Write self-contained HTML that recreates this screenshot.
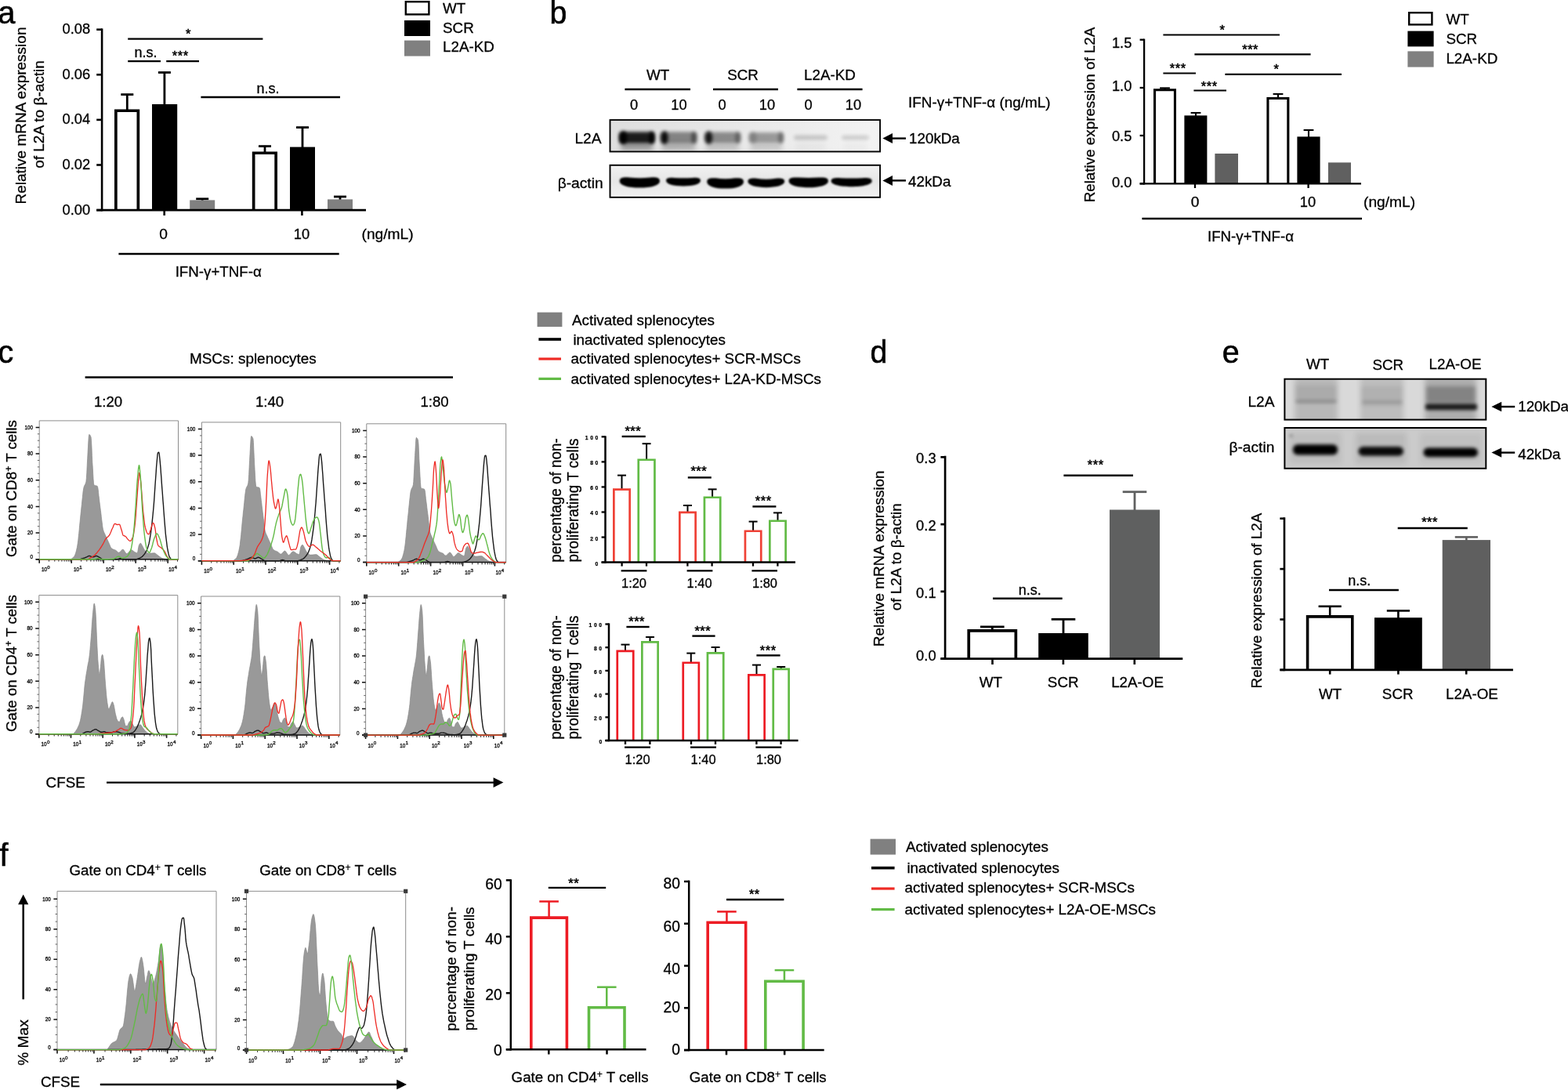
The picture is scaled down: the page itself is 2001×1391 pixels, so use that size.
<!DOCTYPE html>
<html lang="en"><head><meta charset="utf-8"><title>Figure</title>
<style>
html,body{margin:0;padding:0;background:#fff;}
body{width:2001px;height:1391px;overflow:hidden;}
svg{display:block;font-family:"Liberation Sans","DejaVu Sans",sans-serif;}
text{stroke:#000;stroke-width:0.3px;}
</style></head><body>
<svg width="2001" height="1391" viewBox="0 0 2001 1391">
<rect width="2001" height="1391" fill="#fff"/>
<text transform="translate(-2.60 30.40) scale(0.96 1)" font-size="41" style="stroke-width:0.6px">a</text>
<line x1="162.30" y1="120.60" x2="162.30" y2="140.40" stroke="#000" stroke-width="2.8"/>
<line x1="154.30" y1="120.60" x2="170.30" y2="120.60" stroke="#000" stroke-width="2.8"/>
<path d="M147.85,268.10V141.25H176.35V268.10" fill="#fff" stroke="#000" stroke-width="3.7"/>
<line x1="209.90" y1="92.50" x2="209.90" y2="134.00" stroke="#000" stroke-width="2.8"/>
<line x1="201.90" y1="92.50" x2="217.90" y2="92.50" stroke="#000" stroke-width="2.8"/>
<rect x="194.00" y="133.00" width="32.20" height="135.10" fill="#000"/>
<line x1="258.20" y1="253.80" x2="258.20" y2="256.40" stroke="#000" stroke-width="2.8"/>
<line x1="250.20" y1="253.80" x2="266.20" y2="253.80" stroke="#000" stroke-width="2.8"/>
<rect x="242.20" y="255.40" width="32.00" height="12.70" fill="#808080"/>
<line x1="338.00" y1="186.60" x2="338.00" y2="194.40" stroke="#000" stroke-width="2.8"/>
<line x1="330.00" y1="186.60" x2="346.00" y2="186.60" stroke="#000" stroke-width="2.8"/>
<path d="M323.65,268.10V195.25H352.15V268.10" fill="#fff" stroke="#000" stroke-width="3.7"/>
<line x1="386.00" y1="162.60" x2="386.00" y2="188.60" stroke="#000" stroke-width="2.8"/>
<line x1="378.00" y1="162.60" x2="394.00" y2="162.60" stroke="#000" stroke-width="2.8"/>
<rect x="370.00" y="187.60" width="32.00" height="80.50" fill="#000"/>
<line x1="434.00" y1="251.00" x2="434.00" y2="255.40" stroke="#000" stroke-width="2.8"/>
<line x1="426.00" y1="251.00" x2="442.00" y2="251.00" stroke="#000" stroke-width="2.8"/>
<rect x="418.00" y="254.40" width="32.00" height="13.70" fill="#808080"/>
<line x1="130.10" y1="36.40" x2="130.10" y2="269.40" stroke="#000" stroke-width="2.6"/>
<line x1="123.20" y1="268.10" x2="130.10" y2="268.10" stroke="#000" stroke-width="2.6"/>
<text transform="translate(115.20 273.50) scale(0.955 1)" font-size="19.2" text-anchor="end">0.00</text>
<line x1="123.20" y1="210.50" x2="130.10" y2="210.50" stroke="#000" stroke-width="2.6"/>
<text transform="translate(115.20 215.90) scale(0.955 1)" font-size="19.2" text-anchor="end">0.02</text>
<line x1="123.20" y1="152.90" x2="130.10" y2="152.90" stroke="#000" stroke-width="2.6"/>
<text transform="translate(115.20 158.30) scale(0.955 1)" font-size="19.2" text-anchor="end">0.04</text>
<line x1="123.20" y1="95.30" x2="130.10" y2="95.30" stroke="#000" stroke-width="2.6"/>
<text transform="translate(115.20 100.70) scale(0.955 1)" font-size="19.2" text-anchor="end">0.06</text>
<line x1="123.20" y1="37.70" x2="130.10" y2="37.70" stroke="#000" stroke-width="2.6"/>
<text transform="translate(115.20 43.10) scale(0.955 1)" font-size="19.2" text-anchor="end">0.08</text>
<line x1="209.70" y1="268.10" x2="209.70" y2="275.00" stroke="#000" stroke-width="2.6"/>
<line x1="385.40" y1="268.10" x2="385.40" y2="275.00" stroke="#000" stroke-width="2.6"/>
<line x1="123.20" y1="268.10" x2="467.00" y2="268.10" stroke="#000" stroke-width="2.6"/>
<line x1="163.20" y1="49.60" x2="335.40" y2="49.60" stroke="#000" stroke-width="2.4"/>
<text x="240.45" y="49.00" font-size="16.5" text-anchor="middle" letter-spacing="0.5" style="stroke-width:0.55px">*</text>
<line x1="163.20" y1="78.10" x2="205.00" y2="78.10" stroke="#000" stroke-width="2.4"/>
<text transform="translate(186.00 72.80) scale(0.94 1)" font-size="19.2" text-anchor="middle">n.s.</text>
<line x1="212.20" y1="78.10" x2="254.00" y2="78.10" stroke="#000" stroke-width="2.4"/>
<text x="230.25" y="76.60" font-size="16.5" text-anchor="middle" letter-spacing="0.5" style="stroke-width:0.55px">***</text>
<line x1="256.40" y1="124.00" x2="434.00" y2="124.00" stroke="#000" stroke-width="2.4"/>
<text transform="translate(342.00 119.00) scale(0.94 1)" font-size="19.2" text-anchor="middle">n.s.</text>
<text x="208.60" y="305.00" font-size="19.2" text-anchor="middle">0</text>
<text transform="translate(385.00 305.00) scale(0.955 1)" font-size="19.2" text-anchor="middle">10</text>
<text x="461.50" y="305.00" font-size="19.2">(ng/mL)</text>
<line x1="151.40" y1="324.00" x2="432.70" y2="324.00" stroke="#000" stroke-width="2.4"/>
<text transform="translate(278.70 353.00) scale(0.975 1)" font-size="19.2" text-anchor="middle">IFN-γ+TNF-α</text>
<text transform="translate(33.30 147.50) rotate(-90) scale(0.99 1)" font-size="19.2" text-anchor="middle">Relative mRNA expression</text>
<text transform="translate(56.30 146.00) rotate(-90) scale(0.99 1)" font-size="19.2" text-anchor="middle">of L2A to β-actin</text>
<rect x="517.80" y="2.20" width="29.60" height="16.20" fill="#fff" stroke="#000" stroke-width="2.4"/>
<rect x="516.00" y="26.00" width="33.00" height="20.00" fill="#000"/>
<rect x="516.00" y="51.60" width="33.00" height="20.00" fill="#808080"/>
<text transform="translate(565.00 17.00) scale(0.98 1)" font-size="19.2">WT</text>
<text transform="translate(565.00 42.00) scale(0.98 1)" font-size="19.2">SCR</text>
<text transform="translate(565.00 66.40) scale(0.98 1)" font-size="19.2">L2A-KD</text>
<text transform="translate(701.60 30.40) scale(0.96 1)" font-size="41" style="stroke-width:0.6px">b</text>
<text transform="translate(839.60 102.40) scale(0.98 1)" font-size="19.2" text-anchor="middle">WT</text>
<line x1="797.40" y1="114.00" x2="881.00" y2="114.00" stroke="#000" stroke-width="2.4"/>
<text transform="translate(948.00 102.40) scale(0.98 1)" font-size="19.2" text-anchor="middle">SCR</text>
<line x1="910.00" y1="114.00" x2="993.00" y2="114.00" stroke="#000" stroke-width="2.4"/>
<text transform="translate(1059.00 102.40) scale(0.98 1)" font-size="19.2" text-anchor="middle">L2A-KD</text>
<line x1="1017.40" y1="114.00" x2="1100.60" y2="114.00" stroke="#000" stroke-width="2.4"/>
<text transform="translate(809.00 140.40) scale(0.955 1)" font-size="19.2" text-anchor="middle">0</text>
<text transform="translate(866.40 140.40) scale(0.955 1)" font-size="19.2" text-anchor="middle">10</text>
<text transform="translate(921.60 140.40) scale(0.955 1)" font-size="19.2" text-anchor="middle">0</text>
<text transform="translate(979.00 140.40) scale(0.955 1)" font-size="19.2" text-anchor="middle">10</text>
<text transform="translate(1031.60 140.40) scale(0.955 1)" font-size="19.2" text-anchor="middle">0</text>
<text transform="translate(1089.00 140.40) scale(0.955 1)" font-size="19.2" text-anchor="middle">10</text>
<text transform="translate(1159.00 137.00) scale(0.985 1)" font-size="19.2">IFN-γ+TNF-α (ng/mL)</text>
<text x="767.60" y="183.00" font-size="19.2" text-anchor="end">L2A</text>
<text x="769.60" y="240.00" font-size="19.2" text-anchor="end">β-actin</text>
<line x1="1138.00" y1="176.60" x2="1156.00" y2="176.60" stroke="#000" stroke-width="2.4"/>
<polygon points="1126.40,176.60 1139.00,170.10 1139.00,183.10" fill="#000"/>
<text transform="translate(1160.00 183.00) scale(0.98 1)" font-size="19.2">120kDa</text>
<line x1="1138.00" y1="230.40" x2="1156.00" y2="230.40" stroke="#000" stroke-width="2.4"/>
<polygon points="1126.40,230.40 1139.00,223.90 1139.00,236.90" fill="#000"/>
<text transform="translate(1159.00 238.00) scale(0.98 1)" font-size="19.2">42kDa</text>
<defs><filter id="bl3" filterUnits="userSpaceOnUse" x="0" y="0" width="2001" height="1391"><feGaussianBlur stdDeviation="2"/></filter><filter id="bl5" filterUnits="userSpaceOnUse" x="0" y="0" width="2001" height="1391"><feGaussianBlur stdDeviation="3"/></filter><filter id="bl2" filterUnits="userSpaceOnUse" x="0" y="0" width="2001" height="1391"><feGaussianBlur stdDeviation="1.1"/></filter><clipPath id="cb1"><rect x="778.5" y="153.1" width="344.6" height="40.4"/></clipPath><clipPath id="cb2"><rect x="778.5" y="210.8" width="344.6" height="41.0"/></clipPath><linearGradient id="gb1" x1="0" x2="1" y1="0" y2="0"><stop offset="0" stop-color="#dedede"/><stop offset="0.55" stop-color="#e9e9e9"/><stop offset="1" stop-color="#f3f3f3"/></linearGradient><linearGradient id="gb2" x1="0" x2="0" y1="0" y2="1"><stop offset="0" stop-color="#f1f1f1"/><stop offset="0.5" stop-color="#e6e6e6"/><stop offset="1" stop-color="#f1f1f1"/></linearGradient></defs>
<rect x="778.50" y="153.10" width="344.60" height="40.40" fill="url(#gb1)"/>
<g clip-path="url(#cb1)">
<rect x="790.0" y="168.3" width="45.5" height="14.6" rx="4" fill="#000" opacity="0.88" filter="url(#bl3)"/>
<ellipse cx="795.5" cy="175.8" rx="4.6" ry="8.2" fill="#000" opacity="1.0" filter="url(#bl3)"/>
<ellipse cx="831.5" cy="175.8" rx="3.2" ry="7.8" fill="#000" opacity="1.0" filter="url(#bl3)"/>
<rect x="792.0" y="183.5" width="41.5" height="7" rx="3" fill="#000" opacity="0.42" filter="url(#bl5)"/>
<rect x="842.5" y="168.2" width="47.0" height="14.8" rx="4" fill="#000" opacity="0.42" filter="url(#bl3)"/>
<ellipse cx="848.0" cy="175.8" rx="4.6" ry="8.2" fill="#000" opacity="0.92" filter="url(#bl3)"/>
<ellipse cx="885.5" cy="175.8" rx="3.2" ry="7.8" fill="#000" opacity="0.45" filter="url(#bl3)"/>
<rect x="844.5" y="183.5" width="43.0" height="7" rx="3" fill="#000" opacity="0.3" filter="url(#bl5)"/>
<rect x="899.0" y="168.6" width="46.4" height="14.0" rx="4" fill="#000" opacity="0.4" filter="url(#bl3)"/>
<ellipse cx="904.5" cy="175.8" rx="4.6" ry="8.2" fill="#000" opacity="0.85" filter="url(#bl3)"/>
<ellipse cx="941.4" cy="175.8" rx="3.2" ry="7.8" fill="#000" opacity="0.3" filter="url(#bl3)"/>
<rect x="901.0" y="183.5" width="42.4" height="7" rx="3" fill="#000" opacity="0.22" filter="url(#bl5)"/>
<rect x="955.5" y="169.0" width="44.8" height="13.2" rx="4" fill="#000" opacity="0.34" filter="url(#bl3)"/>
<ellipse cx="961.0" cy="175.8" rx="4.6" ry="8.2" fill="#000" opacity="0.15" filter="url(#bl3)"/>
<ellipse cx="996.3" cy="175.8" rx="3.2" ry="7.8" fill="#000" opacity="0.3" filter="url(#bl3)"/>
<rect x="957.5" y="183.5" width="40.8" height="7" rx="3" fill="#000" opacity="0.2" filter="url(#bl5)"/>
<rect x="1013.0" y="172.4" width="43.0" height="6.4" rx="4" fill="#000" opacity="0.17" filter="url(#bl3)"/>
<rect x="1015.0" y="183.5" width="39.0" height="7" rx="3" fill="#000" opacity="0.04" filter="url(#bl5)"/>
<rect x="1074.0" y="172.8" width="35.0" height="5.6" rx="4" fill="#000" opacity="0.15" filter="url(#bl3)"/>
<rect x="1076.0" y="183.5" width="31.0" height="7" rx="3" fill="#000" opacity="0.03" filter="url(#bl5)"/>
</g>
<rect x="778.50" y="153.10" width="344.60" height="40.40" fill="none" stroke="#000" stroke-width="1.9"/>
<rect x="778.50" y="210.80" width="344.60" height="41.00" fill="url(#gb2)"/>
<g clip-path="url(#cb2)" filter="url(#bl2)">
<path d="M790.7,231.0 C790.7,226.5 795.8,226.0 803.0,226.5 Q816.4,228.0 829.7,226.5 C836.9,226.0 842.0,226.5 842.0,231.0 C842.0,236.7 830.7,239.6 816.4,239.6 C802.0,239.6 790.7,236.7 790.7,231.0Z" fill="#000"/>
<path d="M850.0,230.5 C850.0,226.9 854.4,226.4 860.6,226.9 Q872.0,227.4 883.4,226.9 C889.6,226.4 894.0,226.9 894.0,230.5 C894.0,235.0 884.3,237.4 872.0,237.4 C859.7,237.4 850.0,235.0 850.0,230.5Z" fill="#000"/>
<path d="M902.2,231.9 C902.2,227.3 906.9,226.8 913.4,227.3 Q925.6,229.2 937.8,227.3 C944.3,226.8 949.0,227.3 949.0,231.9 C949.0,237.6 938.7,240.6 925.6,240.6 C912.5,240.6 902.2,237.6 902.2,231.9Z" fill="#000"/>
<path d="M954.4,231.6 C954.4,227.7 959.1,227.2 965.6,227.7 Q977.8,230.0 990.0,227.7 C996.5,227.2 1001.2,227.7 1001.2,231.6 C1001.2,236.6 990.9,239.2 977.8,239.2 C964.7,239.2 954.4,236.6 954.4,231.6Z" fill="#000"/>
<path d="M1006.6,230.9 C1006.6,226.6 1011.6,226.1 1018.7,226.6 Q1031.8,227.3 1044.9,226.6 C1052.0,226.1 1057.0,226.6 1057.0,230.9 C1057.0,236.4 1045.9,239.2 1031.8,239.2 C1017.7,239.2 1006.6,236.4 1006.6,230.9Z" fill="#000"/>
<path d="M1060.6,231.0 C1060.6,227.2 1065.8,226.7 1073.1,227.2 Q1086.7,227.7 1100.2,227.2 C1107.5,226.7 1112.7,227.2 1112.7,231.0 C1112.7,235.7 1101.2,238.2 1086.7,238.2 C1072.1,238.2 1060.6,235.7 1060.6,231.0Z" fill="#000"/>
</g>
<rect x="778.50" y="210.80" width="344.60" height="41.00" fill="none" stroke="#000" stroke-width="1.9"/>
<line x1="1486.50" y1="112.40" x2="1486.50" y2="114.20" stroke="#000" stroke-width="2.1"/>
<line x1="1480.10" y1="112.40" x2="1492.90" y2="112.40" stroke="#000" stroke-width="2.1"/>
<path d="M1473.55,234.40V114.75H1499.45V234.40" fill="#fff" stroke="#000" stroke-width="3.1"/>
<line x1="1526.00" y1="144.00" x2="1526.00" y2="148.40" stroke="#000" stroke-width="2.1"/>
<line x1="1519.60" y1="144.00" x2="1532.40" y2="144.00" stroke="#000" stroke-width="2.1"/>
<rect x="1511.40" y="147.40" width="29.00" height="87.00" fill="#000"/>
<rect x="1550.40" y="196.00" width="29.60" height="38.40" fill="#606060"/>
<line x1="1631.00" y1="120.00" x2="1631.00" y2="125.00" stroke="#000" stroke-width="2.1"/>
<line x1="1624.60" y1="120.00" x2="1637.40" y2="120.00" stroke="#000" stroke-width="2.1"/>
<path d="M1617.95,234.40V125.55H1643.85V234.40" fill="#fff" stroke="#000" stroke-width="3.1"/>
<line x1="1670.00" y1="166.00" x2="1670.00" y2="175.40" stroke="#000" stroke-width="2.1"/>
<line x1="1663.60" y1="166.00" x2="1676.40" y2="166.00" stroke="#000" stroke-width="2.1"/>
<rect x="1655.40" y="174.40" width="29.20" height="60.00" fill="#000"/>
<rect x="1695.00" y="207.40" width="29.00" height="27.00" fill="#606060"/>
<line x1="1460.10" y1="49.60" x2="1460.10" y2="235.50" stroke="#000" stroke-width="2.3"/>
<line x1="1454.60" y1="234.40" x2="1460.10" y2="234.40" stroke="#000" stroke-width="2.3"/>
<text transform="translate(1444.40 238.80) scale(0.955 1)" font-size="19.2" text-anchor="end">0.0</text>
<line x1="1454.60" y1="173.00" x2="1460.10" y2="173.00" stroke="#000" stroke-width="2.3"/>
<text transform="translate(1444.40 179.60) scale(0.955 1)" font-size="19.2" text-anchor="end">0.5</text>
<line x1="1454.60" y1="112.00" x2="1460.10" y2="112.00" stroke="#000" stroke-width="2.3"/>
<text transform="translate(1444.40 116.00) scale(0.955 1)" font-size="19.2" text-anchor="end">1.0</text>
<line x1="1454.60" y1="50.70" x2="1460.10" y2="50.70" stroke="#000" stroke-width="2.3"/>
<text transform="translate(1444.40 60.80) scale(0.955 1)" font-size="19.2" text-anchor="end">1.5</text>
<line x1="1525.00" y1="234.40" x2="1525.00" y2="240.00" stroke="#000" stroke-width="2.3"/>
<line x1="1669.60" y1="234.40" x2="1669.60" y2="240.00" stroke="#000" stroke-width="2.3"/>
<line x1="1454.60" y1="234.40" x2="1737.00" y2="234.40" stroke="#000" stroke-width="2.3"/>
<line x1="1484.40" y1="44.50" x2="1633.00" y2="44.50" stroke="#000" stroke-width="2.2"/>
<text x="1559.85" y="44.20" font-size="16.5" text-anchor="middle" letter-spacing="0.5" style="stroke-width:0.55px">*</text>
<line x1="1524.40" y1="69.40" x2="1672.60" y2="69.40" stroke="#000" stroke-width="2.2"/>
<text x="1595.65" y="69.20" font-size="16.5" text-anchor="middle" letter-spacing="0.5" style="stroke-width:0.55px">***</text>
<line x1="1484.40" y1="93.50" x2="1526.00" y2="93.50" stroke="#000" stroke-width="2.2"/>
<text x="1503.25" y="93.00" font-size="16.5" text-anchor="middle" letter-spacing="0.5" style="stroke-width:0.55px">***</text>
<line x1="1563.40" y1="94.80" x2="1712.00" y2="94.80" stroke="#000" stroke-width="2.2"/>
<text x="1628.85" y="94.20" font-size="16.5" text-anchor="middle" letter-spacing="0.5" style="stroke-width:0.55px">*</text>
<line x1="1523.40" y1="115.50" x2="1565.00" y2="115.50" stroke="#000" stroke-width="2.2"/>
<text x="1543.25" y="116.00" font-size="16.5" text-anchor="middle" letter-spacing="0.5" style="stroke-width:0.55px">***</text>
<text x="1525.00" y="263.60" font-size="19.2" text-anchor="middle">0</text>
<text transform="translate(1669.00 263.60) scale(0.955 1)" font-size="19.2" text-anchor="middle">10</text>
<text x="1740.00" y="263.60" font-size="19.2">(ng/mL)</text>
<line x1="1457.40" y1="279.00" x2="1738.00" y2="279.00" stroke="#000" stroke-width="2.4"/>
<text transform="translate(1596.00 308.00) scale(0.975 1)" font-size="19.2" text-anchor="middle">IFN-γ+TNF-α</text>
<text transform="translate(1396.50 146.50) rotate(-90) scale(0.98 1)" font-size="19.2" text-anchor="middle">Relative expression of L2A</text>
<rect x="1798.20" y="16.20" width="29.20" height="15.20" fill="#fff" stroke="#000" stroke-width="2.4"/>
<rect x="1796.40" y="39.60" width="33.20" height="19.80" fill="#000"/>
<rect x="1796.40" y="65.40" width="33.20" height="20.20" fill="#808080"/>
<text transform="translate(1845.40 31.00) scale(0.98 1)" font-size="19.2">WT</text>
<text transform="translate(1845.40 55.60) scale(0.98 1)" font-size="19.2">SCR</text>
<text transform="translate(1845.40 80.60) scale(0.98 1)" font-size="19.2">L2A-KD</text>
<text transform="translate(-2.40 463.20) scale(0.96 1)" font-size="41" style="stroke-width:0.6px">c</text>
<text transform="translate(242.00 464.00) scale(0.985 1)" font-size="19.2">MSCs: splenocytes</text>
<line x1="108.60" y1="481.50" x2="578.00" y2="481.50" stroke="#000" stroke-width="2.4"/>
<text transform="translate(138.00 518.60) scale(0.97 1)" font-size="19.2" text-anchor="middle">1:20</text>
<text transform="translate(344.00 518.60) scale(0.97 1)" font-size="19.2" text-anchor="middle">1:40</text>
<text transform="translate(554.60 518.60) scale(0.97 1)" font-size="19.2" text-anchor="middle">1:80</text>
<text transform="translate(21.00 623.50) rotate(-90) scale(0.975 1)" font-size="19.2" text-anchor="middle">Gate on CD8<tspan dy="-6.5" font-size="12.5">+</tspan><tspan dy="6.5"> T cells</tspan></text>
<text transform="translate(21.00 846.50) rotate(-90) scale(0.975 1)" font-size="19.2" text-anchor="middle">Gate on CD4<tspan dy="-6.5" font-size="12.5">+</tspan><tspan dy="6.5"> T cells</tspan></text>
<g>
<path d="M50.2,713.8 V536.9 H227.5 V713.8" fill="none" stroke="#8c8c8c" stroke-width="1"/>
<path d="M90.4,713.8 L90.8,713.4 L91.3,713.1 L91.7,712.7 L92.2,712.4 L92.6,712.1 L93.1,711.7 L93.5,711.3 L94.0,710.9 L94.4,710.4 L94.9,709.8 L95.3,709.0 L95.8,708.1 L96.2,706.9 L96.6,705.6 L97.1,704.1 L97.5,702.4 L97.9,700.6 L98.4,698.6 L98.8,696.1 L99.3,693.0 L99.8,689.2 L100.2,685.0 L100.7,680.5 L101.2,675.7 L101.6,670.8 L102.1,665.9 L102.6,661.1 L103.0,656.5 L103.5,652.2 L103.9,648.1 L104.4,643.7 L104.8,639.2 L105.3,634.8 L105.7,630.7 L106.1,627.0 L106.6,624.0 L107.0,621.9 L107.5,620.3 L108.0,619.3 L108.5,618.5 L108.9,617.6 L109.4,616.4 L109.9,614.6 L110.3,610.5 L110.8,603.3 L111.2,594.4 L111.7,585.2 L112.1,577.4 L112.5,570.3 L112.9,562.8 L113.3,556.9 L113.8,554.5 L114.2,554.6 L114.7,555.1 L115.2,555.7 L115.6,556.7 L116.1,557.9 L116.5,562.3 L117.0,571.1 L117.4,581.4 L117.8,590.2 L118.3,597.3 L118.7,604.9 L119.1,611.8 L119.5,616.8 L119.9,619.0 L120.4,619.3 L120.9,619.5 L121.4,619.6 L121.8,619.7 L122.3,619.8 L122.8,619.9 L123.3,620.0 L123.8,620.2 L124.3,620.5 L124.7,621.8 L125.2,624.7 L125.6,628.5 L126.0,632.6 L126.5,636.3 L126.9,640.1 L127.4,643.9 L127.9,647.8 L128.4,651.7 L128.9,655.6 L129.3,659.4 L129.7,662.9 L130.2,666.5 L130.6,670.1 L131.0,673.1 L131.4,675.2 L131.9,676.9 L132.3,678.3 L132.8,679.4 L133.3,680.4 L133.8,681.4 L134.2,682.5 L134.7,683.5 L135.2,684.6 L135.6,685.6 L136.1,686.6 L136.5,687.6 L137.0,688.6 L137.4,689.5 L137.9,690.5 L138.3,691.5 L138.8,692.4 L139.2,693.4 L139.6,694.5 L140.1,695.5 L140.5,696.6 L140.9,697.6 L141.4,698.5 L141.8,699.2 L142.2,699.7 L142.7,700.0 L143.2,700.3 L143.7,700.6 L144.2,700.9 L144.7,701.1 L145.1,701.2 L145.6,701.4 L146.1,701.6 L146.6,701.8 L147.1,702.0 L147.5,702.2 L148.0,702.5 L148.5,702.8 L148.9,703.2 L149.3,703.7 L149.7,704.1 L150.2,704.5 L150.6,704.9 L151.0,705.1 L151.5,705.2 L152.0,705.1 L152.4,704.9 L152.9,704.5 L153.4,704.0 L153.9,703.5 L154.4,702.9 L154.9,702.4 L155.3,701.9 L155.8,701.5 L156.3,701.3 L156.8,701.2 L157.2,701.3 L157.7,701.6 L158.1,702.2 L158.6,702.8 L159.0,703.5 L159.5,704.2 L159.9,704.9 L160.4,705.6 L160.8,706.1 L161.3,706.4 L161.7,706.6 L162.2,706.5 L162.7,706.2 L163.2,705.8 L163.6,705.3 L164.1,704.8 L164.6,704.2 L165.1,703.6 L165.5,703.1 L166.0,702.6 L166.5,702.2 L167.0,701.9 L167.5,701.8 L167.9,701.9 L168.4,702.0 L168.8,702.2 L169.2,702.5 L169.7,702.8 L170.1,703.2 L170.6,703.5 L171.0,703.9 L171.5,704.2 L171.9,704.5 L172.4,704.7 L172.8,704.9 L173.3,705.1 L173.7,705.4 L174.2,705.5 L174.6,705.7 L175.0,705.7 L175.5,705.1 L175.9,703.4 L176.3,701.1 L176.7,698.8 L177.1,696.7 L177.5,695.4 L178.0,694.6 L178.4,693.9 L178.9,693.4 L179.4,693.3 L179.8,693.4 L180.2,693.9 L180.6,694.6 L181.0,695.4 L181.4,696.2 L181.8,697.0 L182.3,697.8 L182.7,698.6 L183.2,699.5 L183.7,700.4 L184.1,701.3 L184.6,702.1 L185.0,702.8 L185.5,703.4 L186.0,703.8 L186.4,704.3 L186.9,704.7 L187.3,705.1 L187.8,705.5 L188.2,705.8 L188.7,706.0 L189.1,706.2 L189.6,706.2 L190.1,706.2 L190.5,706.2 L191.0,706.2 L191.4,706.1 L191.9,706.1 L192.4,706.1 L192.8,706.0 L193.3,706.0 L193.8,705.9 L194.2,705.9 L194.7,705.8 L195.1,705.8 L195.6,705.8 L196.1,705.7 L196.5,705.7 L197.0,705.7 L197.4,705.8 L197.9,706.0 L198.3,706.2 L198.8,706.5 L199.3,706.9 L199.7,707.3 L200.2,707.7 L200.6,708.1 L201.1,708.4 L201.6,708.7 L202.0,709.1 L202.5,709.5 L203.0,709.8 L203.5,710.2 L203.9,710.6 L204.4,710.9 L204.9,711.2 L205.4,711.6 L205.9,711.8 L206.3,712.1 L206.8,712.3 L207.3,712.5 L207.8,712.6 L208.3,712.8 L208.7,712.9 L209.2,713.0 L209.7,713.1 L210.2,713.2 L210.6,713.3 L211.1,713.5 L211.6,713.6 L212.1,713.7 L212.6,713.8 Z" fill="#999" stroke="#868686" stroke-width="0.7" stroke-linejoin="round"/>
<path d="M45.6,713.8H50.2 M45.6,680.1H50.2 M45.6,646.4H50.2 M45.6,612.8H50.2 M45.6,579.1H50.2 M45.6,545.4H50.2" stroke="#111" stroke-width="1.5" fill="none"/>
<path d="M47.8,705.4H50.2 M47.8,697.0H50.2 M47.8,688.5H50.2 M47.8,671.7H50.2 M47.8,663.3H50.2 M47.8,654.9H50.2 M47.8,638.0H50.2 M47.8,629.6H50.2 M47.8,621.2H50.2 M47.8,604.3H50.2 M47.8,595.9H50.2 M47.8,587.5H50.2 M47.8,570.7H50.2 M47.8,562.2H50.2 M47.8,553.8H50.2" stroke="#555" stroke-width="0.9" fill="none"/>
<line x1="45.6" y1="713.8" x2="227.5" y2="713.8" stroke="#111" stroke-width="1.5"/>
<path d="M50.2,713.8v5 M91.2,713.8v5 M132.2,713.8v5 M173.2,713.8v5 M214.2,713.8v5" stroke="#111" stroke-width="1.6" fill="none"/>
<path d="M62.5,713.8v2.8 M69.8,713.8v2.8 M74.9,713.8v2.8 M78.9,713.8v2.8 M82.1,713.8v2.8 M84.8,713.8v2.8 M87.2,713.8v2.8 M89.3,713.8v2.8 M103.5,713.8v2.8 M110.8,713.8v2.8 M115.9,713.8v2.8 M119.9,713.8v2.8 M123.1,713.8v2.8 M125.8,713.8v2.8 M128.2,713.8v2.8 M130.3,713.8v2.8 M144.5,713.8v2.8 M151.8,713.8v2.8 M156.9,713.8v2.8 M160.9,713.8v2.8 M164.1,713.8v2.8 M166.8,713.8v2.8 M169.2,713.8v2.8 M171.3,713.8v2.8 M185.5,713.8v2.8 M192.8,713.8v2.8 M197.9,713.8v2.8 M201.9,713.8v2.8 M205.1,713.8v2.8 M207.8,713.8v2.8 M210.2,713.8v2.8 M212.3,713.8v2.8 M226.5,713.8v2.8" stroke="#222" stroke-width="1.0" fill="none"/>
<path d="M50.2,713.8 H101.9 L101.9,713.8 L102.4,713.6 L102.8,713.5 L103.3,713.3 L103.8,713.2 L104.3,713.0 L104.8,712.9 L105.3,712.7 L105.8,712.6 L106.3,712.4 L106.8,712.3 L107.3,712.1 L107.8,712.0 L108.3,711.8 L108.7,711.6 L109.2,711.4 L109.7,711.3 L110.1,711.0 L110.6,710.8 L111.0,710.6 L111.5,710.3 L111.9,710.1 L112.4,709.9 L112.8,709.7 L113.3,709.5 L113.7,709.5 L114.2,709.4 L114.6,709.5 L115.1,709.6 L115.6,709.8 L116.1,710.1 L116.6,710.3 L117.1,710.5 L117.6,710.7 L118.1,710.9 L118.5,710.9 L119.0,710.9 L119.5,710.7 L120.0,710.5 L120.4,710.3 L120.9,710.1 L121.4,709.8 L121.8,709.6 L122.3,709.5 L122.8,709.4 L123.3,709.5 L123.7,709.6 L124.2,709.8 L124.7,710.0 L125.2,710.3 L125.7,710.6 L126.2,710.9 L126.7,711.2 L127.2,711.4 L127.6,711.7 L128.1,712.0 L128.6,712.4 L129.0,712.7 L129.5,713.1 L130.0,713.3 L130.4,713.6 L130.9,713.7 L131.4,713.8 L131.9,713.8 L132.4,713.8 L132.8,713.8 L133.3,713.8 L133.8,713.8 L134.3,713.8 L134.8,713.8 L135.3,713.8 L135.8,713.8 L136.3,713.8 L136.7,713.8 L137.2,713.8 L137.7,713.8 L138.2,713.8 L138.7,713.8 L139.2,713.8 L139.7,713.8 L140.2,713.8 L140.6,713.8 L141.1,713.8 L141.6,713.8 L142.1,713.8 L142.6,713.8 L143.1,713.8 L143.6,713.8 L144.1,713.8 L144.5,713.8 L145.0,713.8 L145.5,713.8 L146.0,713.8 L146.5,713.8 L147.0,713.8 L147.5,713.8 L148.0,713.8 L148.4,713.8 L148.9,713.8 L149.4,713.8 L149.9,713.8 L150.3,713.7 L150.8,713.5 L151.2,713.4 L151.7,713.2 L152.1,713.0 L152.6,712.9 L153.0,712.7 L153.5,712.7 L153.9,712.6 L154.4,712.7 L154.8,712.8 L155.3,712.9 L155.8,713.1 L156.2,713.3 L156.7,713.5 L157.1,713.7 L157.6,713.8 L158.0,713.8 L158.5,713.8 L159.0,713.8 L159.5,713.8 L159.9,713.8 L160.4,713.8 L160.9,713.8 L161.4,713.8 L161.9,713.8 L162.3,713.8 L162.8,713.8 L163.3,713.8 L163.8,713.8 L164.2,713.8 L164.7,713.8 L165.2,713.8 L165.7,713.8 L166.2,713.8 L166.6,713.8 L167.1,713.8 L167.6,713.8 L168.1,713.8 L168.6,713.8 L169.0,713.8 L169.5,713.8 L170.0,713.8 L170.5,713.8 L170.9,713.8 L171.4,713.8 L171.9,713.8 L172.4,713.8 L172.8,713.8 L173.3,713.7 L173.8,713.7 L174.2,713.6 L174.7,713.5 L175.1,713.4 L175.6,713.2 L176.1,713.1 L176.5,712.9 L177.0,712.7 L177.5,712.5 L177.9,712.3 L178.4,712.1 L178.8,711.9 L179.3,711.7 L179.8,711.4 L180.2,711.2 L180.7,710.9 L181.2,710.5 L181.7,710.1 L182.2,709.6 L182.6,709.1 L183.1,708.6 L183.6,708.0 L184.1,707.4 L184.5,706.8 L185.0,706.1 L185.5,705.4 L186.0,704.7 L186.4,703.8 L186.9,702.9 L187.3,701.9 L187.8,700.9 L188.2,699.7 L188.7,698.4 L189.1,697.0 L189.6,695.4 L190.1,693.7 L190.5,691.6 L191.0,689.1 L191.4,686.4 L191.9,683.5 L192.4,680.4 L192.8,677.1 L193.3,673.7 L193.8,669.9 L194.2,665.6 L194.7,660.9 L195.2,655.8 L195.7,650.5 L196.2,644.9 L196.6,639.7 L197.0,634.0 L197.4,628.0 L197.8,622.0 L198.2,616.1 L198.7,609.3 L199.2,602.4 L199.6,595.8 L200.1,590.2 L200.6,584.9 L201.0,580.2 L201.5,577.9 L201.9,577.5 L202.3,577.3 L202.7,577.2 L203.2,578.9 L203.6,582.8 L204.1,587.3 L204.5,592.0 L205.0,597.6 L205.4,603.8 L205.9,610.1 L206.3,616.1 L206.7,621.9 L207.2,627.7 L207.6,633.5 L208.0,639.3 L208.5,644.9 L208.9,651.3 L209.4,657.8 L209.9,664.2 L210.4,670.4 L210.9,676.0 L211.3,681.0 L211.8,685.3 L212.3,689.5 L212.8,693.3 L213.2,696.8 L213.7,699.9 L214.2,702.5 L214.6,704.5 L215.0,706.4 L215.4,708.0 L215.8,709.4 L216.2,710.4 L216.7,711.3 L217.2,712.0 L217.6,712.6 L218.1,713.2 L218.5,713.8 L227.5,713.8" fill="none" stroke="#1a1a1a" stroke-width="1.4" stroke-linejoin="round"/>
<path d="M50.2,713.8 H112.1 L112.1,713.8 L112.6,713.5 L113.1,713.2 L113.5,712.9 L114.0,712.7 L114.5,712.4 L115.0,712.1 L115.5,711.9 L115.9,711.6 L116.4,711.3 L116.9,711.0 L117.4,710.8 L117.8,710.5 L118.3,710.2 L118.8,709.8 L119.3,709.5 L119.8,709.2 L120.2,708.8 L120.7,708.4 L121.2,708.0 L121.7,707.5 L122.2,707.1 L122.6,706.6 L123.1,706.0 L123.6,705.5 L124.1,704.9 L124.5,704.3 L125.0,703.7 L125.5,703.1 L126.0,702.5 L126.5,701.8 L126.9,701.2 L127.4,700.6 L127.9,699.9 L128.4,699.2 L128.9,698.5 L129.3,697.7 L129.8,697.0 L130.3,696.2 L130.8,695.4 L131.2,694.6 L131.7,693.7 L132.2,692.8 L132.7,691.8 L133.2,690.8 L133.6,689.9 L134.1,689.0 L134.6,688.2 L135.1,687.5 L135.5,687.0 L136.0,686.4 L136.5,686.0 L137.0,685.6 L137.5,685.2 L137.9,684.8 L138.4,684.3 L138.9,683.8 L139.4,683.2 L139.9,682.4 L140.3,681.5 L140.8,680.5 L141.3,679.3 L141.8,678.2 L142.2,677.0 L142.7,675.8 L143.2,674.7 L143.7,673.7 L144.2,672.7 L144.6,671.5 L145.1,670.3 L145.6,669.3 L146.1,668.6 L146.6,668.3 L147.0,668.4 L147.5,668.6 L148.0,668.9 L148.5,669.2 L148.9,669.4 L149.4,669.5 L149.9,669.5 L150.4,669.4 L150.9,669.3 L151.3,669.3 L151.8,669.2 L152.3,669.2 L152.8,669.5 L153.2,670.5 L153.7,671.9 L154.2,673.6 L154.7,675.2 L155.2,676.8 L155.6,678.1 L156.0,679.7 L156.4,681.2 L156.8,682.5 L157.2,683.2 L157.7,683.5 L158.2,683.7 L158.6,683.9 L159.1,684.0 L159.6,684.2 L160.1,684.5 L160.5,684.9 L161.0,685.4 L161.5,686.0 L161.9,686.6 L162.4,687.3 L162.8,687.9 L163.3,688.4 L163.8,688.9 L164.2,689.3 L164.7,689.7 L165.1,690.0 L165.6,690.3 L166.0,690.4 L166.5,690.3 L166.9,690.0 L167.3,689.5 L167.8,688.9 L168.2,688.2 L168.6,687.3 L169.1,686.4 L169.5,685.3 L170.0,683.8 L170.5,681.6 L170.9,678.8 L171.4,675.5 L171.9,671.9 L172.4,668.0 L172.8,663.5 L173.3,657.9 L173.7,651.7 L174.2,645.3 L174.6,639.2 L175.1,633.2 L175.5,626.8 L176.0,620.6 L176.4,615.0 L176.9,610.4 L177.2,607.2 L177.6,604.4 L177.9,603.2 L178.4,604.4 L178.8,607.6 L179.3,611.8 L179.8,616.1 L180.2,621.1 L180.7,627.2 L181.2,633.9 L181.7,640.7 L182.2,647.0 L182.6,652.2 L183.1,656.6 L183.6,660.9 L184.1,665.0 L184.5,668.5 L185.0,671.5 L185.5,673.7 L186.0,675.4 L186.5,677.0 L186.9,678.3 L187.4,679.5 L187.9,680.3 L188.4,681.0 L188.8,681.4 L189.2,681.7 L189.6,681.8 L190.1,681.5 L190.6,680.6 L191.0,679.4 L191.5,678.0 L192.0,676.6 L192.5,675.2 L192.9,673.8 L193.4,672.1 L193.9,670.4 L194.4,668.8 L194.9,667.7 L195.3,667.3 L195.8,667.6 L196.2,668.3 L196.6,669.3 L197.0,670.7 L197.4,672.1 L197.8,673.7 L198.2,675.9 L198.6,679.0 L199.0,682.4 L199.4,685.6 L199.9,688.2 L200.3,690.2 L200.7,692.2 L201.1,693.9 L201.5,695.3 L201.9,696.1 L202.4,696.7 L202.8,697.1 L203.3,697.5 L203.7,697.8 L204.2,698.0 L204.7,698.3 L205.1,698.6 L205.6,699.0 L206.1,699.4 L206.5,699.8 L207.0,700.2 L207.5,700.7 L208.0,701.1 L208.5,701.6 L208.9,702.2 L209.4,702.7 L209.9,703.4 L210.3,704.1 L210.8,704.9 L211.2,705.8 L211.6,706.9 L212.1,707.9 L212.5,708.8 L212.9,709.7 L213.4,710.4 L213.9,711.1 L214.3,711.7 L214.8,712.2 L215.3,712.7 L215.8,713.3 L216.2,713.8 L227.5,713.8" fill="none" stroke="#ee2a24" stroke-width="1.3" stroke-linejoin="round"/>
<path d="M50.2,713.8 H120.7 L120.7,713.8 L121.2,713.7 L121.6,713.5 L122.1,713.3 L122.5,713.1 L123.0,713.0 L123.5,712.8 L123.9,712.7 L124.4,712.6 L124.8,712.6 L125.3,712.6 L125.8,712.7 L126.3,712.8 L126.7,712.9 L127.2,713.1 L127.7,713.2 L128.2,713.4 L128.6,713.5 L129.1,713.6 L129.6,713.7 L130.1,713.8 L130.6,713.8 L131.0,713.8 L131.5,713.8 L132.0,713.8 L132.5,713.8 L133.0,713.8 L133.4,713.8 L133.9,713.8 L134.4,713.8 L134.9,713.8 L135.4,713.7 L135.8,713.7 L136.3,713.7 L136.8,713.7 L137.3,713.7 L137.8,713.7 L138.3,713.6 L138.7,713.6 L139.2,713.6 L139.7,713.6 L140.2,713.6 L140.7,713.5 L141.1,713.5 L141.6,713.5 L142.1,713.5 L142.6,713.4 L143.1,713.4 L143.5,713.4 L144.0,713.3 L144.5,713.3 L145.0,713.2 L145.4,713.1 L145.9,712.9 L146.4,712.7 L146.8,712.4 L147.3,712.1 L147.8,711.8 L148.2,711.5 L148.7,711.2 L149.1,710.9 L149.6,710.6 L150.1,710.4 L150.5,710.2 L151.0,710.1 L151.5,710.1 L151.9,710.2 L152.4,710.3 L152.8,710.6 L153.3,710.9 L153.7,711.2 L154.2,711.5 L154.6,711.8 L155.1,712.1 L155.5,712.2 L156.0,712.3 L156.5,712.3 L156.9,712.2 L157.4,712.1 L157.9,712.0 L158.4,711.9 L158.9,711.8 L159.3,711.6 L159.8,711.4 L160.3,711.2 L160.8,710.9 L161.2,710.7 L161.7,710.4 L162.2,710.1 L162.7,709.7 L163.2,709.1 L163.7,708.5 L164.2,707.7 L164.7,706.9 L165.2,705.9 L165.7,704.9 L166.1,703.7 L166.6,702.5 L167.1,701.1 L167.6,699.2 L168.0,696.9 L168.5,694.3 L168.9,691.3 L169.4,688.1 L169.9,684.6 L170.3,681.0 L170.8,676.5 L171.3,671.1 L171.8,665.0 L172.2,658.5 L172.7,651.7 L173.2,644.9 L173.6,638.7 L174.0,631.9 L174.4,625.0 L174.8,618.6 L175.2,613.3 L175.7,608.0 L176.2,602.8 L176.6,598.2 L177.1,595.0 L177.5,593.7 L178.0,595.3 L178.4,599.4 L178.9,604.8 L179.4,610.4 L179.8,616.0 L180.2,622.9 L180.6,630.6 L181.0,638.4 L181.4,645.8 L181.8,652.2 L182.3,658.7 L182.8,665.1 L183.2,671.0 L183.7,676.5 L184.2,681.3 L184.7,685.3 L185.2,688.8 L185.6,692.1 L186.1,695.1 L186.6,697.7 L187.1,699.7 L187.6,701.2 L188.0,702.2 L188.5,703.2 L189.0,704.0 L189.5,704.6 L189.9,705.1 L190.4,705.2 L190.9,705.0 L191.4,704.3 L191.9,703.3 L192.3,702.1 L192.8,700.9 L193.3,699.7 L193.8,698.3 L194.2,696.8 L194.7,695.0 L195.1,693.1 L195.6,691.3 L196.1,689.5 L196.5,688.0 L197.0,686.7 L197.4,685.6 L197.9,684.5 L198.3,683.4 L198.7,682.4 L199.2,681.7 L199.6,681.1 L200.1,681.0 L200.5,681.1 L200.9,681.5 L201.4,682.1 L201.8,682.9 L202.2,683.8 L202.7,684.7 L203.1,685.7 L203.5,686.7 L204.0,687.8 L204.4,689.1 L204.8,690.6 L205.3,692.2 L205.7,693.9 L206.2,695.5 L206.6,697.0 L207.0,698.3 L207.5,699.6 L208.0,700.9 L208.5,702.2 L208.9,703.4 L209.4,704.5 L209.9,705.6 L210.4,706.6 L210.9,707.6 L211.3,708.4 L211.8,709.2 L212.3,709.8 L212.8,710.5 L213.2,711.0 L213.7,711.6 L214.2,712.1 L214.7,712.7 L215.2,713.2 L215.6,713.8 L227.5,713.8" fill="none" stroke="#62bb46" stroke-width="1.4" stroke-linejoin="round"/>
<g font-size="6.3" fill="#222" class="tk">
<text x="42.0" y="713.4" text-anchor="end">0</text>
<text x="42.0" y="682.3" text-anchor="end">20</text>
<text x="42.0" y="648.6" text-anchor="end">40</text>
<text x="42.0" y="615.0" text-anchor="end">60</text>
<text x="42.0" y="581.3" text-anchor="end">80</text>
<text x="42.0" y="547.6" text-anchor="end">100</text>
<text x="53.0" y="729.4">10<tspan dy="-3.6" dx="0.3" font-size="6.2">0</tspan></text>
<text x="94.0" y="729.4">10<tspan dy="-3.6" dx="0.3" font-size="6.2">1</tspan></text>
<text x="135.0" y="729.4">10<tspan dy="-3.6" dx="0.3" font-size="6.2">2</tspan></text>
<text x="176.0" y="729.4">10<tspan dy="-3.6" dx="0.3" font-size="6.2">3</tspan></text>
<text x="215.2" y="729.4">10<tspan dy="-3.6" dx="0.3" font-size="6.2">4</tspan></text>
</g>
</g>
<g>
<path d="M257.4,715.7 V538.9 H434.7 V715.7" fill="none" stroke="#8c8c8c" stroke-width="1"/>
<path d="M297.4,715.7 L297.8,715.3 L298.3,715.0 L298.7,714.6 L299.2,714.3 L299.6,714.0 L300.1,713.6 L300.5,713.2 L301.0,712.8 L301.4,712.3 L301.9,711.7 L302.3,710.9 L302.7,710.0 L303.2,708.8 L303.6,707.5 L304.0,706.0 L304.5,704.3 L304.9,702.5 L305.3,700.6 L305.8,698.1 L306.3,694.9 L306.7,691.1 L307.2,687.0 L307.7,682.4 L308.1,677.7 L308.6,672.8 L309.0,667.9 L309.5,663.0 L310.0,658.4 L310.4,654.1 L310.9,650.1 L311.3,645.7 L311.8,641.2 L312.2,636.8 L312.6,632.7 L313.1,629.0 L313.5,626.0 L313.9,623.9 L314.4,622.4 L314.9,621.3 L315.4,620.5 L315.9,619.6 L316.3,618.4 L316.8,616.6 L317.2,612.6 L317.7,605.3 L318.1,596.4 L318.6,587.3 L319.0,579.5 L319.4,572.4 L319.8,564.9 L320.2,559.0 L320.6,556.6 L321.1,556.7 L321.6,557.1 L322.0,557.8 L322.5,558.8 L323.0,559.9 L323.4,564.4 L323.8,573.2 L324.3,583.5 L324.7,592.2 L325.1,599.4 L325.5,606.9 L325.9,613.8 L326.4,618.9 L326.8,621.0 L327.2,621.3 L327.7,621.5 L328.2,621.7 L328.7,621.7 L329.2,621.8 L329.7,621.9 L330.2,622.0 L330.6,622.2 L331.1,622.5 L331.6,623.8 L332.0,626.7 L332.4,630.5 L332.9,634.6 L333.3,638.3 L333.8,642.0 L334.2,645.9 L334.7,649.8 L335.2,653.7 L335.7,657.6 L336.1,661.4 L336.6,664.8 L337.0,668.5 L337.4,672.0 L337.8,675.0 L338.2,677.2 L338.7,678.9 L339.1,680.2 L339.6,681.4 L340.1,682.4 L340.6,683.4 L341.0,684.4 L341.5,685.5 L341.9,686.5 L342.4,687.5 L342.8,688.5 L343.3,689.5 L343.7,690.5 L344.2,691.5 L344.6,692.4 L345.1,693.4 L345.5,694.3 L346.0,695.3 L346.4,696.4 L346.8,697.5 L347.3,698.5 L347.7,699.5 L348.1,700.4 L348.6,701.1 L349.0,701.6 L349.5,701.9 L350.0,702.3 L350.4,702.5 L350.9,702.8 L351.4,703.0 L351.9,703.2 L352.4,703.3 L352.8,703.5 L353.3,703.7 L353.8,703.9 L354.3,704.2 L354.7,704.4 L355.2,704.7 L355.6,705.2 L356.0,705.6 L356.5,706.0 L356.9,706.5 L357.3,706.8 L357.7,707.0 L358.2,707.1 L358.7,707.0 L359.1,706.8 L359.6,706.4 L360.1,705.9 L360.6,705.4 L361.1,704.8 L361.6,704.3 L362.0,703.8 L362.5,703.4 L363.0,703.2 L363.5,703.1 L363.9,703.2 L364.4,703.6 L364.8,704.1 L365.3,704.7 L365.7,705.4 L366.2,706.1 L366.6,706.8 L367.0,707.5 L367.5,708.0 L367.9,708.3 L368.4,708.5 L368.9,708.4 L369.3,708.1 L369.8,707.7 L370.3,707.2 L370.8,706.7 L371.2,706.1 L371.7,705.5 L372.2,705.0 L372.7,704.5 L373.1,704.1 L373.6,703.9 L374.1,703.8 L374.5,703.8 L375.0,703.9 L375.4,704.2 L375.9,704.4 L376.3,704.7 L376.8,705.1 L377.2,705.4 L377.6,705.8 L378.1,706.1 L378.5,706.4 L379.0,706.6 L379.4,706.8 L379.9,707.1 L380.3,707.3 L380.8,707.5 L381.2,707.6 L381.6,707.6 L382.0,707.0 L382.5,705.3 L382.9,703.0 L383.3,700.7 L383.7,698.6 L384.1,697.4 L384.5,696.6 L385.0,695.9 L385.5,695.4 L385.9,695.2 L386.3,695.4 L386.7,695.8 L387.1,696.5 L387.6,697.3 L388.0,698.1 L388.4,698.9 L388.8,699.7 L389.3,700.5 L389.7,701.4 L390.2,702.4 L390.7,703.2 L391.1,704.0 L391.6,704.7 L392.0,705.3 L392.5,705.7 L392.9,706.2 L393.4,706.6 L393.9,707.0 L394.3,707.4 L394.8,707.7 L395.2,707.9 L395.7,708.1 L396.1,708.1 L396.6,708.1 L397.0,708.1 L397.5,708.1 L398.0,708.1 L398.4,708.0 L398.9,708.0 L399.3,707.9 L399.8,707.9 L400.3,707.8 L400.7,707.8 L401.2,707.7 L401.6,707.7 L402.1,707.7 L402.5,707.6 L403.0,707.6 L403.5,707.6 L403.9,707.7 L404.4,707.9 L404.8,708.1 L405.3,708.4 L405.7,708.8 L406.2,709.2 L406.6,709.6 L407.1,710.0 L407.5,710.3 L408.0,710.6 L408.5,711.0 L409.0,711.4 L409.4,711.7 L409.9,712.1 L410.4,712.5 L410.9,712.8 L411.4,713.1 L411.8,713.5 L412.3,713.7 L412.8,714.0 L413.3,714.2 L413.7,714.4 L414.2,714.5 L414.7,714.7 L415.2,714.8 L415.6,714.9 L416.1,715.0 L416.6,715.1 L417.1,715.2 L417.5,715.4 L418.0,715.5 L418.5,715.6 L419.0,715.7 Z" fill="#999" stroke="#868686" stroke-width="0.7" stroke-linejoin="round"/>
<path d="M252.8,715.7H257.4 M252.8,682.1H257.4 M252.8,648.4H257.4 M252.8,614.8H257.4 M252.8,581.1H257.4 M252.8,547.5H257.4" stroke="#111" stroke-width="1.5" fill="none"/>
<path d="M255.0,707.3H257.4 M255.0,698.9H257.4 M255.0,690.5H257.4 M255.0,673.7H257.4 M255.0,665.2H257.4 M255.0,656.8H257.4 M255.0,640.0H257.4 M255.0,631.6H257.4 M255.0,623.2H257.4 M255.0,606.4H257.4 M255.0,598.0H257.4 M255.0,589.5H257.4 M255.0,572.7H257.4 M255.0,564.3H257.4 M255.0,555.9H257.4" stroke="#555" stroke-width="0.9" fill="none"/>
<line x1="252.8" y1="715.7" x2="434.7" y2="715.7" stroke="#111" stroke-width="1.5"/>
<path d="M257.4,715.7v5 M298.2,715.7v5 M339.0,715.7v5 M379.8,715.7v5 M420.6,715.7v5" stroke="#111" stroke-width="1.6" fill="none"/>
<path d="M269.7,715.7v2.8 M276.9,715.7v2.8 M282.0,715.7v2.8 M285.9,715.7v2.8 M289.1,715.7v2.8 M291.9,715.7v2.8 M294.2,715.7v2.8 M296.3,715.7v2.8 M310.5,715.7v2.8 M317.7,715.7v2.8 M322.8,715.7v2.8 M326.7,715.7v2.8 M329.9,715.7v2.8 M332.7,715.7v2.8 M335.0,715.7v2.8 M337.1,715.7v2.8 M351.3,715.7v2.8 M358.5,715.7v2.8 M363.6,715.7v2.8 M367.5,715.7v2.8 M370.7,715.7v2.8 M373.5,715.7v2.8 M375.8,715.7v2.8 M377.9,715.7v2.8 M392.1,715.7v2.8 M399.3,715.7v2.8 M404.4,715.7v2.8 M408.3,715.7v2.8 M411.5,715.7v2.8 M414.3,715.7v2.8 M416.6,715.7v2.8 M418.7,715.7v2.8 M432.9,715.7v2.8" stroke="#222" stroke-width="1.0" fill="none"/>
<path d="M257.4,715.7 H308.8 L308.8,715.7 L309.3,715.5 L309.8,715.4 L310.3,715.2 L310.8,715.1 L311.3,714.9 L311.7,714.8 L312.2,714.6 L312.7,714.5 L313.2,714.3 L313.7,714.2 L314.2,714.0 L314.7,713.9 L315.2,713.7 L315.7,713.5 L316.2,713.3 L316.6,713.2 L317.0,713.0 L317.5,712.7 L317.9,712.5 L318.4,712.2 L318.8,712.0 L319.3,711.8 L319.7,711.6 L320.2,711.5 L320.6,711.4 L321.0,711.3 L321.5,711.4 L322.0,711.5 L322.5,711.7 L323.0,712.0 L323.5,712.2 L324.0,712.4 L324.4,712.6 L324.9,712.8 L325.4,712.8 L325.9,712.8 L326.3,712.6 L326.8,712.4 L327.3,712.2 L327.7,712.0 L328.2,711.7 L328.7,711.5 L329.1,711.4 L329.6,711.3 L330.1,711.4 L330.6,711.5 L331.1,711.7 L331.6,711.9 L332.0,712.2 L332.5,712.5 L333.0,712.8 L333.5,713.1 L334.0,713.3 L334.4,713.6 L334.9,713.9 L335.4,714.3 L335.8,714.6 L336.3,715.0 L336.8,715.2 L337.3,715.5 L337.7,715.6 L338.2,715.7 L338.7,715.7 L339.2,715.7 L339.6,715.7 L340.1,715.7 L340.6,715.7 L341.1,715.7 L341.6,715.7 L342.1,715.7 L342.6,715.7 L343.0,715.7 L343.5,715.7 L344.0,715.7 L344.5,715.7 L345.0,715.7 L345.5,715.7 L345.9,715.7 L346.4,715.7 L346.9,715.7 L347.4,715.7 L347.9,715.7 L348.4,715.7 L348.9,715.7 L349.3,715.7 L349.8,715.7 L350.3,715.7 L350.8,715.7 L351.3,715.7 L351.8,715.7 L352.3,715.7 L352.7,715.7 L353.2,715.7 L353.7,715.7 L354.2,715.7 L354.7,715.7 L355.2,715.7 L355.7,715.7 L356.1,715.7 L356.6,715.7 L357.0,715.6 L357.5,715.4 L357.9,715.3 L358.4,715.1 L358.8,714.9 L359.3,714.8 L359.7,714.6 L360.2,714.6 L360.6,714.5 L361.1,714.6 L361.5,714.7 L362.0,714.8 L362.4,715.0 L362.9,715.2 L363.3,715.4 L363.8,715.6 L364.3,715.7 L364.7,715.7 L365.2,715.7 L365.7,715.7 L366.1,715.7 L366.6,715.7 L367.1,715.7 L367.6,715.7 L368.0,715.7 L368.5,715.7 L369.0,715.7 L369.5,715.7 L369.9,715.7 L370.4,715.7 L370.9,715.7 L371.4,715.7 L371.8,715.7 L372.3,715.7 L372.8,715.7 L373.3,715.7 L373.7,715.7 L374.2,715.7 L374.7,715.7 L375.2,715.7 L375.7,715.7 L376.1,715.7 L376.6,715.7 L377.1,715.7 L377.6,715.7 L378.0,715.7 L378.5,715.7 L379.0,715.7 L379.4,715.7 L379.9,715.6 L380.4,715.6 L380.8,715.5 L381.3,715.4 L381.7,715.3 L382.2,715.1 L382.7,715.0 L383.1,714.8 L383.6,714.6 L384.0,714.4 L384.5,714.2 L385.0,714.0 L385.4,713.8 L385.9,713.6 L386.3,713.3 L386.8,713.1 L387.3,712.8 L387.8,712.4 L388.2,712.0 L388.7,711.5 L389.2,711.0 L389.7,710.5 L390.1,709.9 L390.6,709.3 L391.1,708.7 L391.6,708.0 L392.0,707.3 L392.5,706.6 L392.9,705.8 L393.4,704.9 L393.9,703.9 L394.3,702.8 L394.8,701.6 L395.2,700.3 L395.7,698.9 L396.1,697.4 L396.6,695.6 L397.0,693.5 L397.5,691.1 L398.0,688.4 L398.4,685.5 L398.9,682.3 L399.3,679.1 L399.8,675.7 L400.3,671.8 L400.7,667.5 L401.2,662.8 L401.7,657.8 L402.2,652.5 L402.6,646.9 L403.1,641.7 L403.5,636.0 L403.9,630.0 L404.3,624.0 L404.7,618.1 L405.2,611.4 L405.6,604.4 L406.1,597.9 L406.6,592.2 L407.0,587.0 L407.5,582.3 L408.0,580.0 L408.4,579.6 L408.8,579.4 L409.2,579.3 L409.6,581.0 L410.1,584.9 L410.6,589.4 L411.0,594.0 L411.4,599.6 L411.9,605.8 L412.3,612.1 L412.7,618.1 L413.2,623.9 L413.6,629.7 L414.0,635.5 L414.5,641.2 L414.9,646.9 L415.4,653.2 L415.8,659.7 L416.3,666.2 L416.8,672.3 L417.3,678.0 L417.7,682.9 L418.2,687.3 L418.7,691.4 L419.2,695.2 L419.6,698.7 L420.1,701.8 L420.6,704.4 L421.0,706.4 L421.4,708.3 L421.8,709.9 L422.2,711.3 L422.6,712.3 L423.1,713.2 L423.5,713.9 L424.0,714.5 L424.4,715.1 L424.9,715.7 L434.7,715.7" fill="none" stroke="#1a1a1a" stroke-width="1.4" stroke-linejoin="round"/>
<path d="M257.4,715.7 H317.0 L317.0,715.7 L317.5,715.3 L317.9,714.9 L318.4,714.5 L318.9,714.1 L319.4,713.7 L319.9,713.3 L320.4,712.9 L320.9,712.5 L321.4,712.1 L321.9,711.7 L322.4,711.3 L322.8,710.9 L323.3,710.5 L323.8,710.1 L324.3,709.6 L324.8,709.2 L325.2,708.7 L325.6,708.2 L326.1,707.7 L326.5,707.2 L327.0,706.8 L327.4,706.5 L327.9,706.4 L328.3,706.5 L328.8,706.7 L329.3,706.9 L329.7,707.2 L330.2,707.5 L330.7,707.9 L331.1,708.3 L331.6,708.6 L332.1,709.0 L332.5,709.3 L333.0,709.7 L333.4,710.1 L333.9,710.6 L334.3,711.0 L334.8,711.4 L335.2,711.8 L335.7,712.1 L336.1,712.3 L336.6,712.3 L337.0,712.3 L337.4,712.0 L337.9,711.7 L338.3,711.2 L338.7,710.7 L339.2,710.2 L339.6,709.6 L340.1,709.0 L340.5,708.3 L341.0,707.5 L341.5,706.5 L341.9,705.5 L342.4,704.4 L342.9,703.2 L343.4,702.0 L343.8,700.8 L344.3,699.6 L344.8,698.4 L345.2,697.1 L345.7,695.8 L346.1,694.5 L346.5,693.0 L347.0,691.6 L347.4,690.1 L347.9,688.5 L348.3,686.8 L348.8,685.1 L349.2,683.2 L349.7,681.1 L350.1,678.8 L350.5,676.5 L351.0,674.2 L351.4,671.9 L351.9,669.8 L352.3,667.9 L352.7,666.2 L353.2,664.6 L353.6,663.1 L354.1,661.6 L354.5,660.2 L355.0,658.9 L355.4,657.6 L355.9,656.3 L356.3,655.2 L356.8,654.2 L357.2,653.2 L357.6,652.3 L358.1,651.3 L358.5,650.3 L359.0,649.1 L359.4,647.7 L359.9,645.9 L360.4,643.5 L360.8,640.9 L361.3,638.2 L361.8,635.6 L362.3,633.3 L362.7,631.0 L363.2,628.6 L363.6,626.3 L364.1,624.7 L364.5,624.0 L365.0,624.4 L365.4,625.3 L365.9,626.7 L366.3,628.5 L366.7,630.4 L367.2,633.4 L367.6,638.0 L368.0,643.3 L368.4,648.3 L368.8,652.1 L369.3,655.5 L369.7,658.6 L370.2,661.4 L370.7,663.8 L371.2,665.8 L371.6,667.1 L372.1,668.0 L372.5,668.8 L373.0,669.5 L373.4,670.0 L373.9,670.1 L374.3,669.9 L374.7,669.4 L375.2,668.6 L375.6,667.6 L376.0,666.4 L376.4,664.5 L376.9,661.4 L377.3,657.6 L377.7,653.4 L378.2,649.1 L378.6,644.4 L379.0,639.1 L379.5,633.5 L379.9,628.0 L380.3,623.2 L380.8,618.6 L381.2,614.1 L381.6,610.4 L382.0,608.1 L382.5,606.6 L383.0,605.6 L383.5,605.2 L384.0,605.8 L384.4,607.3 L384.9,609.4 L385.4,611.8 L385.8,614.7 L386.3,618.8 L386.7,623.6 L387.1,628.6 L387.6,633.3 L388.0,638.4 L388.5,643.8 L389.0,649.2 L389.5,654.4 L389.9,659.3 L390.4,663.6 L390.8,667.1 L391.3,670.6 L391.7,673.7 L392.1,676.3 L392.6,678.0 L392.9,679.1 L393.3,680.0 L393.7,680.6 L394.1,680.9 L394.6,680.5 L395.0,679.6 L395.5,678.2 L396.0,676.7 L396.5,675.1 L396.9,673.7 L397.4,672.2 L397.9,670.7 L398.4,669.1 L398.8,667.6 L399.3,666.2 L399.8,665.1 L400.3,664.1 L400.7,663.2 L401.2,662.3 L401.7,661.6 L402.2,661.1 L402.6,660.7 L403.1,660.5 L403.5,660.3 L403.9,660.2 L404.3,660.1 L404.7,660.0 L405.1,660.3 L405.6,661.1 L406.0,662.2 L406.5,663.5 L406.9,665.1 L407.4,667.3 L407.8,670.5 L408.3,674.3 L408.7,678.4 L409.2,682.2 L409.6,685.8 L410.0,689.6 L410.4,693.4 L410.8,696.8 L411.2,699.6 L411.6,701.8 L412.0,703.8 L412.4,705.6 L412.8,707.1 L413.3,708.1 L413.7,709.0 L414.1,709.7 L414.5,710.4 L415.0,711.0 L415.4,711.4 L415.8,711.7 L416.3,711.8 L416.8,711.8 L417.2,711.7 L417.7,711.6 L418.2,711.5 L418.7,711.4 L419.2,711.3 L419.6,711.4 L420.0,711.7 L420.5,712.2 L420.9,712.7 L421.3,713.3 L421.8,713.9 L422.2,714.3 L422.6,714.7 L423.0,714.9 L423.5,715.1 L423.9,715.3 L424.3,715.5 L424.7,715.7 L434.7,715.7" fill="none" stroke="#62bb46" stroke-width="1.4" stroke-linejoin="round"/>
<path d="M257.4,715.7 H305.5 L305.5,715.7 L306.0,715.6 L306.5,715.6 L307.0,715.5 L307.5,715.5 L308.0,715.4 L308.4,715.4 L308.9,715.3 L309.4,715.3 L309.9,715.3 L310.4,715.2 L310.9,715.2 L311.3,715.1 L311.8,715.1 L312.3,715.0 L312.8,715.0 L313.3,714.9 L313.8,714.9 L314.2,714.8 L314.7,714.8 L315.2,714.7 L315.7,714.6 L316.2,714.5 L316.7,714.4 L317.1,714.3 L317.6,714.2 L318.1,714.1 L318.6,714.0 L319.1,713.9 L319.6,713.6 L320.0,713.3 L320.5,712.9 L321.0,712.5 L321.5,712.0 L321.9,711.4 L322.4,710.8 L322.9,710.2 L323.4,709.5 L323.8,708.8 L324.3,708.1 L324.8,707.4 L325.2,706.4 L325.7,705.3 L326.1,704.1 L326.6,702.8 L327.0,701.6 L327.5,700.3 L327.9,699.2 L328.4,698.2 L328.8,697.3 L329.3,696.5 L329.8,695.8 L330.2,695.1 L330.7,694.5 L331.1,693.8 L331.6,693.2 L332.0,692.5 L332.5,691.8 L332.9,691.0 L333.4,690.2 L333.9,689.2 L334.3,688.1 L334.8,686.8 L335.3,685.4 L335.8,683.7 L336.2,681.7 L336.7,679.4 L337.2,676.5 L337.6,672.6 L338.1,666.9 L338.5,660.0 L339.0,652.6 L339.4,645.1 L339.8,637.4 L340.2,628.6 L340.6,619.6 L341.0,611.3 L341.4,604.7 L341.9,599.0 L342.3,593.5 L342.7,589.5 L343.1,587.9 L343.5,588.5 L343.9,590.3 L344.3,592.8 L344.7,595.8 L345.1,598.8 L345.5,602.5 L345.9,607.2 L346.3,612.3 L346.8,617.4 L347.2,621.8 L347.6,626.2 L348.1,630.4 L348.5,634.3 L349.0,637.8 L349.4,640.5 L349.9,642.9 L350.3,645.2 L350.8,647.2 L351.2,648.6 L351.6,649.1 L352.1,648.5 L352.5,647.1 L353.0,645.2 L353.4,643.4 L353.8,641.6 L354.2,639.5 L354.5,637.7 L354.9,637.0 L355.3,638.0 L355.7,640.4 L356.1,643.4 L356.6,647.9 L357.1,653.9 L357.6,660.4 L358.1,666.4 L358.5,671.7 L358.9,677.0 L359.4,681.7 L359.8,685.1 L360.3,687.7 L360.7,689.9 L361.2,691.5 L361.6,692.2 L362.1,691.7 L362.5,690.6 L363.0,689.2 L363.4,687.7 L363.9,686.6 L364.3,685.7 L364.8,684.7 L365.2,684.0 L365.7,683.7 L366.1,684.2 L366.5,685.3 L367.0,686.7 L367.4,688.1 L367.8,689.7 L368.3,691.5 L368.7,693.4 L369.2,695.2 L369.6,696.7 L370.0,698.0 L370.4,699.4 L370.8,700.6 L371.2,701.4 L371.6,701.7 L372.1,701.7 L372.6,701.6 L373.1,701.5 L373.5,701.4 L374.0,701.3 L374.5,701.2 L375.0,701.2 L375.4,701.2 L375.9,701.2 L376.4,701.1 L376.9,701.1 L377.4,701.1 L377.8,700.8 L378.2,700.0 L378.6,698.8 L379.1,697.4 L379.5,695.7 L379.9,694.0 L380.3,692.3 L380.8,690.1 L381.2,687.2 L381.7,684.0 L382.2,680.9 L382.6,678.3 L383.1,676.5 L383.5,675.2 L384.0,674.1 L384.5,673.3 L384.9,673.0 L385.4,673.3 L385.8,674.2 L386.3,675.3 L386.7,676.5 L387.2,677.9 L387.7,679.7 L388.1,681.7 L388.6,683.9 L389.0,686.0 L389.5,688.0 L389.9,689.7 L390.4,691.0 L390.9,692.0 L391.4,693.0 L391.8,694.0 L392.3,694.9 L392.8,695.7 L393.3,696.4 L393.8,696.9 L394.3,697.3 L394.7,697.4 L395.2,697.3 L395.7,697.1 L396.1,696.8 L396.6,696.5 L397.1,696.1 L397.6,695.7 L398.0,695.5 L398.5,695.3 L399.0,695.2 L399.5,695.2 L399.9,695.4 L400.4,695.7 L400.9,696.1 L401.4,696.5 L401.9,696.9 L402.4,697.4 L402.9,697.8 L403.3,698.2 L403.8,698.6 L404.3,699.0 L404.8,699.4 L405.3,699.8 L405.8,700.3 L406.3,700.7 L406.7,701.1 L407.2,701.6 L407.7,702.0 L408.2,702.4 L408.7,702.9 L409.2,703.3 L409.7,703.6 L410.1,704.0 L410.6,704.3 L411.1,704.7 L411.6,705.0 L412.0,705.3 L412.5,705.6 L413.0,706.0 L413.5,706.3 L413.9,706.7 L414.4,707.1 L414.9,707.5 L415.4,707.9 L415.8,708.3 L416.3,708.8 L416.8,709.3 L417.3,709.8 L417.7,710.3 L418.2,710.9 L418.7,711.4 L419.2,711.9 L419.6,712.3 L420.1,712.8 L420.6,713.2 L421.1,713.5 L421.5,713.9 L422.0,714.2 L422.4,714.5 L422.9,714.8 L423.4,715.1 L423.8,715.4 L424.3,715.7 L434.7,715.7" fill="none" stroke="#ee2a24" stroke-width="1.3" stroke-linejoin="round"/>
<g font-size="6.3" fill="#222" class="tk">
<text x="249.2" y="715.3" text-anchor="end">0</text>
<text x="249.2" y="684.3" text-anchor="end">20</text>
<text x="249.2" y="650.6" text-anchor="end">40</text>
<text x="249.2" y="617.0" text-anchor="end">60</text>
<text x="249.2" y="583.3" text-anchor="end">80</text>
<text x="249.2" y="549.7" text-anchor="end">100</text>
<text x="260.2" y="731.3">10<tspan dy="-3.6" dx="0.3" font-size="6.2">0</tspan></text>
<text x="301.0" y="731.3">10<tspan dy="-3.6" dx="0.3" font-size="6.2">1</tspan></text>
<text x="341.8" y="731.3">10<tspan dy="-3.6" dx="0.3" font-size="6.2">2</tspan></text>
<text x="382.6" y="731.3">10<tspan dy="-3.6" dx="0.3" font-size="6.2">3</tspan></text>
<text x="421.6" y="731.3">10<tspan dy="-3.6" dx="0.3" font-size="6.2">4</tspan></text>
</g>
</g>
<g>
<path d="M467.8,717.6 V540.8 H645.7 V717.6" fill="none" stroke="#8c8c8c" stroke-width="1"/>
<path d="M507.9,717.6 L508.3,717.2 L508.8,716.9 L509.2,716.5 L509.7,716.2 L510.1,715.9 L510.6,715.5 L511.0,715.1 L511.5,714.7 L511.9,714.2 L512.4,713.6 L512.8,712.8 L513.3,711.9 L513.7,710.7 L514.1,709.4 L514.6,707.9 L515.0,706.2 L515.4,704.4 L515.9,702.5 L516.3,700.0 L516.8,696.8 L517.3,693.0 L517.7,688.9 L518.2,684.3 L518.6,679.6 L519.1,674.7 L519.6,669.8 L520.0,664.9 L520.5,660.3 L521.0,656.0 L521.4,652.0 L521.8,647.6 L522.3,643.1 L522.7,638.7 L523.2,634.6 L523.6,630.9 L524.0,627.9 L524.5,625.8 L525.0,624.3 L525.4,623.2 L525.9,622.4 L526.4,621.5 L526.9,620.3 L527.4,618.5 L527.8,614.5 L528.2,607.2 L528.7,598.3 L529.1,589.2 L529.6,581.4 L530.0,574.3 L530.4,566.8 L530.8,560.9 L531.2,558.5 L531.7,558.6 L532.1,559.0 L532.6,559.7 L533.1,560.7 L533.5,561.8 L534.0,566.3 L534.4,575.1 L534.8,585.4 L535.3,594.1 L535.7,601.3 L536.1,608.8 L536.5,615.7 L536.9,620.8 L537.3,622.9 L537.8,623.2 L538.3,623.4 L538.8,623.6 L539.3,623.6 L539.8,623.7 L540.2,623.8 L540.7,623.9 L541.2,624.1 L541.7,624.4 L542.1,625.7 L542.6,628.6 L543.0,632.4 L543.4,636.5 L543.9,640.2 L544.4,643.9 L544.8,647.8 L545.3,651.7 L545.8,655.6 L546.3,659.5 L546.7,663.3 L547.1,666.7 L547.6,670.4 L548.0,673.9 L548.4,676.9 L548.8,679.1 L549.3,680.8 L549.7,682.1 L550.2,683.3 L550.7,684.3 L551.2,685.3 L551.6,686.3 L552.1,687.4 L552.5,688.4 L553.0,689.4 L553.4,690.4 L553.9,691.4 L554.3,692.4 L554.8,693.4 L555.2,694.3 L555.7,695.3 L556.1,696.2 L556.6,697.2 L557.0,698.3 L557.4,699.4 L557.9,700.4 L558.3,701.4 L558.8,702.3 L559.2,703.0 L559.6,703.5 L560.1,703.8 L560.6,704.2 L561.1,704.4 L561.5,704.7 L562.0,704.9 L562.5,705.1 L563.0,705.2 L563.5,705.4 L563.9,705.6 L564.4,705.8 L564.9,706.1 L565.4,706.3 L565.8,706.6 L566.2,707.1 L566.7,707.5 L567.1,707.9 L567.5,708.4 L568.0,708.7 L568.4,708.9 L568.8,709.0 L569.3,708.9 L569.8,708.7 L570.3,708.3 L570.8,707.8 L571.2,707.3 L571.7,706.7 L572.2,706.2 L572.7,705.7 L573.2,705.3 L573.7,705.1 L574.1,705.0 L574.6,705.1 L575.0,705.5 L575.5,706.0 L575.9,706.6 L576.4,707.3 L576.8,708.0 L577.3,708.7 L577.7,709.4 L578.2,709.9 L578.6,710.2 L579.0,710.4 L579.5,710.3 L580.0,710.0 L580.5,709.6 L581.0,709.1 L581.4,708.6 L581.9,708.0 L582.4,707.4 L582.9,706.9 L583.3,706.4 L583.8,706.0 L584.3,705.8 L584.8,705.7 L585.2,705.7 L585.7,705.8 L586.1,706.1 L586.6,706.3 L587.0,706.6 L587.5,707.0 L587.9,707.3 L588.3,707.7 L588.8,708.0 L589.2,708.3 L589.7,708.5 L590.1,708.7 L590.6,709.0 L591.0,709.2 L591.5,709.4 L591.9,709.5 L592.3,709.5 L592.7,708.9 L593.2,707.2 L593.6,704.9 L594.0,702.6 L594.4,700.5 L594.8,699.3 L595.3,698.5 L595.7,697.8 L596.2,697.3 L596.6,697.1 L597.0,697.3 L597.5,697.7 L597.9,698.4 L598.3,699.2 L598.7,700.0 L599.1,700.8 L599.5,701.6 L600.0,702.4 L600.5,703.3 L600.9,704.3 L601.4,705.1 L601.8,705.9 L602.3,706.6 L602.8,707.2 L603.2,707.6 L603.7,708.1 L604.1,708.5 L604.6,708.9 L605.0,709.3 L605.5,709.6 L606.0,709.8 L606.4,710.0 L606.9,710.0 L607.3,710.0 L607.8,710.0 L608.2,710.0 L608.7,710.0 L609.2,709.9 L609.6,709.9 L610.1,709.8 L610.5,709.8 L611.0,709.7 L611.5,709.7 L611.9,709.6 L612.4,709.6 L612.8,709.6 L613.3,709.5 L613.8,709.5 L614.2,709.5 L614.7,709.6 L615.1,709.8 L615.6,710.0 L616.0,710.3 L616.5,710.7 L616.9,711.1 L617.4,711.5 L617.9,711.9 L618.3,712.2 L618.8,712.5 L619.3,712.9 L619.7,713.3 L620.2,713.6 L620.7,714.0 L621.2,714.4 L621.7,714.7 L622.1,715.0 L622.6,715.4 L623.1,715.6 L623.6,715.9 L624.0,716.1 L624.5,716.3 L625.0,716.4 L625.5,716.6 L625.9,716.7 L626.4,716.8 L626.9,716.9 L627.4,717.0 L627.9,717.1 L628.3,717.3 L628.8,717.4 L629.3,717.5 L629.8,717.6 Z" fill="#999" stroke="#868686" stroke-width="0.7" stroke-linejoin="round"/>
<path d="M463.2,717.6H467.8 M463.2,684.0H467.8 M463.2,650.3H467.8 M463.2,616.7H467.8 M463.2,583.0H467.8 M463.2,549.4H467.8" stroke="#111" stroke-width="1.5" fill="none"/>
<path d="M465.4,709.2H467.8 M465.4,700.8H467.8 M465.4,692.4H467.8 M465.4,675.5H467.8 M465.4,667.1H467.8 M465.4,658.7H467.8 M465.4,641.9H467.8 M465.4,633.5H467.8 M465.4,625.1H467.8 M465.4,608.3H467.8 M465.4,599.9H467.8 M465.4,591.5H467.8 M465.4,574.6H467.8 M465.4,566.2H467.8 M465.4,557.8H467.8" stroke="#555" stroke-width="0.9" fill="none"/>
<line x1="463.2" y1="717.6" x2="645.7" y2="717.6" stroke="#111" stroke-width="1.5"/>
<path d="M467.8,717.6v5 M508.7,717.6v5 M549.6,717.6v5 M590.5,717.6v5 M631.4,717.6v5" stroke="#111" stroke-width="1.6" fill="none"/>
<path d="M480.1,717.6v2.8 M487.3,717.6v2.8 M492.4,717.6v2.8 M496.4,717.6v2.8 M499.6,717.6v2.8 M502.4,717.6v2.8 M504.7,717.6v2.8 M506.8,717.6v2.8 M521.0,717.6v2.8 M528.2,717.6v2.8 M533.3,717.6v2.8 M537.3,717.6v2.8 M540.5,717.6v2.8 M543.3,717.6v2.8 M545.6,717.6v2.8 M547.7,717.6v2.8 M561.9,717.6v2.8 M569.1,717.6v2.8 M574.2,717.6v2.8 M578.2,717.6v2.8 M581.4,717.6v2.8 M584.2,717.6v2.8 M586.5,717.6v2.8 M588.6,717.6v2.8 M602.8,717.6v2.8 M610.0,717.6v2.8 M615.1,717.6v2.8 M619.1,717.6v2.8 M622.3,717.6v2.8 M625.1,717.6v2.8 M627.4,717.6v2.8 M629.5,717.6v2.8 M643.7,717.6v2.8" stroke="#222" stroke-width="1.0" fill="none"/>
<path d="M467.8,717.6 H519.3 L519.3,717.6 L519.8,717.4 L520.3,717.3 L520.8,717.1 L521.3,717.0 L521.8,716.8 L522.3,716.7 L522.8,716.5 L523.3,716.4 L523.8,716.2 L524.2,716.1 L524.7,715.9 L525.2,715.8 L525.7,715.6 L526.2,715.4 L526.7,715.2 L527.1,715.1 L527.6,714.9 L528.0,714.6 L528.5,714.4 L528.9,714.1 L529.4,713.9 L529.8,713.7 L530.3,713.5 L530.7,713.4 L531.2,713.3 L531.6,713.2 L532.1,713.3 L532.6,713.4 L533.1,713.6 L533.5,713.9 L534.0,714.1 L534.5,714.3 L535.0,714.5 L535.5,714.7 L536.0,714.7 L536.4,714.7 L536.9,714.5 L537.4,714.3 L537.9,714.1 L538.3,713.9 L538.8,713.6 L539.3,713.4 L539.7,713.3 L540.2,713.2 L540.7,713.3 L541.2,713.4 L541.7,713.6 L542.1,713.8 L542.6,714.1 L543.1,714.4 L543.6,714.7 L544.1,715.0 L544.6,715.2 L545.0,715.5 L545.5,715.8 L546.0,716.2 L546.4,716.5 L546.9,716.9 L547.4,717.1 L547.8,717.4 L548.3,717.5 L548.8,717.6 L549.3,717.6 L549.8,717.6 L550.2,717.6 L550.7,717.6 L551.2,717.6 L551.7,717.6 L552.2,717.6 L552.7,717.6 L553.2,717.6 L553.6,717.6 L554.1,717.6 L554.6,717.6 L555.1,717.6 L555.6,717.6 L556.1,717.6 L556.6,717.6 L557.1,717.6 L557.5,717.6 L558.0,717.6 L558.5,717.6 L559.0,717.6 L559.5,717.6 L560.0,717.6 L560.5,717.6 L560.9,717.6 L561.4,717.6 L561.9,717.6 L562.4,717.6 L562.9,717.6 L563.4,717.6 L563.9,717.6 L564.3,717.6 L564.8,717.6 L565.3,717.6 L565.8,717.6 L566.3,717.6 L566.8,717.6 L567.2,717.6 L567.7,717.5 L568.1,717.3 L568.6,717.2 L569.0,717.0 L569.5,716.8 L569.9,716.7 L570.4,716.5 L570.8,716.5 L571.3,716.4 L571.7,716.5 L572.2,716.6 L572.6,716.7 L573.1,716.9 L573.5,717.1 L574.0,717.3 L574.5,717.5 L574.9,717.6 L575.4,717.6 L575.8,717.6 L576.3,717.6 L576.8,717.6 L577.3,717.6 L577.8,717.6 L578.2,717.6 L578.7,717.6 L579.2,717.6 L579.7,717.6 L580.1,717.6 L580.6,717.6 L581.1,717.6 L581.6,717.6 L582.0,717.6 L582.5,717.6 L583.0,717.6 L583.5,717.6 L584.0,717.6 L584.4,717.6 L584.9,717.6 L585.4,717.6 L585.9,717.6 L586.3,717.6 L586.8,717.6 L587.3,717.6 L587.8,717.6 L588.3,717.6 L588.7,717.6 L589.2,717.6 L589.7,717.6 L590.1,717.6 L590.6,717.5 L591.1,717.5 L591.5,717.4 L592.0,717.3 L592.4,717.2 L592.9,717.0 L593.4,716.9 L593.8,716.7 L594.3,716.5 L594.7,716.3 L595.2,716.1 L595.7,715.9 L596.1,715.7 L596.6,715.5 L597.0,715.2 L597.5,715.0 L598.0,714.7 L598.5,714.3 L599.0,713.9 L599.4,713.4 L599.9,712.9 L600.4,712.4 L600.9,711.8 L601.3,711.2 L601.8,710.6 L602.3,709.9 L602.8,709.2 L603.2,708.5 L603.7,707.7 L604.1,706.8 L604.6,705.8 L605.0,704.7 L605.5,703.5 L606.0,702.2 L606.4,700.8 L606.9,699.3 L607.3,697.5 L607.8,695.4 L608.2,693.0 L608.7,690.3 L609.2,687.4 L609.6,684.2 L610.1,681.0 L610.5,677.6 L611.0,673.7 L611.5,669.4 L612.0,664.7 L612.4,659.7 L612.9,654.4 L613.4,648.8 L613.8,643.6 L614.2,637.9 L614.6,631.9 L615.0,625.9 L615.4,620.0 L615.9,613.3 L616.4,606.3 L616.9,599.8 L617.3,594.1 L617.8,588.9 L618.3,584.2 L618.7,581.9 L619.1,581.5 L619.5,581.3 L619.9,581.2 L620.4,582.9 L620.9,586.8 L621.3,591.3 L621.8,595.9 L622.2,601.5 L622.6,607.7 L623.1,614.0 L623.5,620.0 L623.9,625.8 L624.4,631.6 L624.8,637.4 L625.2,643.1 L625.7,648.8 L626.2,655.1 L626.6,661.6 L627.1,668.1 L627.6,674.2 L628.1,679.9 L628.5,684.8 L629.0,689.2 L629.5,693.3 L630.0,697.1 L630.4,700.6 L630.9,703.7 L631.4,706.3 L631.8,708.3 L632.2,710.2 L632.6,711.8 L633.0,713.2 L633.4,714.2 L633.9,715.1 L634.3,715.8 L634.8,716.4 L635.2,717.0 L635.7,717.6 L645.7,717.6" fill="none" stroke="#1a1a1a" stroke-width="1.4" stroke-linejoin="round"/>
<path d="M467.8,717.6 H534.3 L534.3,717.6 L534.7,717.4 L535.2,717.2 L535.7,717.1 L536.2,716.9 L536.6,716.7 L537.1,716.6 L537.6,716.4 L538.1,716.2 L538.6,716.0 L539.0,715.9 L539.5,715.7 L540.0,715.4 L540.5,715.2 L540.9,715.0 L541.4,714.7 L541.9,714.5 L542.4,714.2 L542.9,713.9 L543.4,713.5 L543.9,713.1 L544.3,712.7 L544.8,712.3 L545.3,711.8 L545.8,711.2 L546.3,710.6 L546.8,709.8 L547.2,708.8 L547.7,707.7 L548.2,706.6 L548.7,705.3 L549.1,703.8 L549.6,702.1 L550.1,700.1 L550.6,698.0 L551.0,695.9 L551.5,693.9 L552.0,692.0 L552.5,690.1 L553.0,688.3 L553.5,686.4 L553.9,684.4 L554.4,682.3 L554.8,680.4 L555.3,678.6 L555.7,676.7 L556.1,674.6 L556.5,672.3 L557.0,669.7 L557.4,666.6 L557.8,662.6 L558.2,657.3 L558.6,651.2 L559.0,644.9 L559.4,638.3 L559.8,631.1 L560.2,623.5 L560.6,616.2 L561.1,607.2 L561.6,598.1 L562.0,591.8 L562.4,588.6 L562.8,585.8 L563.1,583.8 L563.5,583.0 L563.9,584.6 L564.3,588.0 L564.7,591.8 L565.2,596.2 L565.7,601.2 L566.2,606.1 L566.7,610.5 L567.1,613.9 L567.5,617.2 L568.0,620.2 L568.4,622.8 L568.8,624.9 L569.2,626.5 L569.6,627.9 L570.0,628.5 L570.4,627.8 L570.8,626.2 L571.3,624.1 L571.7,622.1 L572.2,619.6 L572.6,616.6 L573.1,614.2 L573.6,613.1 L574.0,613.8 L574.5,615.5 L575.0,617.7 L575.4,621.2 L575.8,626.5 L576.3,632.5 L576.7,637.9 L577.2,642.6 L577.6,647.2 L578.0,651.7 L578.5,655.8 L578.9,659.4 L579.3,662.9 L579.8,665.9 L580.3,668.0 L580.6,669.0 L581.0,670.0 L581.4,670.6 L581.7,670.8 L582.2,670.4 L582.6,669.1 L583.1,667.4 L583.5,665.5 L584.0,663.8 L584.4,661.7 L584.9,659.3 L585.3,657.4 L585.8,656.5 L586.3,657.2 L586.8,658.8 L587.2,660.7 L587.7,663.4 L588.1,667.1 L588.5,671.0 L588.9,673.9 L589.3,675.8 L589.7,677.7 L590.1,679.1 L590.5,679.6 L590.9,679.3 L591.3,678.4 L591.7,677.1 L592.1,675.5 L592.5,673.9 L593.0,671.0 L593.5,667.1 L594.0,663.3 L594.4,660.7 L594.9,659.4 L595.3,658.3 L595.7,657.5 L596.1,657.2 L596.6,658.0 L597.1,659.9 L597.6,662.3 L598.0,665.0 L598.4,668.7 L598.9,672.7 L599.3,676.5 L599.7,679.6 L600.2,682.0 L600.6,684.2 L601.1,686.2 L601.5,687.9 L602.0,689.5 L602.4,691.0 L602.8,692.4 L603.2,693.5 L603.6,693.9 L604.1,693.2 L604.5,691.7 L605.0,689.8 L605.5,688.2 L605.9,686.9 L606.4,685.5 L606.8,684.4 L607.3,684.0 L607.7,684.2 L608.1,684.9 L608.5,685.8 L608.9,686.7 L609.3,687.3 L609.8,687.8 L610.3,688.3 L610.8,688.7 L611.2,688.8 L611.7,688.5 L612.2,687.7 L612.7,686.5 L613.2,685.2 L613.7,684.0 L614.1,683.1 L614.6,682.5 L615.0,681.8 L615.4,681.2 L615.8,680.8 L616.3,680.6 L616.7,680.8 L617.1,681.3 L617.6,682.1 L618.0,683.0 L618.4,684.0 L618.9,685.2 L619.4,686.7 L619.9,688.4 L620.4,690.2 L620.9,692.1 L621.3,693.9 L621.8,695.5 L622.2,697.2 L622.7,699.0 L623.1,700.8 L623.5,702.5 L624.0,704.1 L624.4,705.6 L624.9,706.8 L625.3,708.0 L625.8,709.1 L626.2,710.1 L626.7,711.0 L627.2,711.9 L627.6,712.7 L628.1,713.4 L628.5,714.1 L629.0,714.6 L629.5,715.1 L629.9,715.6 L630.4,716.0 L630.8,716.4 L631.3,716.8 L631.8,717.2 L632.2,717.6 L645.7,717.6" fill="none" stroke="#62bb46" stroke-width="1.4" stroke-linejoin="round"/>
<path d="M467.8,717.6 H528.5 L528.5,717.6 L529.0,717.2 L529.5,716.8 L530.0,716.5 L530.4,716.1 L530.9,715.7 L531.4,715.4 L531.9,715.0 L532.4,714.6 L532.8,714.2 L533.3,713.7 L533.8,713.1 L534.3,712.6 L534.7,711.8 L535.2,710.9 L535.7,709.9 L536.2,708.8 L536.6,707.5 L537.1,706.3 L537.6,705.0 L538.1,703.7 L538.6,702.5 L539.0,701.3 L539.5,700.0 L539.9,698.7 L540.4,697.4 L540.9,696.1 L541.3,694.9 L541.8,693.6 L542.2,692.4 L542.7,691.2 L543.2,690.0 L543.7,688.9 L544.1,687.7 L544.6,686.6 L545.1,685.3 L545.6,684.1 L546.1,682.9 L546.5,681.7 L547.0,680.3 L547.5,678.6 L548.0,676.6 L548.4,674.0 L548.8,670.4 L549.2,666.1 L549.6,661.4 L550.0,656.5 L550.5,650.8 L550.9,644.5 L551.4,637.6 L551.8,630.5 L552.3,623.4 L552.7,615.8 L553.1,607.4 L553.5,599.9 L554.0,594.8 L554.4,592.0 L554.7,589.8 L555.1,588.9 L555.5,590.5 L555.9,594.4 L556.3,599.0 L556.7,605.6 L557.2,614.3 L557.6,623.2 L558.0,630.6 L558.4,636.6 L558.8,642.4 L559.2,646.9 L559.6,648.6 L560.0,647.2 L560.5,643.5 L560.9,638.6 L561.3,633.5 L561.8,627.2 L562.2,619.4 L562.7,611.5 L563.1,604.9 L563.6,598.9 L564.0,593.0 L564.5,588.5 L564.9,586.7 L565.4,588.0 L565.8,591.0 L566.2,594.8 L566.7,601.0 L567.1,609.7 L567.6,619.2 L568.1,627.8 L568.5,634.8 L569.0,641.8 L569.4,648.4 L569.8,654.4 L570.3,659.4 L570.7,663.7 L571.1,667.8 L571.6,671.3 L572.0,674.3 L572.4,676.6 L572.9,678.6 L573.4,680.3 L573.9,680.9 L574.3,680.6 L574.8,679.9 L575.3,679.1 L575.7,678.4 L576.2,678.1 L576.6,678.3 L577.0,679.0 L577.4,679.9 L577.8,681.1 L578.1,682.3 L578.6,684.1 L579.0,686.6 L579.4,689.3 L579.8,691.9 L580.3,693.9 L580.8,695.5 L581.2,697.0 L581.7,698.4 L582.2,699.5 L582.7,700.5 L583.1,701.1 L583.6,701.6 L584.1,702.1 L584.6,702.6 L585.1,703.0 L585.6,703.3 L586.1,703.6 L586.5,703.8 L587.0,703.9 L587.5,704.0 L587.9,703.9 L588.4,703.9 L588.8,703.7 L589.2,703.5 L589.7,703.3 L590.1,702.7 L590.5,701.4 L590.9,699.9 L591.3,698.5 L591.7,697.4 L592.2,696.6 L592.7,695.8 L593.2,695.2 L593.6,694.6 L594.1,694.2 L594.6,693.9 L595.0,693.7 L595.5,693.5 L596.0,693.3 L596.4,693.2 L596.9,693.2 L597.3,693.5 L597.8,694.2 L598.2,695.2 L598.6,696.3 L599.1,697.4 L599.6,698.7 L600.0,700.3 L600.5,702.0 L601.0,703.5 L601.5,704.7 L602.0,705.3 L602.4,705.6 L602.9,705.8 L603.4,705.9 L603.9,706.1 L604.3,706.1 L604.8,706.2 L605.3,706.1 L605.8,706.1 L606.2,706.0 L606.7,705.8 L607.2,705.7 L607.7,705.5 L608.2,705.4 L608.6,705.3 L609.1,705.2 L609.6,705.1 L610.1,705.0 L610.5,704.9 L611.0,704.8 L611.5,704.7 L612.0,704.6 L612.4,704.5 L612.9,704.5 L613.4,704.4 L613.9,704.4 L614.4,704.3 L614.8,704.3 L615.3,704.3 L615.8,704.4 L616.3,704.6 L616.8,704.8 L617.3,704.9 L617.7,705.2 L618.2,705.4 L618.7,705.7 L619.2,706.1 L619.6,706.6 L620.1,707.1 L620.6,707.6 L621.0,708.1 L621.5,708.6 L622.0,709.0 L622.5,709.5 L622.9,710.0 L623.4,710.5 L623.9,711.0 L624.4,711.5 L624.9,712.0 L625.3,712.5 L625.8,713.0 L626.3,713.5 L626.8,713.9 L627.2,714.4 L627.7,714.7 L628.2,715.1 L628.6,715.4 L629.1,715.7 L629.5,716.0 L630.0,716.2 L630.4,716.5 L630.9,716.8 L631.3,717.0 L631.8,717.3 L632.2,717.6 L645.7,717.6" fill="none" stroke="#ee2a24" stroke-width="1.3" stroke-linejoin="round"/>
<g font-size="6.3" fill="#222" class="tk">
<text x="459.6" y="717.2" text-anchor="end">0</text>
<text x="459.6" y="686.2" text-anchor="end">20</text>
<text x="459.6" y="652.5" text-anchor="end">40</text>
<text x="459.6" y="618.9" text-anchor="end">60</text>
<text x="459.6" y="585.2" text-anchor="end">80</text>
<text x="459.6" y="551.6" text-anchor="end">100</text>
<text x="470.6" y="733.2">10<tspan dy="-3.6" dx="0.3" font-size="6.2">0</tspan></text>
<text x="511.5" y="733.2">10<tspan dy="-3.6" dx="0.3" font-size="6.2">1</tspan></text>
<text x="552.4" y="733.2">10<tspan dy="-3.6" dx="0.3" font-size="6.2">2</tspan></text>
<text x="593.3" y="733.2">10<tspan dy="-3.6" dx="0.3" font-size="6.2">3</tspan></text>
<text x="632.4" y="733.2">10<tspan dy="-3.6" dx="0.3" font-size="6.2">4</tspan></text>
</g>
</g>
<g>
<path d="M49.8,936.7 V759.6 H226.8 V936.7" fill="none" stroke="#8c8c8c" stroke-width="1"/>
<path d="M93.3,936.7 L93.8,936.1 L94.3,935.6 L94.8,935.0 L95.3,934.5 L95.8,933.9 L96.3,933.4 L96.7,932.7 L97.2,932.1 L97.7,931.3 L98.2,930.5 L98.7,929.7 L99.1,928.7 L99.6,927.7 L100.1,926.6 L100.6,925.5 L101.1,924.2 L101.5,922.8 L102.0,921.2 L102.5,919.6 L102.9,917.6 L103.3,915.4 L103.8,912.9 L104.2,910.2 L104.7,907.3 L105.1,904.2 L105.6,901.0 L106.0,897.0 L106.5,892.1 L107.0,886.8 L107.5,881.5 L107.9,876.5 L108.4,872.2 L108.9,868.6 L109.4,865.3 L109.8,862.2 L110.3,859.3 L110.8,856.4 L111.3,853.5 L111.7,851.0 L112.1,848.8 L112.5,846.6 L113.0,844.4 L113.4,842.1 L113.8,839.4 L114.2,836.3 L114.6,832.7 L115.0,828.3 L115.4,823.4 L115.9,818.1 L116.3,812.8 L116.7,807.5 L117.1,801.0 L117.6,793.9 L118.1,787.2 L118.6,781.8 L119.0,777.8 L119.4,774.0 L119.8,771.1 L120.2,770.0 L120.6,770.7 L121.0,772.6 L121.4,775.4 L121.8,778.7 L122.2,784.8 L122.7,794.5 L123.1,805.3 L123.5,814.8 L123.9,824.1 L124.4,833.3 L124.8,841.4 L125.3,847.8 L125.7,852.3 L126.1,856.6 L126.5,859.7 L126.9,860.9 L127.3,859.9 L127.6,857.4 L128.0,854.1 L128.4,850.8 L128.8,846.2 L129.2,840.9 L129.6,837.7 L130.0,836.5 L130.4,835.6 L130.8,835.3 L131.3,836.4 L131.7,838.9 L132.2,842.1 L132.7,846.3 L133.1,852.3 L133.6,859.2 L134.0,866.1 L134.5,872.2 L134.9,877.1 L135.3,882.0 L135.7,886.6 L136.1,890.7 L136.5,893.9 L136.9,896.9 L137.4,899.9 L137.8,902.3 L138.2,904.1 L138.7,904.7 L139.1,904.4 L139.6,903.8 L140.0,902.9 L140.4,901.9 L140.8,901.0 L141.3,900.0 L141.7,898.9 L142.1,897.7 L142.6,896.6 L143.0,895.9 L143.4,895.6 L143.8,896.0 L144.3,896.9 L144.7,898.2 L145.2,899.7 L145.6,901.4 L146.0,903.9 L146.5,906.5 L146.9,909.0 L147.3,911.1 L147.8,913.0 L148.3,914.8 L148.7,916.5 L149.2,918.0 L149.7,919.1 L150.2,919.9 L150.6,920.3 L151.0,920.6 L151.5,920.9 L151.9,921.1 L152.4,921.2 L152.8,920.8 L153.2,920.0 L153.6,918.8 L154.1,917.7 L154.5,916.8 L154.9,916.1 L155.4,915.5 L155.9,915.0 L156.4,914.8 L156.8,915.2 L157.2,916.0 L157.6,917.2 L158.1,918.3 L158.5,919.9 L158.9,922.0 L159.4,924.0 L159.8,925.6 L160.3,926.3 L160.7,926.3 L161.1,926.3 L161.6,926.3 L162.0,926.3 L162.4,926.3 L162.8,925.9 L163.3,925.0 L163.7,923.8 L164.1,922.7 L164.6,921.9 L165.0,921.3 L165.4,920.8 L165.9,920.3 L166.3,920.0 L166.7,919.9 L167.2,920.1 L167.6,920.8 L168.0,921.7 L168.5,922.6 L168.9,923.4 L169.4,924.2 L169.8,925.1 L170.3,926.1 L170.8,926.8 L171.3,927.4 L171.7,927.6 L172.2,927.6 L172.6,927.5 L173.1,927.3 L173.5,927.1 L174.0,926.9 L174.5,926.7 L174.9,926.5 L175.4,926.3 L175.8,926.1 L176.3,925.8 L176.7,925.6 L177.2,925.3 L177.6,925.1 L178.0,924.9 L178.5,924.8 L178.9,924.7 L179.4,924.9 L179.8,925.2 L180.3,925.8 L180.7,926.4 L181.2,927.1 L181.6,927.8 L182.0,928.5 L182.5,929.1 L183.0,929.7 L183.4,930.3 L183.9,930.9 L184.4,931.6 L184.9,932.2 L185.4,932.7 L185.9,933.3 L186.4,933.8 L186.8,934.2 L187.3,934.5 L187.8,934.8 L188.2,935.1 L188.7,935.4 L189.2,935.7 L189.6,935.9 L190.1,936.2 L190.6,936.4 L191.0,936.7 Z" fill="#999" stroke="#868686" stroke-width="0.7" stroke-linejoin="round"/>
<path d="M45.2,936.7H49.8 M45.2,903.0H49.8 M45.2,869.3H49.8 M45.2,835.7H49.8 M45.2,802.0H49.8 M45.2,768.3H49.8" stroke="#111" stroke-width="1.5" fill="none"/>
<path d="M47.4,928.3H49.8 M47.4,919.9H49.8 M47.4,911.4H49.8 M47.4,894.6H49.8 M47.4,886.2H49.8 M47.4,877.8H49.8 M47.4,860.9H49.8 M47.4,852.5H49.8 M47.4,844.1H49.8 M47.4,827.2H49.8 M47.4,818.8H49.8 M47.4,810.4H49.8 M47.4,793.6H49.8 M47.4,785.1H49.8 M47.4,776.7H49.8" stroke="#555" stroke-width="0.9" fill="none"/>
<line x1="45.2" y1="936.7" x2="226.8" y2="936.7" stroke="#111" stroke-width="1.5"/>
<path d="M49.8,936.7v5 M90.5,936.7v5 M131.2,936.7v5 M171.9,936.7v5 M212.6,936.7v5" stroke="#111" stroke-width="1.6" fill="none"/>
<path d="M62.1,936.7v2.8 M69.2,936.7v2.8 M74.3,936.7v2.8 M78.2,936.7v2.8 M81.5,936.7v2.8 M84.2,936.7v2.8 M86.6,936.7v2.8 M88.6,936.7v2.8 M102.8,936.7v2.8 M109.9,936.7v2.8 M115.0,936.7v2.8 M118.9,936.7v2.8 M122.2,936.7v2.8 M124.9,936.7v2.8 M127.3,936.7v2.8 M129.3,936.7v2.8 M143.5,936.7v2.8 M150.6,936.7v2.8 M155.7,936.7v2.8 M159.6,936.7v2.8 M162.9,936.7v2.8 M165.6,936.7v2.8 M168.0,936.7v2.8 M170.0,936.7v2.8 M184.2,936.7v2.8 M191.3,936.7v2.8 M196.4,936.7v2.8 M200.3,936.7v2.8 M203.6,936.7v2.8 M206.3,936.7v2.8 M208.7,936.7v2.8 M210.7,936.7v2.8 M224.9,936.7v2.8" stroke="#222" stroke-width="1.0" fill="none"/>
<path d="M49.8,936.7 H104.9 L104.9,936.7 L105.4,936.4 L105.8,936.1 L106.3,935.8 L106.8,935.5 L107.3,935.3 L107.8,935.0 L108.3,934.7 L108.7,934.5 L109.2,934.3 L109.7,934.2 L110.2,934.0 L110.6,933.9 L111.1,933.8 L111.6,933.7 L112.1,933.7 L112.5,933.7 L113.0,933.8 L113.5,933.9 L114.0,934.0 L114.4,934.1 L114.9,934.2 L115.4,934.1 L115.8,933.9 L116.3,933.6 L116.8,933.3 L117.2,932.9 L117.7,932.5 L118.1,932.2 L118.6,932.0 L119.0,931.8 L119.5,931.6 L119.9,931.4 L120.4,931.2 L120.8,931.0 L121.2,930.9 L121.7,930.8 L122.1,930.8 L122.6,930.9 L123.0,931.0 L123.5,931.2 L123.9,931.5 L124.4,931.8 L124.8,932.1 L125.3,932.4 L125.7,932.7 L126.2,932.9 L126.6,933.2 L127.1,933.4 L127.5,933.7 L128.0,934.0 L128.4,934.2 L128.9,934.3 L129.3,934.3 L129.8,934.3 L130.2,934.2 L130.6,934.1 L131.1,934.0 L131.5,933.9 L132.0,933.8 L132.4,933.7 L132.8,933.7 L133.3,933.7 L133.7,933.9 L134.2,934.0 L134.7,934.3 L135.1,934.5 L135.6,934.7 L136.0,934.8 L136.5,934.8 L137.0,934.8 L137.4,934.8 L137.9,934.8 L138.4,934.8 L138.9,934.8 L139.3,934.8 L139.8,934.8 L140.3,934.8 L140.8,934.8 L141.2,934.8 L141.7,934.8 L142.2,934.8 L142.6,934.8 L143.1,934.7 L143.5,934.6 L143.9,934.4 L144.4,934.3 L144.8,934.1 L145.3,933.9 L145.7,933.8 L146.1,933.7 L146.6,933.7 L147.1,933.7 L147.5,933.7 L148.0,933.7 L148.5,933.8 L149.0,933.9 L149.5,933.9 L149.9,934.0 L150.4,934.1 L150.9,934.2 L151.4,934.3 L151.9,934.5 L152.3,934.7 L152.8,934.9 L153.3,935.2 L153.8,935.4 L154.3,935.6 L154.7,935.8 L155.2,935.9 L155.7,935.9 L156.2,935.9 L156.6,936.0 L157.1,936.0 L157.6,936.0 L158.1,936.0 L158.5,936.1 L159.0,936.1 L159.5,936.1 L160.0,936.1 L160.4,936.1 L160.9,936.2 L161.4,936.2 L161.9,936.2 L162.3,936.2 L162.8,936.2 L163.3,936.2 L163.8,936.2 L164.2,936.2 L164.7,936.1 L165.2,936.1 L165.7,936.0 L166.2,935.9 L166.7,935.8 L167.2,935.7 L167.6,935.5 L168.1,935.4 L168.6,935.2 L169.1,935.0 L169.6,934.8 L170.1,934.6 L170.5,934.2 L171.0,933.8 L171.5,933.2 L172.0,932.6 L172.5,932.0 L173.0,931.3 L173.5,930.5 L173.9,929.8 L174.4,929.0 L174.9,928.1 L175.4,927.1 L175.8,926.1 L176.3,924.9 L176.8,923.8 L177.3,922.5 L177.7,921.2 L178.2,919.9 L178.7,918.5 L179.1,917.2 L179.6,915.7 L180.0,914.2 L180.5,912.5 L180.9,910.8 L181.4,908.8 L181.8,906.7 L182.3,904.3 L182.8,901.5 L183.3,898.3 L183.7,894.8 L184.2,890.9 L184.7,886.7 L185.1,882.1 L185.5,876.6 L186.0,870.6 L186.4,864.2 L186.8,857.9 L187.3,851.1 L187.7,843.8 L188.1,836.7 L188.6,830.6 L189.1,824.6 L189.5,819.3 L190.0,816.1 L190.4,814.8 L190.9,814.3 L191.3,815.4 L191.7,818.4 L192.2,822.2 L192.7,829.5 L193.1,840.2 L193.6,850.8 L194.1,860.1 L194.6,869.6 L195.0,878.6 L195.5,886.7 L195.9,893.4 L196.4,899.9 L196.8,905.9 L197.2,911.1 L197.7,915.5 L198.1,919.2 L198.5,922.6 L199.0,925.6 L199.4,928.0 L199.8,929.8 L200.3,931.2 L200.8,932.4 L201.2,933.5 L201.7,934.4 L202.2,935.0 L202.7,935.5 L203.1,935.8 L203.5,936.1 L204.0,936.3 L204.4,936.5 L204.9,936.7 L226.8,936.7" fill="none" stroke="#1a1a1a" stroke-width="1.4" stroke-linejoin="round"/>
<path d="M49.8,936.7 H123.5 L123.5,936.7 L124.0,936.7 L124.4,936.6 L124.9,936.6 L125.4,936.5 L125.9,936.5 L126.4,936.4 L126.9,936.4 L127.3,936.3 L127.8,936.3 L128.3,936.2 L128.8,936.2 L129.3,936.1 L129.8,936.1 L130.2,936.0 L130.7,936.0 L131.2,935.9 L131.7,935.9 L132.2,935.8 L132.6,935.8 L133.1,935.7 L133.6,935.7 L134.1,935.6 L134.6,935.6 L135.1,935.5 L135.5,935.5 L136.0,935.4 L136.5,935.4 L137.0,935.3 L137.5,935.3 L138.0,935.2 L138.4,935.2 L138.9,935.1 L139.4,935.1 L139.9,935.0 L140.4,935.0 L140.8,934.9 L141.3,934.8 L141.8,934.8 L142.3,934.7 L142.8,934.6 L143.2,934.5 L143.7,934.5 L144.2,934.4 L144.7,934.3 L145.2,934.2 L145.6,934.0 L146.1,933.9 L146.6,933.7 L147.1,933.5 L147.6,933.2 L148.0,933.0 L148.5,932.7 L149.0,932.4 L149.5,932.1 L149.9,931.9 L150.4,931.6 L150.9,931.3 L151.3,931.0 L151.8,930.7 L152.2,930.4 L152.6,930.1 L153.1,929.8 L153.5,929.5 L154.0,929.4 L154.4,929.3 L154.8,929.3 L155.3,929.5 L155.7,929.7 L156.2,930.0 L156.6,930.3 L157.1,930.6 L157.5,930.9 L158.0,931.2 L158.4,931.4 L158.9,931.5 L159.4,931.6 L159.9,931.6 L160.3,931.7 L160.8,931.8 L161.3,931.8 L161.8,931.9 L162.3,931.9 L162.8,932.0 L163.3,932.0 L163.8,932.0 L164.2,931.9 L164.7,931.7 L165.1,931.4 L165.6,931.0 L166.0,930.4 L166.5,929.8 L167.0,929.1 L167.4,928.3 L167.9,926.9 L168.4,924.5 L168.8,921.4 L169.3,917.5 L169.8,913.1 L170.3,908.2 L170.7,902.2 L171.2,893.9 L171.6,884.3 L172.0,874.4 L172.5,865.1 L172.9,856.3 L173.3,847.1 L173.8,838.0 L174.2,829.5 L174.6,822.2 L175.1,814.5 L175.6,806.8 L176.0,800.9 L176.5,798.6 L176.9,799.3 L177.3,801.3 L177.6,804.1 L178.0,807.5 L178.4,814.8 L178.8,826.5 L179.2,839.6 L179.6,850.8 L180.1,860.7 L180.5,870.0 L181.0,878.8 L181.4,886.9 L181.8,893.9 L182.3,900.4 L182.7,906.6 L183.1,912.2 L183.6,916.7 L184.0,919.9 L184.5,922.2 L184.9,924.2 L185.4,925.8 L185.9,927.2 L186.4,928.3 L186.8,929.1 L187.3,929.8 L187.7,930.3 L188.2,930.8 L188.6,931.2 L189.1,931.6 L189.6,931.9 L190.0,932.3 L190.5,932.7 L190.9,933.1 L191.4,933.5 L191.8,933.9 L192.2,934.2 L192.7,934.6 L193.1,935.0 L193.6,935.3 L194.0,935.5 L194.5,935.8 L195.0,936.0 L195.5,936.2 L196.0,936.3 L196.4,936.5 L196.9,936.7 L226.8,936.7" fill="none" stroke="#ee2a24" stroke-width="1.3" stroke-linejoin="round"/>
<path d="M49.8,936.7 H155.2 L155.2,936.7 L155.7,936.6 L156.2,936.5 L156.6,936.4 L157.1,936.4 L157.6,936.3 L158.1,936.2 L158.5,936.1 L159.0,936.1 L159.5,935.9 L160.0,935.8 L160.4,935.7 L160.9,935.5 L161.4,935.3 L161.8,935.0 L162.3,934.6 L162.7,934.1 L163.2,933.6 L163.7,932.9 L164.1,932.2 L164.6,931.3 L165.0,930.1 L165.5,928.2 L166.0,925.7 L166.5,922.8 L166.9,919.3 L167.4,915.5 L167.9,910.6 L168.3,903.9 L168.7,896.0 L169.1,887.6 L169.6,879.4 L170.0,871.0 L170.4,861.9 L170.9,852.7 L171.3,844.0 L171.7,836.3 L172.2,829.0 L172.6,822.1 L173.1,816.1 L173.5,812.1 L173.9,809.8 L174.3,807.9 L174.6,807.2 L175.1,808.8 L175.5,812.7 L176.0,817.6 L176.4,825.0 L176.9,835.6 L177.3,847.2 L177.8,857.9 L178.3,867.6 L178.7,877.4 L179.2,886.4 L179.6,893.9 L180.1,900.1 L180.5,905.8 L181.0,910.9 L181.4,915.2 L181.8,918.3 L182.3,920.8 L182.7,923.0 L183.1,924.8 L183.6,926.1 L184.0,926.9 L184.5,927.4 L184.9,927.7 L185.4,927.9 L185.9,928.1 L186.4,928.3 L186.8,928.6 L187.3,929.1 L187.8,929.6 L188.3,930.2 L188.8,930.8 L189.2,931.4 L189.7,932.0 L190.2,932.5 L190.6,933.0 L191.1,933.5 L191.5,934.0 L192.0,934.4 L192.4,934.9 L192.9,935.2 L193.3,935.5 L193.8,935.8 L194.3,936.0 L194.8,936.2 L195.2,936.3 L195.7,936.5 L196.2,936.7 L226.8,936.7" fill="none" stroke="#62bb46" stroke-width="1.4" stroke-linejoin="round"/>
<g font-size="6.3" fill="#222" class="tk">
<text x="41.6" y="936.3" text-anchor="end">0</text>
<text x="41.6" y="905.2" text-anchor="end">20</text>
<text x="41.6" y="871.5" text-anchor="end">40</text>
<text x="41.6" y="837.9" text-anchor="end">60</text>
<text x="41.6" y="804.2" text-anchor="end">80</text>
<text x="41.6" y="770.5" text-anchor="end">100</text>
<text x="52.6" y="952.3">10<tspan dy="-3.6" dx="0.3" font-size="6.2">0</tspan></text>
<text x="93.3" y="952.3">10<tspan dy="-3.6" dx="0.3" font-size="6.2">1</tspan></text>
<text x="134.0" y="952.3">10<tspan dy="-3.6" dx="0.3" font-size="6.2">2</tspan></text>
<text x="174.7" y="952.3">10<tspan dy="-3.6" dx="0.3" font-size="6.2">3</tspan></text>
<text x="213.6" y="952.3">10<tspan dy="-3.6" dx="0.3" font-size="6.2">4</tspan></text>
</g>
</g>
<g>
<path d="M256.6,938.0 V761.0 H433.8 V938.0" fill="none" stroke="#8c8c8c" stroke-width="1"/>
<path d="M300.3,938.0 L300.7,937.4 L301.2,936.9 L301.7,936.3 L302.2,935.8 L302.7,935.2 L303.2,934.7 L303.7,934.0 L304.1,933.4 L304.6,932.6 L305.1,931.8 L305.6,931.0 L306.1,930.0 L306.5,929.0 L307.0,928.0 L307.5,926.8 L308.0,925.5 L308.5,924.1 L308.9,922.5 L309.4,920.9 L309.8,918.9 L310.3,916.7 L310.7,914.2 L311.2,911.5 L311.6,908.6 L312.1,905.5 L312.5,902.3 L313.0,898.3 L313.4,893.4 L313.9,888.1 L314.4,882.8 L314.9,877.8 L315.4,873.5 L315.8,869.9 L316.3,866.6 L316.8,863.6 L317.3,860.6 L317.7,857.7 L318.2,854.9 L318.6,852.4 L319.1,850.2 L319.5,848.0 L319.9,845.8 L320.3,843.4 L320.8,840.8 L321.2,837.7 L321.6,834.1 L322.0,829.7 L322.4,824.8 L322.8,819.5 L323.2,814.2 L323.6,808.9 L324.1,802.3 L324.6,795.3 L325.1,788.6 L325.6,783.2 L326.0,779.2 L326.4,775.4 L326.8,772.5 L327.2,771.4 L327.6,772.1 L328.0,774.0 L328.4,776.8 L328.8,780.1 L329.2,786.2 L329.6,795.9 L330.0,806.6 L330.4,816.2 L330.9,825.5 L331.4,834.6 L331.8,842.8 L332.3,849.1 L332.7,853.7 L333.1,857.9 L333.5,861.0 L333.9,862.3 L334.2,861.3 L334.6,858.8 L335.0,855.5 L335.3,852.2 L335.8,847.5 L336.2,842.3 L336.6,839.0 L337.0,837.8 L337.4,837.0 L337.8,836.7 L338.3,837.7 L338.7,840.2 L339.2,843.4 L339.7,847.6 L340.1,853.6 L340.6,860.6 L341.0,867.5 L341.5,873.5 L341.9,878.5 L342.3,883.3 L342.7,888.0 L343.1,892.0 L343.5,895.3 L343.9,898.3 L344.4,901.2 L344.8,903.7 L345.3,905.4 L345.7,906.0 L346.1,905.8 L346.6,905.1 L347.0,904.2 L347.4,903.2 L347.9,902.3 L348.3,901.4 L348.7,900.2 L349.2,899.0 L349.6,898.0 L350.0,897.2 L350.4,896.9 L350.9,897.3 L351.3,898.3 L351.8,899.6 L352.2,901.0 L352.6,902.8 L353.1,905.2 L353.5,907.8 L353.9,910.4 L354.4,912.4 L354.8,914.3 L355.3,916.1 L355.8,917.8 L356.3,919.3 L356.7,920.5 L357.2,921.2 L357.7,921.6 L358.1,922.0 L358.5,922.3 L359.0,922.4 L359.4,922.5 L359.8,922.2 L360.3,921.3 L360.7,920.1 L361.1,919.0 L361.5,918.1 L362.0,917.5 L362.5,916.8 L362.9,916.3 L363.4,916.1 L363.8,916.5 L364.3,917.3 L364.7,918.5 L365.1,919.7 L365.6,921.2 L366.0,923.3 L366.4,925.3 L366.9,926.9 L367.3,927.6 L367.8,927.6 L368.2,927.6 L368.6,927.6 L369.1,927.6 L369.5,927.6 L369.9,927.2 L370.4,926.3 L370.8,925.1 L371.2,924.0 L371.7,923.2 L372.1,922.6 L372.5,922.1 L373.0,921.6 L373.4,921.3 L373.8,921.2 L374.3,921.4 L374.7,922.1 L375.1,923.0 L375.5,923.9 L376.0,924.7 L376.5,925.5 L376.9,926.5 L377.4,927.4 L377.9,928.1 L378.4,928.7 L378.8,928.9 L379.3,928.9 L379.7,928.8 L380.2,928.6 L380.7,928.4 L381.1,928.2 L381.6,928.0 L382.0,927.8 L382.5,927.6 L382.9,927.4 L383.4,927.1 L383.8,926.9 L384.3,926.6 L384.7,926.4 L385.2,926.2 L385.6,926.1 L386.1,926.1 L386.5,926.2 L386.9,926.5 L387.4,927.1 L387.8,927.7 L388.3,928.4 L388.7,929.1 L389.2,929.8 L389.6,930.4 L390.1,931.0 L390.6,931.6 L391.1,932.3 L391.5,932.9 L392.0,933.5 L392.5,934.0 L393.0,934.6 L393.5,935.1 L394.0,935.5 L394.4,935.8 L394.9,936.1 L395.4,936.4 L395.8,936.7 L396.3,937.0 L396.8,937.2 L397.2,937.5 L397.7,937.7 L398.2,938.0 Z" fill="#999" stroke="#868686" stroke-width="0.7" stroke-linejoin="round"/>
<path d="M252.0,938.0H256.6 M252.0,904.3H256.6 M252.0,870.7H256.6 M252.0,837.0H256.6 M252.0,803.4H256.6 M252.0,769.7H256.6" stroke="#111" stroke-width="1.5" fill="none"/>
<path d="M254.2,929.6H256.6 M254.2,921.2H256.6 M254.2,912.8H256.6 M254.2,895.9H256.6 M254.2,887.5H256.6 M254.2,879.1H256.6 M254.2,862.3H256.6 M254.2,853.9H256.6 M254.2,845.4H256.6 M254.2,828.6H256.6 M254.2,820.2H256.6 M254.2,811.8H256.6 M254.2,794.9H256.6 M254.2,786.5H256.6 M254.2,778.1H256.6" stroke="#555" stroke-width="0.9" fill="none"/>
<line x1="252.0" y1="938.0" x2="433.8" y2="938.0" stroke="#111" stroke-width="1.5"/>
<path d="M256.6,938.0v5 M297.4,938.0v5 M338.2,938.0v5 M379.0,938.0v5 M419.8,938.0v5" stroke="#111" stroke-width="1.6" fill="none"/>
<path d="M268.9,938.0v2.8 M276.1,938.0v2.8 M281.2,938.0v2.8 M285.1,938.0v2.8 M288.3,938.0v2.8 M291.1,938.0v2.8 M293.4,938.0v2.8 M295.5,938.0v2.8 M309.7,938.0v2.8 M316.9,938.0v2.8 M322.0,938.0v2.8 M325.9,938.0v2.8 M329.1,938.0v2.8 M331.9,938.0v2.8 M334.2,938.0v2.8 M336.3,938.0v2.8 M350.5,938.0v2.8 M357.7,938.0v2.8 M362.8,938.0v2.8 M366.7,938.0v2.8 M369.9,938.0v2.8 M372.7,938.0v2.8 M375.0,938.0v2.8 M377.1,938.0v2.8 M391.3,938.0v2.8 M398.5,938.0v2.8 M403.6,938.0v2.8 M407.5,938.0v2.8 M410.7,938.0v2.8 M413.5,938.0v2.8 M415.8,938.0v2.8 M417.9,938.0v2.8 M432.1,938.0v2.8" stroke="#222" stroke-width="1.0" fill="none"/>
<path d="M256.6,938.0 H311.8 L311.8,938.0 L312.3,937.7 L312.8,937.4 L313.3,937.1 L313.7,936.8 L314.2,936.6 L314.7,936.3 L315.2,936.0 L315.7,935.8 L316.2,935.6 L316.6,935.5 L317.1,935.3 L317.6,935.2 L318.1,935.1 L318.5,935.0 L319.0,935.0 L319.5,935.0 L320.0,935.1 L320.5,935.2 L320.9,935.3 L321.4,935.4 L321.9,935.5 L322.3,935.4 L322.8,935.2 L323.3,934.9 L323.7,934.6 L324.2,934.2 L324.6,933.8 L325.1,933.5 L325.6,933.3 L326.0,933.1 L326.4,932.9 L326.9,932.7 L327.3,932.5 L327.8,932.3 L328.2,932.2 L328.7,932.1 L329.1,932.1 L329.6,932.2 L330.0,932.3 L330.5,932.5 L330.9,932.8 L331.4,933.1 L331.8,933.4 L332.3,933.7 L332.7,934.0 L333.2,934.2 L333.6,934.5 L334.1,934.8 L334.5,935.0 L335.0,935.3 L335.4,935.5 L335.9,935.6 L336.3,935.6 L336.8,935.6 L337.2,935.5 L337.6,935.4 L338.1,935.3 L338.5,935.2 L339.0,935.1 L339.4,935.0 L339.8,935.0 L340.3,935.0 L340.8,935.2 L341.2,935.3 L341.7,935.6 L342.1,935.8 L342.6,936.0 L343.0,936.1 L343.5,936.1 L344.0,936.1 L344.5,936.1 L344.9,936.1 L345.4,936.1 L345.9,936.1 L346.4,936.1 L346.8,936.1 L347.3,936.1 L347.8,936.1 L348.3,936.1 L348.7,936.1 L349.2,936.1 L349.7,936.1 L350.1,936.0 L350.5,935.9 L351.0,935.7 L351.4,935.6 L351.9,935.4 L352.3,935.2 L352.7,935.1 L353.2,935.0 L353.6,935.0 L354.1,935.0 L354.6,935.0 L355.1,935.0 L355.5,935.1 L356.0,935.2 L356.5,935.2 L357.0,935.3 L357.5,935.4 L357.9,935.5 L358.4,935.6 L358.9,935.8 L359.4,936.0 L359.9,936.2 L360.3,936.5 L360.8,936.7 L361.3,936.9 L361.8,937.1 L362.3,937.2 L362.7,937.2 L363.2,937.2 L363.7,937.3 L364.2,937.3 L364.7,937.3 L365.1,937.3 L365.6,937.4 L366.1,937.4 L366.6,937.4 L367.0,937.4 L367.5,937.4 L368.0,937.5 L368.5,937.5 L368.9,937.5 L369.4,937.5 L369.9,937.5 L370.4,937.5 L370.8,937.5 L371.3,937.5 L371.8,937.4 L372.3,937.4 L372.8,937.3 L373.3,937.2 L373.8,937.1 L374.2,937.0 L374.7,936.8 L375.2,936.7 L375.7,936.5 L376.2,936.3 L376.7,936.1 L377.2,935.9 L377.6,935.5 L378.1,935.1 L378.6,934.5 L379.1,933.9 L379.6,933.3 L380.1,932.6 L380.6,931.8 L381.0,931.1 L381.5,930.3 L382.0,929.4 L382.5,928.4 L382.9,927.4 L383.4,926.3 L383.9,925.1 L384.4,923.8 L384.8,922.5 L385.3,921.2 L385.8,919.9 L386.2,918.5 L386.7,917.0 L387.1,915.5 L387.6,913.9 L388.0,912.1 L388.5,910.1 L389.0,908.0 L389.4,905.6 L389.9,902.8 L390.4,899.6 L390.9,896.1 L391.3,892.3 L391.8,888.0 L392.2,883.4 L392.7,878.0 L393.1,871.9 L393.5,865.6 L394.0,859.2 L394.4,852.4 L394.9,845.1 L395.3,838.1 L395.7,832.0 L396.2,826.0 L396.7,820.7 L397.2,817.5 L397.6,816.2 L398.0,815.6 L398.4,816.8 L398.9,819.7 L399.3,823.6 L399.8,830.9 L400.3,841.5 L400.8,852.2 L401.3,861.5 L401.7,870.9 L402.2,880.0 L402.7,888.0 L403.1,894.8 L403.5,901.2 L404.0,907.2 L404.4,912.4 L404.8,916.8 L405.3,920.5 L405.7,923.9 L406.1,926.9 L406.6,929.4 L407.0,931.1 L407.5,932.5 L407.9,933.7 L408.4,934.8 L408.9,935.7 L409.4,936.3 L409.8,936.8 L410.3,937.1 L410.7,937.4 L411.2,937.6 L411.6,937.8 L412.0,938.0 L433.8,938.0" fill="none" stroke="#1a1a1a" stroke-width="1.4" stroke-linejoin="round"/>
<path d="M256.6,938.0 H338.6 L338.6,938.0 L339.1,937.9 L339.6,937.8 L340.0,937.7 L340.5,937.6 L341.0,937.5 L341.5,937.4 L341.9,937.3 L342.4,937.2 L342.9,937.0 L343.3,936.7 L343.8,936.4 L344.2,935.9 L344.6,935.3 L345.1,934.8 L345.5,934.3 L345.9,933.8 L346.4,933.5 L346.8,933.1 L347.3,932.8 L347.7,932.5 L348.2,932.2 L348.7,932.0 L349.1,931.8 L349.6,931.7 L350.0,931.6 L350.5,931.6 L351.0,931.7 L351.4,931.7 L351.9,931.8 L352.3,931.8 L352.8,931.9 L353.2,931.9 L353.7,931.9 L354.2,931.8 L354.7,931.5 L355.1,931.1 L355.6,930.7 L356.1,930.3 L356.6,930.1 L357.0,929.9 L357.4,929.8 L357.8,929.7 L358.2,929.6 L358.6,929.6 L359.0,929.7 L359.5,930.0 L359.9,930.4 L360.4,930.8 L360.8,931.3 L361.3,931.8 L361.8,932.6 L362.3,933.4 L362.8,934.1 L363.3,934.6 L363.7,934.8 L364.2,934.7 L364.7,934.6 L365.2,934.4 L365.6,934.1 L366.1,933.8 L366.6,933.5 L367.1,933.0 L367.5,932.5 L368.0,931.8 L368.5,931.1 L369.0,930.4 L369.5,929.8 L369.9,929.2 L370.4,928.7 L370.9,928.2 L371.4,927.6 L371.9,927.0 L372.3,926.2 L372.8,925.4 L373.2,924.4 L373.6,923.1 L374.1,921.6 L374.5,919.7 L374.9,916.7 L375.4,912.2 L375.8,906.8 L376.2,901.0 L376.6,895.0 L377.0,888.0 L377.4,880.5 L377.8,872.7 L378.2,865.1 L378.6,856.1 L379.1,846.5 L379.5,837.6 L380.0,830.6 L380.3,826.0 L380.7,821.7 L381.1,818.4 L381.4,816.8 L381.8,816.5 L382.1,816.2 L382.4,816.2 L382.8,817.5 L383.2,821.0 L383.5,825.7 L383.9,830.6 L384.4,837.8 L384.8,846.7 L385.3,856.3 L385.7,865.1 L386.2,872.9 L386.6,880.6 L387.0,887.8 L387.4,893.9 L387.9,899.2 L388.3,904.0 L388.7,908.3 L389.2,912.2 L389.6,915.4 L390.0,918.3 L390.5,921.0 L390.9,923.4 L391.3,925.4 L391.8,926.9 L392.2,928.2 L392.7,929.3 L393.2,930.3 L393.7,931.2 L394.2,931.9 L394.6,932.6 L395.1,933.2 L395.5,933.8 L396.0,934.3 L396.4,934.8 L396.8,935.2 L397.3,935.6 L397.7,936.0 L398.2,936.3 L398.7,936.6 L399.1,936.9 L399.6,937.2 L400.1,937.5 L400.6,937.7 L401.0,938.0 L433.8,938.0" fill="none" stroke="#62bb46" stroke-width="1.4" stroke-linejoin="round"/>
<path d="M256.6,938.0 H322.7 L322.7,938.0 L323.2,937.9 L323.6,937.7 L324.1,937.6 L324.6,937.5 L325.1,937.4 L325.6,937.2 L326.0,937.1 L326.5,937.0 L327.0,936.9 L327.5,936.7 L327.9,936.6 L328.4,936.5 L328.9,936.3 L329.4,936.2 L329.8,936.0 L330.3,935.8 L330.8,935.7 L331.3,935.5 L331.7,935.3 L332.2,935.1 L332.6,934.8 L333.1,934.6 L333.5,934.3 L334.0,934.0 L334.4,933.7 L334.9,933.4 L335.3,933.0 L335.8,932.6 L336.2,932.1 L336.7,931.3 L337.2,930.5 L337.7,929.6 L338.1,928.9 L338.6,928.4 L339.1,928.1 L339.6,927.8 L340.0,927.6 L340.5,927.5 L341.0,927.3 L341.5,927.1 L341.9,926.9 L342.4,926.6 L342.9,926.2 L343.4,925.4 L343.8,923.9 L344.3,922.0 L344.8,919.8 L345.3,917.6 L345.7,915.4 L346.2,913.4 L346.6,911.0 L347.1,908.6 L347.5,906.2 L348.0,904.2 L348.4,902.5 L348.8,901.2 L349.2,899.9 L349.6,898.7 L350.0,897.7 L350.4,897.0 L350.8,896.8 L351.3,897.0 L351.7,897.7 L352.2,898.6 L352.6,899.6 L353.1,901.4 L353.5,903.9 L353.9,906.5 L354.4,908.2 L354.8,909.3 L355.3,910.1 L355.7,910.4 L356.2,909.5 L356.6,907.5 L357.1,904.9 L357.5,902.5 L358.0,900.1 L358.5,897.4 L358.9,895.2 L359.4,893.9 L359.9,893.4 L360.4,893.0 L360.8,892.9 L361.3,893.5 L361.8,895.0 L362.3,896.8 L362.7,899.2 L363.2,902.6 L363.7,906.3 L364.1,909.7 L364.6,912.9 L365.0,916.1 L365.5,919.0 L365.9,921.2 L366.4,922.6 L366.8,923.9 L367.2,924.8 L367.6,925.2 L368.0,925.0 L368.5,924.4 L369.0,923.5 L369.5,922.7 L369.9,921.7 L370.3,920.5 L370.8,919.2 L371.2,917.9 L371.7,916.8 L372.1,915.9 L372.5,915.2 L372.9,914.5 L373.3,913.6 L373.7,912.6 L374.1,911.1 L374.6,909.1 L375.0,906.8 L375.5,904.1 L375.9,901.0 L376.4,897.0 L376.8,892.0 L377.3,886.0 L377.7,879.4 L378.2,872.4 L378.6,864.8 L379.0,855.9 L379.4,846.4 L379.8,837.1 L380.2,829.1 L380.7,820.6 L381.2,812.3 L381.7,805.3 L382.1,800.3 L382.6,797.2 L383.0,794.6 L383.4,793.6 L383.8,794.4 L384.1,796.7 L384.5,799.8 L384.9,803.4 L385.3,810.4 L385.8,820.7 L386.3,832.4 L386.8,843.4 L387.2,852.5 L387.6,861.9 L388.0,871.2 L388.4,879.6 L388.8,886.7 L389.2,893.2 L389.7,899.1 L390.1,904.4 L390.6,908.9 L391.0,912.6 L391.5,915.8 L392.0,918.8 L392.5,921.4 L393.0,923.6 L393.5,925.5 L393.9,926.9 L394.4,927.9 L394.8,928.8 L395.3,929.6 L395.7,930.3 L396.2,930.9 L396.6,931.5 L397.1,932.1 L397.5,932.6 L398.0,933.2 L398.4,933.7 L398.8,934.2 L399.3,934.7 L399.7,935.2 L400.2,935.6 L400.6,936.0 L401.0,936.3 L401.5,936.7 L402.0,936.9 L402.5,937.2 L402.9,937.5 L403.4,937.7 L403.9,938.0 L433.8,938.0" fill="none" stroke="#ee2a24" stroke-width="1.3" stroke-linejoin="round"/>
<g font-size="6.3" fill="#222" class="tk">
<text x="248.4" y="937.6" text-anchor="end">0</text>
<text x="248.4" y="906.5" text-anchor="end">20</text>
<text x="248.4" y="872.9" text-anchor="end">40</text>
<text x="248.4" y="839.2" text-anchor="end">60</text>
<text x="248.4" y="805.6" text-anchor="end">80</text>
<text x="248.4" y="771.9" text-anchor="end">100</text>
<text x="259.4" y="953.6">10<tspan dy="-3.6" dx="0.3" font-size="6.2">0</tspan></text>
<text x="300.2" y="953.6">10<tspan dy="-3.6" dx="0.3" font-size="6.2">1</tspan></text>
<text x="341.0" y="953.6">10<tspan dy="-3.6" dx="0.3" font-size="6.2">2</tspan></text>
<text x="381.8" y="953.6">10<tspan dy="-3.6" dx="0.3" font-size="6.2">3</tspan></text>
<text x="420.8" y="953.6">10<tspan dy="-3.6" dx="0.3" font-size="6.2">4</tspan></text>
</g>
</g>
<g>
<path d="M466.6,938.1 V761.2 H643.8 V938.1" fill="none" stroke="#8c8c8c" stroke-width="1"/>
<path d="M510.3,938.1 L510.7,937.5 L511.2,937.0 L511.7,936.4 L512.2,935.9 L512.7,935.3 L513.2,934.8 L513.7,934.1 L514.1,933.5 L514.6,932.7 L515.1,931.9 L515.6,931.1 L516.1,930.1 L516.5,929.1 L517.0,928.1 L517.5,926.9 L518.0,925.6 L518.5,924.2 L518.9,922.6 L519.4,921.0 L519.8,919.0 L520.3,916.8 L520.7,914.3 L521.2,911.6 L521.6,908.7 L522.1,905.6 L522.5,902.4 L523.0,898.4 L523.4,893.5 L523.9,888.2 L524.4,882.9 L524.9,877.9 L525.4,873.6 L525.8,870.0 L526.3,866.7 L526.8,863.7 L527.3,860.7 L527.7,857.8 L528.2,855.0 L528.6,852.5 L529.1,850.3 L529.5,848.1 L529.9,845.9 L530.3,843.5 L530.8,840.9 L531.2,837.8 L531.6,834.2 L532.0,829.8 L532.4,824.9 L532.8,819.6 L533.2,814.3 L533.6,809.0 L534.1,802.4 L534.6,795.4 L535.1,788.7 L535.6,783.3 L536.0,779.3 L536.4,775.5 L536.8,772.6 L537.2,771.5 L537.6,772.2 L538.0,774.1 L538.4,776.9 L538.8,780.2 L539.2,786.3 L539.6,796.0 L540.0,806.7 L540.4,816.3 L540.9,825.6 L541.4,834.7 L541.8,842.9 L542.3,849.2 L542.7,853.8 L543.1,858.0 L543.5,861.1 L543.9,862.4 L544.2,861.4 L544.6,858.9 L545.0,855.6 L545.3,852.3 L545.8,847.6 L546.2,842.4 L546.6,839.1 L547.0,837.9 L547.4,837.1 L547.8,836.8 L548.3,837.8 L548.7,840.3 L549.2,843.5 L549.7,847.7 L550.1,853.7 L550.6,860.7 L551.0,867.6 L551.5,873.6 L551.9,878.6 L552.3,883.4 L552.7,888.1 L553.1,892.1 L553.5,895.4 L553.9,898.4 L554.4,901.3 L554.8,903.8 L555.3,905.5 L555.7,906.1 L556.1,905.9 L556.6,905.2 L557.0,904.3 L557.4,903.3 L557.9,902.4 L558.3,901.5 L558.7,900.3 L559.2,899.1 L559.6,898.1 L560.0,897.3 L560.4,897.0 L560.9,897.4 L561.3,898.4 L561.8,899.7 L562.2,901.1 L562.6,902.9 L563.1,905.3 L563.5,907.9 L563.9,910.5 L564.4,912.5 L564.8,914.4 L565.3,916.2 L565.8,917.9 L566.3,919.4 L566.7,920.6 L567.2,921.3 L567.7,921.7 L568.1,922.1 L568.5,922.4 L569.0,922.5 L569.4,922.6 L569.8,922.3 L570.3,921.4 L570.7,920.2 L571.1,919.1 L571.5,918.2 L572.0,917.6 L572.5,916.9 L572.9,916.4 L573.4,916.2 L573.8,916.6 L574.3,917.4 L574.7,918.6 L575.1,919.8 L575.6,921.3 L576.0,923.4 L576.4,925.4 L576.9,927.0 L577.3,927.7 L577.8,927.7 L578.2,927.7 L578.6,927.7 L579.1,927.7 L579.5,927.7 L579.9,927.3 L580.4,926.4 L580.8,925.2 L581.2,924.1 L581.7,923.3 L582.1,922.7 L582.5,922.2 L583.0,921.7 L583.4,921.4 L583.8,921.3 L584.3,921.5 L584.7,922.2 L585.1,923.1 L585.5,924.0 L586.0,924.8 L586.5,925.6 L586.9,926.6 L587.4,927.5 L587.9,928.2 L588.4,928.8 L588.8,929.0 L589.3,929.0 L589.7,928.9 L590.2,928.7 L590.7,928.5 L591.1,928.3 L591.6,928.1 L592.0,927.9 L592.5,927.7 L592.9,927.5 L593.4,927.2 L593.8,927.0 L594.3,926.7 L594.7,926.5 L595.2,926.3 L595.6,926.2 L596.1,926.2 L596.5,926.3 L596.9,926.6 L597.4,927.2 L597.8,927.8 L598.3,928.5 L598.7,929.2 L599.2,929.9 L599.6,930.5 L600.1,931.1 L600.6,931.7 L601.1,932.4 L601.5,933.0 L602.0,933.6 L602.5,934.1 L603.0,934.7 L603.5,935.2 L604.0,935.6 L604.4,935.9 L604.9,936.2 L605.4,936.5 L605.8,936.8 L606.3,937.1 L606.8,937.3 L607.2,937.6 L607.7,937.8 L608.2,938.1 Z" fill="#999" stroke="#868686" stroke-width="0.7" stroke-linejoin="round"/>
<path d="M462.0,938.1H466.6 M462.0,904.4H466.6 M462.0,870.8H466.6 M462.0,837.1H466.6 M462.0,803.5H466.6 M462.0,769.8H466.6" stroke="#111" stroke-width="1.5" fill="none"/>
<path d="M464.2,929.7H466.6 M464.2,921.3H466.6 M464.2,912.9H466.6 M464.2,896.0H466.6 M464.2,887.6H466.6 M464.2,879.2H466.6 M464.2,862.4H466.6 M464.2,854.0H466.6 M464.2,845.5H466.6 M464.2,828.7H466.6 M464.2,820.3H466.6 M464.2,811.9H466.6 M464.2,795.0H466.6 M464.2,786.6H466.6 M464.2,778.2H466.6" stroke="#555" stroke-width="0.9" fill="none"/>
<line x1="462.0" y1="938.1" x2="643.8" y2="938.1" stroke="#111" stroke-width="1.5"/>
<path d="M466.6,938.1v5 M507.4,938.1v5 M548.2,938.1v5 M589.0,938.1v5 M629.8,938.1v5" stroke="#111" stroke-width="1.6" fill="none"/>
<path d="M478.9,938.1v2.8 M486.1,938.1v2.8 M491.2,938.1v2.8 M495.1,938.1v2.8 M498.3,938.1v2.8 M501.1,938.1v2.8 M503.4,938.1v2.8 M505.5,938.1v2.8 M519.7,938.1v2.8 M526.9,938.1v2.8 M532.0,938.1v2.8 M535.9,938.1v2.8 M539.1,938.1v2.8 M541.9,938.1v2.8 M544.2,938.1v2.8 M546.3,938.1v2.8 M560.5,938.1v2.8 M567.7,938.1v2.8 M572.8,938.1v2.8 M576.7,938.1v2.8 M579.9,938.1v2.8 M582.7,938.1v2.8 M585.0,938.1v2.8 M587.1,938.1v2.8 M601.3,938.1v2.8 M608.5,938.1v2.8 M613.6,938.1v2.8 M617.5,938.1v2.8 M620.7,938.1v2.8 M623.5,938.1v2.8 M625.8,938.1v2.8 M627.9,938.1v2.8 M642.1,938.1v2.8" stroke="#222" stroke-width="1.0" fill="none"/>
<path d="M466.6,938.1 H521.8 L521.8,938.1 L522.3,937.8 L522.8,937.5 L523.3,937.2 L523.7,936.9 L524.2,936.7 L524.7,936.4 L525.2,936.1 L525.7,935.9 L526.2,935.7 L526.6,935.6 L527.1,935.4 L527.6,935.3 L528.1,935.2 L528.5,935.1 L529.0,935.1 L529.5,935.1 L530.0,935.2 L530.5,935.3 L530.9,935.4 L531.4,935.5 L531.9,935.6 L532.3,935.5 L532.8,935.3 L533.3,935.0 L533.7,934.7 L534.2,934.3 L534.6,933.9 L535.1,933.6 L535.6,933.4 L536.0,933.2 L536.4,933.0 L536.9,932.8 L537.3,932.6 L537.8,932.4 L538.2,932.3 L538.7,932.2 L539.1,932.2 L539.6,932.3 L540.0,932.4 L540.5,932.6 L540.9,932.9 L541.4,933.2 L541.8,933.5 L542.3,933.8 L542.7,934.1 L543.2,934.3 L543.6,934.6 L544.1,934.9 L544.5,935.1 L545.0,935.4 L545.4,935.6 L545.9,935.7 L546.3,935.7 L546.8,935.7 L547.2,935.6 L547.6,935.5 L548.1,935.4 L548.5,935.3 L549.0,935.2 L549.4,935.1 L549.8,935.1 L550.3,935.1 L550.8,935.3 L551.2,935.4 L551.7,935.7 L552.1,935.9 L552.6,936.1 L553.0,936.2 L553.5,936.2 L554.0,936.2 L554.5,936.2 L554.9,936.2 L555.4,936.2 L555.9,936.2 L556.4,936.2 L556.8,936.2 L557.3,936.2 L557.8,936.2 L558.3,936.2 L558.7,936.2 L559.2,936.2 L559.7,936.2 L560.1,936.1 L560.5,936.0 L561.0,935.8 L561.4,935.7 L561.9,935.5 L562.3,935.3 L562.7,935.2 L563.2,935.1 L563.6,935.1 L564.1,935.1 L564.6,935.1 L565.1,935.1 L565.5,935.2 L566.0,935.3 L566.5,935.3 L567.0,935.4 L567.5,935.5 L567.9,935.6 L568.4,935.7 L568.9,935.9 L569.4,936.1 L569.9,936.3 L570.3,936.6 L570.8,936.8 L571.3,937.0 L571.8,937.2 L572.3,937.3 L572.7,937.3 L573.2,937.3 L573.7,937.4 L574.2,937.4 L574.7,937.4 L575.1,937.4 L575.6,937.5 L576.1,937.5 L576.6,937.5 L577.0,937.5 L577.5,937.5 L578.0,937.6 L578.5,937.6 L578.9,937.6 L579.4,937.6 L579.9,937.6 L580.4,937.6 L580.8,937.6 L581.3,937.6 L581.8,937.5 L582.3,937.5 L582.8,937.4 L583.3,937.3 L583.8,937.2 L584.2,937.1 L584.7,936.9 L585.2,936.8 L585.7,936.6 L586.2,936.4 L586.7,936.2 L587.2,936.0 L587.6,935.6 L588.1,935.2 L588.6,934.6 L589.1,934.0 L589.6,933.4 L590.1,932.7 L590.6,931.9 L591.0,931.2 L591.5,930.4 L592.0,929.5 L592.5,928.5 L592.9,927.5 L593.4,926.4 L593.9,925.2 L594.4,923.9 L594.8,922.6 L595.3,921.3 L595.8,920.0 L596.2,918.6 L596.7,917.1 L597.1,915.6 L597.6,914.0 L598.0,912.2 L598.5,910.2 L599.0,908.1 L599.4,905.7 L599.9,902.9 L600.4,899.7 L600.9,896.2 L601.3,892.4 L601.8,888.1 L602.2,883.5 L602.7,878.1 L603.1,872.0 L603.5,865.7 L604.0,859.3 L604.4,852.5 L604.9,845.2 L605.3,838.2 L605.7,832.1 L606.2,826.1 L606.7,820.8 L607.2,817.6 L607.6,816.3 L608.0,815.7 L608.4,816.9 L608.9,819.8 L609.3,823.7 L609.8,831.0 L610.3,841.6 L610.8,852.3 L611.3,861.6 L611.7,871.0 L612.2,880.1 L612.7,888.1 L613.1,894.9 L613.5,901.3 L614.0,907.3 L614.4,912.5 L614.8,916.9 L615.3,920.6 L615.7,924.0 L616.1,927.0 L616.6,929.5 L617.0,931.2 L617.5,932.6 L617.9,933.8 L618.4,934.9 L618.9,935.8 L619.4,936.4 L619.8,936.9 L620.3,937.2 L620.7,937.5 L621.2,937.7 L621.6,937.9 L622.0,938.1 L643.8,938.1" fill="none" stroke="#1a1a1a" stroke-width="1.4" stroke-linejoin="round"/>
<path d="M466.6,938.1 H542.8 L542.8,938.1 L543.3,938.0 L543.8,937.9 L544.3,937.9 L544.7,937.8 L545.2,937.7 L545.7,937.7 L546.2,937.6 L546.6,937.5 L547.1,937.5 L547.6,937.4 L548.1,937.3 L548.6,937.2 L549.0,937.1 L549.5,937.0 L550.0,936.9 L550.5,936.8 L551.0,936.7 L551.4,936.6 L551.9,936.5 L552.4,936.4 L552.9,936.2 L553.4,936.0 L553.8,935.8 L554.3,935.6 L554.8,935.2 L555.3,934.6 L555.7,933.8 L556.2,932.9 L556.7,932.0 L557.2,931.2 L557.7,930.4 L558.1,929.4 L558.6,928.5 L559.1,927.6 L559.6,926.8 L560.0,926.2 L560.5,925.6 L561.0,925.1 L561.5,924.7 L561.9,924.3 L562.4,924.1 L562.9,924.0 L563.4,924.0 L563.8,924.0 L564.3,924.0 L564.8,924.0 L565.3,924.0 L565.7,924.0 L566.2,923.8 L566.7,923.4 L567.2,922.9 L567.6,922.3 L568.1,921.9 L568.6,921.8 L569.0,921.8 L569.5,922.0 L569.9,922.1 L570.4,922.4 L570.8,922.6 L571.3,923.1 L571.8,923.8 L572.3,924.6 L572.8,925.4 L573.3,925.9 L573.7,926.2 L574.2,926.0 L574.6,925.7 L575.1,925.2 L575.5,924.6 L575.9,924.0 L576.4,923.0 L576.8,921.6 L577.2,919.9 L577.6,918.3 L578.0,916.9 L578.4,915.6 L578.9,914.4 L579.3,913.2 L579.7,912.3 L580.2,911.8 L580.6,911.6 L580.9,911.5 L581.3,911.4 L581.7,911.3 L582.1,911.8 L582.5,913.0 L582.9,914.3 L583.3,915.4 L583.8,916.3 L584.2,917.3 L584.7,918.0 L585.2,918.2 L585.6,917.7 L585.9,916.2 L586.3,913.9 L586.7,911.2 L587.2,903.7 L587.6,891.8 L588.1,879.4 L588.6,867.1 L589.1,854.4 L589.5,843.5 L589.9,836.3 L590.3,829.6 L590.7,824.0 L591.0,820.3 L591.5,817.4 L592.0,816.1 L592.3,816.9 L592.7,819.1 L593.1,822.0 L593.5,826.9 L593.8,834.5 L594.2,842.9 L594.6,850.6 L595.0,858.3 L595.5,865.8 L595.9,872.9 L596.3,879.4 L596.8,885.5 L597.3,891.2 L597.7,896.4 L598.2,901.1 L598.6,905.1 L599.0,909.0 L599.5,912.5 L599.9,915.6 L600.3,918.2 L600.8,920.7 L601.3,922.9 L601.8,924.9 L602.2,926.7 L602.7,928.3 L603.2,929.7 L603.6,930.8 L604.0,931.8 L604.5,932.7 L604.9,933.6 L605.3,934.3 L605.7,935.0 L606.1,935.6 L606.6,936.1 L607.1,936.6 L607.6,937.0 L608.0,937.3 L608.5,937.7 L609.0,938.1 L643.8,938.1" fill="none" stroke="#62bb46" stroke-width="1.4" stroke-linejoin="round"/>
<path d="M466.6,938.1 H534.2 L534.2,938.1 L534.6,937.9 L535.1,937.8 L535.6,937.6 L536.1,937.5 L536.5,937.4 L537.0,937.2 L537.5,937.1 L538.0,937.0 L538.4,936.8 L538.9,936.7 L539.4,936.5 L539.8,936.3 L540.3,936.1 L540.8,935.8 L541.3,935.6 L541.7,935.3 L542.2,934.9 L542.6,934.4 L543.1,933.8 L543.6,933.2 L544.0,932.6 L544.5,931.9 L544.9,931.2 L545.4,930.3 L545.9,929.3 L546.4,928.2 L546.8,927.1 L547.3,926.2 L547.8,925.5 L548.2,925.0 L548.7,924.5 L549.1,924.2 L549.6,923.9 L550.0,923.8 L550.4,923.8 L550.9,923.8 L551.3,923.8 L551.7,923.9 L552.2,923.9 L552.6,923.9 L553.1,924.0 L553.5,924.0 L554.0,923.4 L554.5,921.9 L554.9,919.6 L555.4,916.9 L555.9,914.0 L556.4,911.2 L556.8,908.1 L557.3,904.4 L557.7,900.5 L558.2,896.8 L558.6,893.8 L559.1,891.3 L559.5,888.9 L560.0,887.0 L560.4,885.9 L560.8,885.5 L561.1,885.2 L561.5,885.1 L562.0,886.7 L562.4,890.2 L562.9,893.8 L563.3,896.6 L563.6,899.7 L564.0,902.4 L564.4,903.9 L564.8,904.6 L565.1,905.1 L565.5,905.3 L566.0,904.4 L566.4,902.2 L566.8,899.4 L567.3,896.7 L567.7,894.0 L568.1,890.9 L568.6,887.8 L569.0,884.8 L569.4,882.2 L569.9,879.5 L570.4,876.9 L570.8,874.8 L571.3,874.0 L571.8,874.8 L572.2,876.8 L572.7,879.4 L573.1,882.8 L573.6,887.6 L574.0,892.6 L574.4,896.7 L574.9,899.9 L575.3,902.8 L575.7,905.5 L576.2,907.8 L576.6,909.7 L577.0,911.2 L577.5,912.7 L577.9,913.9 L578.4,914.9 L578.8,915.4 L579.2,915.6 L579.6,915.8 L580.0,915.9 L580.4,916.0 L580.8,916.1 L581.3,915.9 L581.8,915.5 L582.3,914.9 L582.7,914.2 L583.2,913.6 L583.7,913.2 L584.1,912.9 L584.6,912.7 L585.0,912.5 L585.5,912.3 L585.9,911.8 L586.4,910.6 L586.8,908.1 L587.2,904.8 L587.7,901.1 L588.1,895.6 L588.6,888.2 L589.1,880.0 L589.5,872.3 L590.0,864.6 L590.5,856.8 L591.0,849.5 L591.4,843.5 L591.9,838.7 L592.4,834.5 L592.8,832.1 L593.2,831.2 L593.5,830.6 L593.9,830.4 L594.4,832.6 L594.8,837.7 L595.3,843.5 L595.8,849.8 L596.2,857.2 L596.7,864.9 L597.2,872.3 L597.6,878.4 L598.0,884.7 L598.4,890.8 L598.8,896.3 L599.2,901.1 L599.7,905.7 L600.1,909.9 L600.6,913.7 L601.0,917.0 L601.5,919.8 L601.9,921.9 L602.3,923.9 L602.7,925.6 L603.1,927.2 L603.5,928.6 L603.9,929.7 L604.4,930.8 L604.9,931.8 L605.4,932.7 L605.8,933.4 L606.3,934.1 L606.8,934.7 L607.2,935.3 L607.7,935.7 L608.1,936.2 L608.6,936.6 L609.0,936.9 L609.5,937.3 L609.9,937.7 L610.4,938.1 L643.8,938.1" fill="none" stroke="#ee2a24" stroke-width="1.3" stroke-linejoin="round"/>
<g font-size="6.3" fill="#222" class="tk">
<text x="458.4" y="937.7" text-anchor="end">0</text>
<text x="458.4" y="906.6" text-anchor="end">20</text>
<text x="458.4" y="873.0" text-anchor="end">40</text>
<text x="458.4" y="839.3" text-anchor="end">60</text>
<text x="458.4" y="805.7" text-anchor="end">80</text>
<text x="458.4" y="772.0" text-anchor="end">100</text>
<text x="469.4" y="953.7">10<tspan dy="-3.6" dx="0.3" font-size="6.2">0</tspan></text>
<text x="510.2" y="953.7">10<tspan dy="-3.6" dx="0.3" font-size="6.2">1</tspan></text>
<text x="551.0" y="953.7">10<tspan dy="-3.6" dx="0.3" font-size="6.2">2</tspan></text>
<text x="591.8" y="953.7">10<tspan dy="-3.6" dx="0.3" font-size="6.2">3</tspan></text>
<text x="630.8" y="953.7">10<tspan dy="-3.6" dx="0.3" font-size="6.2">4</tspan></text>
</g>
<rect x="464.0" y="758.6" width="5.2" height="5.2" fill="#3a3a3a"/>
<rect x="641.2" y="758.6" width="5.2" height="5.2" fill="#3a3a3a"/>
<rect x="464.0" y="935.5" width="5.2" height="5.2" fill="#3a3a3a"/>
<rect x="641.2" y="935.5" width="5.2" height="5.2" fill="#3a3a3a"/>
</g>
<text transform="translate(58.60 1005.00) scale(0.98 1)" font-size="19.2">CFSE</text>
<line x1="136.00" y1="998.60" x2="630.60" y2="998.60" stroke="#000" stroke-width="2.4"/>
<polygon points="642.40,998.60 629.60,992.30 629.60,1004.90" fill="#000"/>
<rect x="685.60" y="398.60" width="31.80" height="18.40" fill="#808080"/>
<line x1="687.40" y1="433.00" x2="716.00" y2="433.00" stroke="#000" stroke-width="3.6"/>
<line x1="687.40" y1="458.00" x2="716.00" y2="458.00" stroke="#ee2a24" stroke-width="3.2"/>
<line x1="687.40" y1="483.40" x2="716.00" y2="483.40" stroke="#62bb46" stroke-width="3.2"/>
<text transform="translate(730.00 415.00) scale(0.98 1)" font-size="19.2">Activated splenocytes</text>
<text transform="translate(731.40 440.00) scale(0.98 1)" font-size="19.2">inactivated splenocytes</text>
<text transform="translate(728.60 463.60) scale(0.98 1)" font-size="19.2">activated splenocytes+ SCR-MSCs</text>
<text transform="translate(728.60 490.00) scale(0.98 1)" font-size="19.2">activated splenocytes+ L2A-KD-MSCs</text>
<line x1="793.50" y1="606.60" x2="793.50" y2="624.20" stroke="#000" stroke-width="2.0"/>
<line x1="788.00" y1="606.60" x2="799.00" y2="606.60" stroke="#000" stroke-width="2.0"/>
<path d="M783.35,717.60V624.55H803.65V717.60" fill="#fff" stroke="#ef4136" stroke-width="2.7"/>
<line x1="825.10" y1="566.20" x2="825.10" y2="586.40" stroke="#000" stroke-width="2.0"/>
<line x1="819.60" y1="566.20" x2="830.60" y2="566.20" stroke="#000" stroke-width="2.0"/>
<path d="M814.75,717.60V586.75H835.45V717.60" fill="#fff" stroke="#62bb46" stroke-width="2.7"/>
<line x1="877.50" y1="645.00" x2="877.50" y2="653.60" stroke="#000" stroke-width="2.0"/>
<line x1="872.00" y1="645.00" x2="883.00" y2="645.00" stroke="#000" stroke-width="2.0"/>
<path d="M867.35,717.60V653.95H887.65V717.60" fill="#fff" stroke="#ef4136" stroke-width="2.7"/>
<line x1="909.10" y1="624.40" x2="909.10" y2="634.40" stroke="#000" stroke-width="2.0"/>
<line x1="903.60" y1="624.40" x2="914.60" y2="624.40" stroke="#000" stroke-width="2.0"/>
<path d="M898.95,717.60V634.75H919.25V717.60" fill="#fff" stroke="#62bb46" stroke-width="2.7"/>
<line x1="961.10" y1="665.60" x2="961.10" y2="677.40" stroke="#000" stroke-width="2.0"/>
<line x1="955.60" y1="665.60" x2="966.60" y2="665.60" stroke="#000" stroke-width="2.0"/>
<path d="M950.95,717.60V677.75H971.25V717.60" fill="#fff" stroke="#ef4136" stroke-width="2.7"/>
<line x1="992.50" y1="654.40" x2="992.50" y2="664.40" stroke="#000" stroke-width="2.0"/>
<line x1="987.00" y1="654.40" x2="998.00" y2="654.40" stroke="#000" stroke-width="2.0"/>
<path d="M982.35,717.60V664.75H1002.65V717.60" fill="#fff" stroke="#62bb46" stroke-width="2.7"/>
<line x1="772.50" y1="556.40" x2="772.50" y2="718.80" stroke="#000" stroke-width="2.5"/>
<line x1="767.60" y1="717.60" x2="1015.00" y2="717.60" stroke="#000" stroke-width="2.5"/>
<line x1="767.60" y1="717.60" x2="772.50" y2="717.60" stroke="#000" stroke-width="2.3"/>
<text x="766.0" y="721.5" text-anchor="end" font-size="6.7" font-weight="bold" letter-spacing="2.7" style="stroke-width:0.25px">0</text>
<line x1="767.60" y1="685.55" x2="772.50" y2="685.55" stroke="#000" stroke-width="2.3"/>
<text x="766.0" y="689.5" text-anchor="end" font-size="6.7" font-weight="bold" letter-spacing="2.7" style="stroke-width:0.25px">20</text>
<line x1="767.60" y1="653.50" x2="772.50" y2="653.50" stroke="#000" stroke-width="2.3"/>
<text x="766.0" y="657.4" text-anchor="end" font-size="6.7" font-weight="bold" letter-spacing="2.7" style="stroke-width:0.25px">40</text>
<line x1="767.60" y1="621.45" x2="772.50" y2="621.45" stroke="#000" stroke-width="2.3"/>
<text x="766.0" y="625.4" text-anchor="end" font-size="6.7" font-weight="bold" letter-spacing="2.7" style="stroke-width:0.25px">60</text>
<line x1="767.60" y1="589.40" x2="772.50" y2="589.40" stroke="#000" stroke-width="2.3"/>
<text x="766.0" y="593.3" text-anchor="end" font-size="6.7" font-weight="bold" letter-spacing="2.7" style="stroke-width:0.25px">80</text>
<line x1="767.60" y1="557.35" x2="772.50" y2="557.35" stroke="#000" stroke-width="2.3"/>
<text x="766.0" y="561.2" text-anchor="end" font-size="6.7" font-weight="bold" letter-spacing="2.7" style="stroke-width:0.25px">100</text>
<line x1="793.60" y1="717.60" x2="793.60" y2="722.60" stroke="#000" stroke-width="2.3"/>
<line x1="825.00" y1="717.60" x2="825.00" y2="722.60" stroke="#000" stroke-width="2.3"/>
<line x1="877.40" y1="717.60" x2="877.40" y2="722.60" stroke="#000" stroke-width="2.3"/>
<line x1="908.60" y1="717.60" x2="908.60" y2="722.60" stroke="#000" stroke-width="2.3"/>
<line x1="961.00" y1="717.60" x2="961.00" y2="722.60" stroke="#000" stroke-width="2.3"/>
<line x1="992.40" y1="717.60" x2="992.40" y2="722.60" stroke="#000" stroke-width="2.3"/>
<line x1="792.60" y1="728.40" x2="825.40" y2="728.40" stroke="#000" stroke-width="2.3"/>
<line x1="876.60" y1="728.40" x2="909.40" y2="728.40" stroke="#000" stroke-width="2.3"/>
<line x1="959.40" y1="728.40" x2="992.00" y2="728.40" stroke="#000" stroke-width="2.3"/>
<text transform="translate(809.00 749.80) scale(0.98 1)" font-size="16.8" text-anchor="middle">1:20</text>
<text transform="translate(892.60 749.80) scale(0.98 1)" font-size="16.8" text-anchor="middle">1:40</text>
<text transform="translate(976.00 749.80) scale(0.98 1)" font-size="16.8" text-anchor="middle">1:80</text>
<line x1="793.60" y1="557.00" x2="823.80" y2="557.00" stroke="#000" stroke-width="2.4"/>
<text x="807.85" y="556.00" font-size="16.5" text-anchor="middle" letter-spacing="0.5" style="stroke-width:0.55px">***</text>
<line x1="877.80" y1="609.40" x2="907.80" y2="609.40" stroke="#000" stroke-width="2.4"/>
<text x="891.85" y="607.20" font-size="16.5" text-anchor="middle" letter-spacing="0.5" style="stroke-width:0.55px">***</text>
<line x1="960.40" y1="646.40" x2="990.40" y2="646.40" stroke="#000" stroke-width="2.4"/>
<text x="974.25" y="644.60" font-size="16.5" text-anchor="middle" letter-spacing="0.5" style="stroke-width:0.55px">***</text>
<text transform="translate(716.00 638.50) rotate(-90) scale(0.95 1)" font-size="19.9" text-anchor="middle">percentage of non-</text>
<text transform="translate(738.00 638.50) rotate(-90) scale(0.95 1)" font-size="19.9" text-anchor="middle">proliferating T cells</text>
<line x1="798.00" y1="822.60" x2="798.00" y2="830.60" stroke="#000" stroke-width="2.0"/>
<line x1="792.50" y1="822.60" x2="803.50" y2="822.60" stroke="#000" stroke-width="2.0"/>
<path d="M787.75,945.00V830.95H808.25V945.00" fill="#fff" stroke="#ed1c24" stroke-width="2.7"/>
<line x1="829.50" y1="813.00" x2="829.50" y2="819.00" stroke="#000" stroke-width="2.0"/>
<line x1="824.00" y1="813.00" x2="835.00" y2="813.00" stroke="#000" stroke-width="2.0"/>
<path d="M819.35,945.00V819.35H839.65V945.00" fill="#fff" stroke="#62bb46" stroke-width="2.7"/>
<line x1="881.80" y1="833.60" x2="881.80" y2="845.40" stroke="#000" stroke-width="2.0"/>
<line x1="876.30" y1="833.60" x2="887.30" y2="833.60" stroke="#000" stroke-width="2.0"/>
<path d="M871.75,945.00V845.75H891.85V945.00" fill="#fff" stroke="#ed1c24" stroke-width="2.7"/>
<line x1="913.10" y1="826.00" x2="913.10" y2="833.00" stroke="#000" stroke-width="2.0"/>
<line x1="907.60" y1="826.00" x2="918.60" y2="826.00" stroke="#000" stroke-width="2.0"/>
<path d="M902.95,945.00V833.35H923.25V945.00" fill="#fff" stroke="#62bb46" stroke-width="2.7"/>
<line x1="965.50" y1="848.60" x2="965.50" y2="861.00" stroke="#000" stroke-width="2.0"/>
<line x1="960.00" y1="848.60" x2="971.00" y2="848.60" stroke="#000" stroke-width="2.0"/>
<path d="M955.35,945.00V861.35H975.65V945.00" fill="#fff" stroke="#ed1c24" stroke-width="2.7"/>
<line x1="996.70" y1="851.00" x2="996.70" y2="853.60" stroke="#000" stroke-width="2.0"/>
<line x1="991.20" y1="851.00" x2="1002.20" y2="851.00" stroke="#000" stroke-width="2.0"/>
<path d="M986.75,945.00V853.95H1006.65V945.00" fill="#fff" stroke="#62bb46" stroke-width="2.7"/>
<line x1="777.00" y1="795.40" x2="777.00" y2="946.20" stroke="#000" stroke-width="2.5"/>
<line x1="772.40" y1="945.00" x2="1018.60" y2="945.00" stroke="#000" stroke-width="2.5"/>
<line x1="772.40" y1="945.00" x2="777.00" y2="945.00" stroke="#000" stroke-width="2.3"/>
<text x="770.8" y="948.9" text-anchor="end" font-size="6.7" font-weight="bold" letter-spacing="2.7" style="stroke-width:0.25px">0</text>
<line x1="772.40" y1="915.30" x2="777.00" y2="915.30" stroke="#000" stroke-width="2.3"/>
<text x="770.8" y="919.2" text-anchor="end" font-size="6.7" font-weight="bold" letter-spacing="2.7" style="stroke-width:0.25px">20</text>
<line x1="772.40" y1="885.60" x2="777.00" y2="885.60" stroke="#000" stroke-width="2.3"/>
<text x="770.8" y="889.5" text-anchor="end" font-size="6.7" font-weight="bold" letter-spacing="2.7" style="stroke-width:0.25px">40</text>
<line x1="772.40" y1="855.90" x2="777.00" y2="855.90" stroke="#000" stroke-width="2.3"/>
<text x="770.8" y="859.8" text-anchor="end" font-size="6.7" font-weight="bold" letter-spacing="2.7" style="stroke-width:0.25px">60</text>
<line x1="772.40" y1="826.20" x2="777.00" y2="826.20" stroke="#000" stroke-width="2.3"/>
<text x="770.8" y="830.1" text-anchor="end" font-size="6.7" font-weight="bold" letter-spacing="2.7" style="stroke-width:0.25px">80</text>
<line x1="772.40" y1="796.50" x2="777.00" y2="796.50" stroke="#000" stroke-width="2.3"/>
<text x="770.8" y="800.4" text-anchor="end" font-size="6.7" font-weight="bold" letter-spacing="2.7" style="stroke-width:0.25px">100</text>
<line x1="798.00" y1="945.00" x2="798.00" y2="950.00" stroke="#000" stroke-width="2.3"/>
<line x1="829.40" y1="945.00" x2="829.40" y2="950.00" stroke="#000" stroke-width="2.3"/>
<line x1="882.00" y1="945.00" x2="882.00" y2="950.00" stroke="#000" stroke-width="2.3"/>
<line x1="913.00" y1="945.00" x2="913.00" y2="950.00" stroke="#000" stroke-width="2.3"/>
<line x1="965.40" y1="945.00" x2="965.40" y2="950.00" stroke="#000" stroke-width="2.3"/>
<line x1="996.60" y1="945.00" x2="996.60" y2="950.00" stroke="#000" stroke-width="2.3"/>
<line x1="797.00" y1="953.60" x2="830.00" y2="953.60" stroke="#000" stroke-width="2.3"/>
<line x1="881.00" y1="953.60" x2="914.00" y2="953.60" stroke="#000" stroke-width="2.3"/>
<line x1="964.40" y1="953.60" x2="997.20" y2="953.60" stroke="#000" stroke-width="2.3"/>
<text transform="translate(813.60 975.40) scale(0.98 1)" font-size="16.8" text-anchor="middle">1:20</text>
<text transform="translate(897.60 975.40) scale(0.98 1)" font-size="16.8" text-anchor="middle">1:40</text>
<text transform="translate(981.00 975.40) scale(0.98 1)" font-size="16.8" text-anchor="middle">1:80</text>
<line x1="799.40" y1="800.00" x2="828.60" y2="800.00" stroke="#000" stroke-width="2.4"/>
<text x="812.65" y="799.00" font-size="16.5" text-anchor="middle" letter-spacing="0.5" style="stroke-width:0.55px">***</text>
<line x1="883.40" y1="811.60" x2="912.60" y2="811.60" stroke="#000" stroke-width="2.4"/>
<text x="896.85" y="811.20" font-size="16.5" text-anchor="middle" letter-spacing="0.5" style="stroke-width:0.55px">***</text>
<line x1="965.40" y1="836.40" x2="995.60" y2="836.40" stroke="#000" stroke-width="2.4"/>
<text x="980.25" y="835.60" font-size="16.5" text-anchor="middle" letter-spacing="0.5" style="stroke-width:0.55px">***</text>
<text transform="translate(715.80 864.50) rotate(-90) scale(0.95 1)" font-size="19.9" text-anchor="middle">percentage of non-</text>
<text transform="translate(738.00 864.50) rotate(-90) scale(0.95 1)" font-size="19.9" text-anchor="middle">proliferating T cells</text>
<text transform="translate(1110.40 463.40) scale(0.96 1)" font-size="41" style="stroke-width:0.6px">d</text>
<line x1="1266.30" y1="799.90" x2="1266.30" y2="804.00" stroke="#000" stroke-width="2.8"/>
<line x1="1251.00" y1="799.90" x2="1281.60" y2="799.90" stroke="#000" stroke-width="2.8"/>
<path d="M1236.25,840.60V804.85H1296.35V840.60" fill="#fff" stroke="#000" stroke-width="3.7"/>
<line x1="1357.00" y1="790.30" x2="1357.00" y2="809.00" stroke="#000" stroke-width="2.8"/>
<line x1="1341.70" y1="790.30" x2="1372.30" y2="790.30" stroke="#000" stroke-width="2.8"/>
<rect x="1325.20" y="808.00" width="63.60" height="32.60" fill="#000"/>
<line x1="1448.00" y1="627.70" x2="1448.00" y2="651.50" stroke="#5f6060" stroke-width="2.8"/>
<line x1="1432.70" y1="627.70" x2="1463.30" y2="627.70" stroke="#5f6060" stroke-width="2.8"/>
<rect x="1416.00" y="650.50" width="64.00" height="190.10" fill="#5f6060"/>
<line x1="1206.10" y1="581.80" x2="1206.10" y2="841.90" stroke="#000" stroke-width="2.7"/>
<line x1="1200.40" y1="840.60" x2="1509.30" y2="840.60" stroke="#000" stroke-width="2.7"/>
<line x1="1200.40" y1="840.60" x2="1206.10" y2="840.60" stroke="#000" stroke-width="2.7"/>
<text transform="translate(1194.60 842.90) scale(0.955 1)" font-size="19.2" text-anchor="end">0.0</text>
<line x1="1200.40" y1="754.85" x2="1206.10" y2="754.85" stroke="#000" stroke-width="2.7"/>
<text transform="translate(1194.60 762.70) scale(0.955 1)" font-size="19.2" text-anchor="end">0.1</text>
<line x1="1200.40" y1="669.10" x2="1206.10" y2="669.10" stroke="#000" stroke-width="2.7"/>
<text transform="translate(1194.60 676.70) scale(0.955 1)" font-size="19.2" text-anchor="end">0.2</text>
<line x1="1200.40" y1="583.35" x2="1206.10" y2="583.35" stroke="#000" stroke-width="2.7"/>
<text transform="translate(1194.60 590.80) scale(0.955 1)" font-size="19.2" text-anchor="end">0.3</text>
<line x1="1266.50" y1="840.60" x2="1266.50" y2="848.00" stroke="#000" stroke-width="2.6"/>
<line x1="1356.90" y1="840.60" x2="1356.90" y2="848.00" stroke="#000" stroke-width="2.6"/>
<line x1="1447.80" y1="840.60" x2="1447.80" y2="848.00" stroke="#000" stroke-width="2.6"/>
<line x1="1267.00" y1="763.70" x2="1355.70" y2="763.70" stroke="#000" stroke-width="2.5"/>
<text transform="translate(1314.30 758.90) scale(0.94 1)" font-size="19.2" text-anchor="middle">n.s.</text>
<line x1="1357.40" y1="606.70" x2="1446.00" y2="606.70" stroke="#000" stroke-width="2.5"/>
<text x="1398.25" y="599.40" font-size="16.5" text-anchor="middle" letter-spacing="0.5" style="stroke-width:0.55px">***</text>
<text transform="translate(1264.30 876.60) scale(0.98 1)" font-size="19.2" text-anchor="middle">WT</text>
<text transform="translate(1356.70 876.60) scale(0.98 1)" font-size="19.2" text-anchor="middle">SCR</text>
<text transform="translate(1451.60 876.60) scale(0.98 1)" font-size="19.2" text-anchor="middle">L2A-OE</text>
<text transform="translate(1128.00 712.80) rotate(-90) scale(0.985 1)" font-size="19.2" text-anchor="middle">Relative mRNA expression</text>
<text transform="translate(1150.00 710.70) rotate(-90) scale(0.985 1)" font-size="19.2" text-anchor="middle">of L2A to β-actin</text>
<text transform="translate(1559.80 463.20) scale(0.96 1)" font-size="41" style="stroke-width:0.6px">e</text>
<text transform="translate(1681.60 471.20) scale(0.98 1)" font-size="19.2" text-anchor="middle">WT</text>
<text transform="translate(1771.30 472.10) scale(0.98 1)" font-size="19.2" text-anchor="middle">SCR</text>
<text transform="translate(1857.00 470.60) scale(0.98 1)" font-size="19.2" text-anchor="middle">L2A-OE</text>
<text x="1626.60" y="519.00" font-size="19.2" text-anchor="end">L2A</text>
<text x="1626.40" y="577.20" font-size="19.2" text-anchor="end">β-actin</text>
<line x1="1915.20" y1="519.00" x2="1933.20" y2="519.00" stroke="#000" stroke-width="2.4"/>
<polygon points="1903.40,519.00 1916.20,512.80 1916.20,525.20" fill="#000"/>
<text transform="translate(1937.20 525.10) scale(0.98 1)" font-size="19.2">120kDa</text>
<line x1="1915.20" y1="577.60" x2="1933.20" y2="577.60" stroke="#000" stroke-width="2.4"/>
<polygon points="1903.40,577.60 1916.20,571.40 1916.20,583.80" fill="#000"/>
<text transform="translate(1937.20 585.50) scale(0.98 1)" font-size="19.2">42kDa</text>
<defs><clipPath id="ce1"><rect x="1639.4" y="483.7" width="256.9" height="51.9"/></clipPath><clipPath id="ce2"><rect x="1639.4" y="546" width="256.9" height="51.8"/></clipPath><filter id="be2" filterUnits="userSpaceOnUse" x="0" y="0" width="2001" height="1391"><feGaussianBlur stdDeviation="2.1"/></filter><filter id="be4" filterUnits="userSpaceOnUse" x="0" y="0" width="2001" height="1391"><feGaussianBlur stdDeviation="2.6"/></filter><filter id="be6" filterUnits="userSpaceOnUse" x="0" y="0" width="2001" height="1391"><feGaussianBlur stdDeviation="3.6"/></filter></defs>
<rect x="1639.40" y="483.70" width="256.90" height="51.90" fill="#d9d9d9"/>
<g clip-path="url(#ce1)">
<rect x="1652" y="480" width="55" height="62" fill="#000" opacity="0.15" filter="url(#be6)"/>
<rect x="1736" y="480" width="55" height="62" fill="#000" opacity="0.13" filter="url(#be6)"/>
<rect x="1818" y="480" width="66" height="62" fill="#000" opacity="0.2" filter="url(#be6)"/>
<rect x="1653" y="492" width="53" height="21" fill="#000" opacity="0.07" filter="url(#be4)"/>
<rect x="1737" y="493" width="53" height="26" fill="#000" opacity="0.06" filter="url(#be4)"/>
<rect x="1820" y="493" width="63" height="21" fill="#000" opacity="0.24" filter="url(#be4)"/>
<rect x="1653" y="510.4" width="53" height="4" rx="2.5" fill="#000" opacity="0.2" filter="url(#be2)"/>
<rect x="1738" y="511.0" width="52" height="4" rx="2.5" fill="#000" opacity="0.13" filter="url(#be2)"/>
<rect x="1819" y="515.2" width="66" height="8" rx="2.5" fill="#000" opacity="0.85" filter="url(#be2)"/>
</g>
<rect x="1639.40" y="483.70" width="256.90" height="51.90" fill="none" stroke="#000" stroke-width="2"/>
<rect x="1639.40" y="546.00" width="256.90" height="51.80" fill="#cbcbcb"/>
<g clip-path="url(#ce2)">
<rect x="1646" y="552" width="66" height="40" fill="#000" opacity="0.06" filter="url(#be6)"/>
<rect x="1730" y="552" width="65" height="40" fill="#000" opacity="0.08" filter="url(#be6)"/>
<rect x="1812" y="552" width="80" height="40" fill="#000" opacity="0.05" filter="url(#be6)"/>
<rect x="1650" y="567.2" width="57" height="13.199999999999932" rx="6" fill="#000" opacity="1" filter="url(#be2)"/>
<rect x="1733.5" y="570" width="57.5" height="11.799999999999955" rx="6" fill="#000" opacity="0.95" filter="url(#be2)"/>
<rect x="1816.5" y="571.4" width="69.5" height="11.800000000000068" rx="6" fill="#000" opacity="1" filter="url(#be2)"/>
<circle cx="1647.6" cy="556" r="1.8" fill="#000" opacity="0.45" filter="url(#be2)"/>
</g>
<rect x="1639.40" y="546.00" width="256.90" height="51.80" fill="none" stroke="#000" stroke-width="2"/>
<line x1="1697.20" y1="773.80" x2="1697.20" y2="786.10" stroke="#000" stroke-width="2.6"/>
<line x1="1682.60" y1="773.80" x2="1711.80" y2="773.80" stroke="#000" stroke-width="2.6"/>
<path d="M1668.60,854.90V786.90H1725.80V854.90" fill="#fff" stroke="#000" stroke-width="3.6"/>
<line x1="1784.40" y1="779.40" x2="1784.40" y2="789.20" stroke="#000" stroke-width="2.6"/>
<line x1="1769.80" y1="779.40" x2="1799.00" y2="779.40" stroke="#000" stroke-width="2.6"/>
<rect x="1754.00" y="788.20" width="60.80" height="66.70" fill="#000"/>
<line x1="1871.35" y1="685.40" x2="1871.35" y2="690.10" stroke="#5f5f5f" stroke-width="2.6"/>
<line x1="1856.75" y1="685.40" x2="1885.95" y2="685.40" stroke="#5f5f5f" stroke-width="2.6"/>
<rect x="1840.70" y="689.10" width="61.30" height="165.80" fill="#5f5f5f"/>
<line x1="1639.00" y1="660.30" x2="1639.00" y2="856.20" stroke="#000" stroke-width="2.6"/>
<line x1="1633.40" y1="854.90" x2="1930.90" y2="854.90" stroke="#000" stroke-width="2.6"/>
<line x1="1633.40" y1="854.90" x2="1639.00" y2="854.90" stroke="#000" stroke-width="2.6"/>
<line x1="1633.40" y1="790.50" x2="1639.00" y2="790.50" stroke="#000" stroke-width="2.6"/>
<line x1="1633.40" y1="726.10" x2="1639.00" y2="726.10" stroke="#000" stroke-width="2.6"/>
<line x1="1633.40" y1="661.70" x2="1639.00" y2="661.70" stroke="#000" stroke-width="2.6"/>
<line x1="1697.20" y1="854.90" x2="1697.20" y2="860.60" stroke="#000" stroke-width="2.6"/>
<line x1="1784.40" y1="854.90" x2="1784.40" y2="860.60" stroke="#000" stroke-width="2.6"/>
<line x1="1871.20" y1="854.90" x2="1871.20" y2="860.60" stroke="#000" stroke-width="2.6"/>
<line x1="1696.00" y1="753.10" x2="1784.90" y2="753.10" stroke="#000" stroke-width="2.5"/>
<text transform="translate(1734.80 747.20) scale(0.94 1)" font-size="19.2" text-anchor="middle">n.s.</text>
<line x1="1783.70" y1="674.00" x2="1872.80" y2="674.00" stroke="#000" stroke-width="2.5"/>
<text x="1824.55" y="672.40" font-size="16.5" text-anchor="middle" letter-spacing="0.5" style="stroke-width:0.55px">***</text>
<text transform="translate(1697.60 892.10) scale(0.98 1)" font-size="19.2" text-anchor="middle">WT</text>
<text transform="translate(1783.70 892.10) scale(0.98 1)" font-size="19.2" text-anchor="middle">SCR</text>
<text transform="translate(1878.40 892.10) scale(0.98 1)" font-size="19.2" text-anchor="middle">L2A-OE</text>
<text transform="translate(1610.40 766.60) rotate(-90) scale(0.98 1)" font-size="19.2" text-anchor="middle">Relative expression of L2A</text>
<text transform="translate(-0.60 1105.20) scale(0.96 1)" font-size="41" style="stroke-width:0.6px">f</text>
<text transform="translate(88.50 1117.00) scale(0.975 1)" font-size="19.2">Gate on CD4<tspan dy="-6.5" font-size="12.5">+</tspan><tspan dy="6.5"> T cells</tspan></text>
<text transform="translate(331.20 1117.00) scale(0.975 1)" font-size="19.2">Gate on CD8<tspan dy="-6.5" font-size="12.5">+</tspan><tspan dy="6.5"> T cells</tspan></text>
<g>
<path d="M73.0,1339.6 V1137.3 H276.0 V1339.6" fill="none" stroke="#8c8c8c" stroke-width="1"/>
<path d="M136.8,1339.6 L137.3,1338.8 L137.9,1338.0 L138.4,1337.2 L138.9,1336.3 L139.5,1335.5 L140.0,1334.7 L140.6,1333.9 L141.1,1333.1 L141.7,1332.4 L142.2,1331.8 L142.7,1331.3 L143.3,1330.9 L143.8,1330.6 L144.4,1330.3 L144.9,1330.0 L145.4,1329.8 L146.0,1329.5 L146.5,1329.3 L147.1,1329.0 L147.6,1328.6 L148.2,1328.2 L148.7,1327.7 L149.2,1326.8 L149.8,1325.5 L150.3,1323.8 L150.8,1321.9 L151.4,1319.8 L151.9,1317.8 L152.4,1316.0 L152.9,1314.5 L153.5,1313.4 L154.0,1312.8 L154.5,1312.3 L155.0,1311.9 L155.5,1311.6 L156.0,1311.1 L156.5,1310.6 L157.0,1309.8 L157.5,1308.3 L158.0,1305.8 L158.5,1302.6 L159.0,1298.8 L159.6,1294.6 L160.1,1290.4 L160.6,1286.1 L161.1,1281.5 L161.6,1275.9 L162.1,1269.9 L162.6,1263.9 L163.2,1258.3 L163.7,1253.6 L164.2,1250.4 L164.7,1248.1 L165.1,1246.0 L165.6,1244.3 L166.1,1243.1 L166.6,1242.7 L167.0,1243.0 L167.5,1243.8 L168.0,1245.1 L168.5,1246.5 L169.0,1248.1 L169.4,1250.3 L169.9,1253.7 L170.4,1257.5 L170.9,1261.0 L171.3,1263.6 L171.8,1264.6 L172.3,1263.9 L172.8,1262.1 L173.3,1259.5 L173.8,1256.4 L174.3,1253.3 L174.8,1250.4 L175.3,1247.1 L175.8,1243.5 L176.4,1239.6 L176.9,1235.7 L177.5,1232.1 L178.0,1228.9 L178.5,1226.5 L179.0,1224.7 L179.5,1223.1 L179.9,1221.8 L180.4,1221.3 L180.9,1222.0 L181.3,1223.6 L181.8,1225.9 L182.3,1228.6 L182.7,1231.3 L183.2,1234.9 L183.7,1239.9 L184.2,1245.2 L184.6,1250.2 L185.1,1253.8 L185.6,1255.2 L186.0,1254.5 L186.5,1252.7 L187.0,1250.3 L187.4,1247.7 L187.9,1245.6 L188.4,1243.4 L188.8,1241.1 L189.3,1239.2 L189.8,1238.5 L190.3,1238.9 L190.8,1240.2 L191.3,1241.9 L191.8,1243.8 L192.3,1245.6 L192.8,1247.7 L193.3,1250.2 L193.9,1252.6 L194.4,1254.5 L194.9,1255.2 L195.5,1254.9 L196.0,1254.0 L196.5,1252.8 L197.1,1251.2 L197.6,1249.4 L198.2,1247.5 L198.7,1245.6 L199.2,1243.6 L199.7,1241.3 L200.2,1238.7 L200.7,1235.8 L201.2,1232.8 L201.7,1229.7 L202.3,1226.5 L202.7,1222.9 L203.2,1218.3 L203.7,1213.6 L204.2,1209.4 L204.6,1206.3 L205.1,1205.2 L205.6,1205.8 L206.1,1207.3 L206.6,1209.6 L207.0,1212.3 L207.5,1217.1 L208.0,1224.7 L208.5,1233.9 L209.0,1242.9 L209.4,1250.4 L209.9,1257.0 L210.5,1263.5 L211.0,1269.7 L211.5,1275.5 L212.0,1280.7 L212.5,1285.0 L213.0,1288.4 L213.5,1291.3 L214.1,1294.0 L214.6,1296.4 L215.1,1298.6 L215.7,1300.6 L216.2,1302.5 L216.7,1304.2 L217.3,1305.7 L217.8,1307.2 L218.3,1308.5 L218.9,1309.8 L219.4,1311.0 L220.0,1312.2 L220.5,1313.2 L221.1,1314.2 L221.6,1315.2 L222.2,1316.1 L222.7,1316.9 L223.3,1317.7 L223.9,1318.5 L224.4,1319.3 L225.0,1320.1 L225.5,1320.9 L226.1,1321.7 L226.6,1322.5 L227.2,1323.3 L227.7,1324.1 L228.3,1324.9 L228.8,1325.7 L229.4,1326.5 L229.9,1327.2 L230.5,1327.9 L231.0,1328.7 L231.6,1329.4 L232.1,1330.0 L232.7,1330.7 L233.2,1331.3 L233.8,1332.0 L234.3,1332.6 L234.9,1333.3 L235.4,1334.0 L236.0,1334.6 L236.5,1335.3 L237.1,1335.9 L237.7,1336.4 L238.2,1337.0 L238.8,1337.4 L239.3,1337.9 L239.9,1338.2 L240.4,1338.4 L241.0,1338.6 L241.5,1338.8 L242.0,1338.9 L242.5,1339.0 L243.0,1339.2 L243.6,1339.3 L244.1,1339.4 L244.6,1339.5 L245.1,1339.6 Z" fill="#999" stroke="#868686" stroke-width="0.7" stroke-linejoin="round"/>
<path d="M68.4,1339.6H73.0 M68.4,1301.1H73.0 M68.4,1262.7H73.0 M68.4,1224.2H73.0 M68.4,1185.8H73.0 M68.4,1147.3H73.0" stroke="#111" stroke-width="1.5" fill="none"/>
<path d="M70.6,1330.0H73.0 M70.6,1320.4H73.0 M70.6,1310.8H73.0 M70.6,1291.5H73.0 M70.6,1281.9H73.0 M70.6,1272.3H73.0 M70.6,1253.1H73.0 M70.6,1243.4H73.0 M70.6,1233.8H73.0 M70.6,1214.6H73.0 M70.6,1205.0H73.0 M70.6,1195.4H73.0 M70.6,1176.1H73.0 M70.6,1166.5H73.0 M70.6,1156.9H73.0" stroke="#555" stroke-width="0.9" fill="none"/>
<line x1="68.4" y1="1339.6" x2="276.0" y2="1339.6" stroke="#111" stroke-width="1.5"/>
<path d="M73.0,1339.6v5 M119.9,1339.6v5 M166.8,1339.6v5 M213.7,1339.6v5 M260.6,1339.6v5" stroke="#111" stroke-width="1.6" fill="none"/>
<path d="M87.1,1339.6v2.8 M95.4,1339.6v2.8 M101.2,1339.6v2.8 M105.8,1339.6v2.8 M109.5,1339.6v2.8 M112.6,1339.6v2.8 M115.4,1339.6v2.8 M117.8,1339.6v2.8 M134.0,1339.6v2.8 M142.3,1339.6v2.8 M148.1,1339.6v2.8 M152.7,1339.6v2.8 M156.4,1339.6v2.8 M159.5,1339.6v2.8 M162.3,1339.6v2.8 M164.7,1339.6v2.8 M180.9,1339.6v2.8 M189.2,1339.6v2.8 M195.0,1339.6v2.8 M199.6,1339.6v2.8 M203.3,1339.6v2.8 M206.4,1339.6v2.8 M209.2,1339.6v2.8 M211.6,1339.6v2.8 M227.8,1339.6v2.8 M236.1,1339.6v2.8 M241.9,1339.6v2.8 M246.5,1339.6v2.8 M250.2,1339.6v2.8 M253.3,1339.6v2.8 M256.1,1339.6v2.8 M258.5,1339.6v2.8 M274.7,1339.6v2.8" stroke="#222" stroke-width="1.0" fill="none"/>
<path d="M73.0,1339.6 H171.3 L171.3,1339.6 L171.9,1339.6 L172.4,1339.6 L173.0,1339.6 L173.6,1339.5 L174.1,1339.5 L174.7,1339.5 L175.2,1339.5 L175.8,1339.5 L176.4,1339.5 L176.9,1339.5 L177.5,1339.4 L178.1,1339.4 L178.6,1339.4 L179.2,1339.4 L179.7,1339.4 L180.3,1339.4 L180.9,1339.4 L181.4,1339.4 L182.0,1339.3 L182.6,1339.3 L183.1,1339.3 L183.7,1339.3 L184.2,1339.3 L184.8,1339.3 L185.4,1339.3 L185.9,1339.3 L186.5,1339.2 L187.1,1339.2 L187.6,1339.2 L188.2,1339.2 L188.7,1339.2 L189.3,1339.2 L189.9,1339.2 L190.4,1339.1 L191.0,1339.1 L191.6,1339.1 L192.1,1339.1 L192.7,1339.1 L193.3,1339.1 L193.8,1339.1 L194.4,1339.0 L194.9,1339.0 L195.5,1339.0 L196.1,1339.0 L196.6,1339.0 L197.2,1339.0 L197.8,1339.0 L198.3,1338.9 L198.9,1338.9 L199.4,1338.9 L200.0,1338.9 L200.6,1338.9 L201.1,1338.9 L201.7,1338.8 L202.3,1338.8 L202.8,1338.8 L203.3,1338.8 L203.9,1338.8 L204.4,1338.8 L205.0,1338.8 L205.5,1338.8 L206.0,1338.8 L206.6,1338.7 L207.1,1338.7 L207.7,1338.7 L208.2,1338.7 L208.8,1338.7 L209.3,1338.7 L209.8,1338.7 L210.4,1338.6 L210.9,1338.6 L211.5,1338.6 L212.0,1338.6 L212.5,1338.6 L213.1,1338.5 L213.6,1338.5 L214.2,1338.4 L214.7,1338.3 L215.2,1337.9 L215.7,1337.4 L216.2,1336.7 L216.7,1335.8 L217.2,1334.8 L217.7,1333.6 L218.2,1331.9 L218.7,1329.0 L219.2,1325.4 L219.6,1321.2 L220.1,1316.9 L220.6,1311.9 L221.1,1305.9 L221.6,1299.4 L222.0,1292.6 L222.5,1286.1 L223.0,1279.4 L223.5,1272.7 L224.1,1265.9 L224.6,1259.2 L225.1,1252.4 L225.6,1245.6 L226.1,1239.2 L226.6,1232.6 L227.0,1226.1 L227.5,1219.6 L228.0,1213.4 L228.5,1207.5 L229.0,1201.6 L229.4,1195.7 L229.9,1190.2 L230.4,1185.2 L230.9,1181.3 L231.3,1178.1 L231.8,1175.0 L232.3,1172.7 L232.7,1171.7 L233.2,1171.5 L233.7,1171.4 L234.2,1171.3 L234.7,1173.0 L235.1,1177.0 L235.6,1181.3 L236.1,1186.3 L236.6,1192.4 L237.0,1198.2 L237.5,1202.7 L238.0,1205.7 L238.5,1208.3 L239.0,1210.5 L239.4,1212.6 L239.9,1214.7 L240.4,1217.1 L240.9,1219.8 L241.3,1222.7 L241.8,1225.7 L242.3,1228.6 L242.8,1231.3 L243.2,1234.0 L243.7,1236.7 L244.2,1239.3 L244.7,1241.6 L245.1,1243.3 L245.6,1244.4 L246.1,1245.3 L246.5,1246.0 L247.0,1246.9 L247.5,1248.1 L248.0,1250.0 L248.4,1252.6 L248.9,1255.8 L249.4,1259.1 L249.9,1262.3 L250.4,1265.4 L250.8,1268.8 L251.3,1272.3 L251.8,1275.6 L252.3,1278.8 L252.7,1281.8 L253.2,1284.6 L253.7,1287.3 L254.2,1290.2 L254.6,1293.3 L255.1,1296.8 L255.6,1300.6 L256.1,1304.6 L256.6,1308.6 L257.0,1312.3 L257.5,1315.9 L258.0,1319.6 L258.5,1323.1 L258.9,1326.2 L259.4,1328.8 L259.9,1331.0 L260.4,1333.0 L260.8,1334.8 L261.3,1336.2 L261.8,1337.3 L262.3,1338.0 L262.7,1338.6 L263.2,1339.1 L263.7,1339.6 L276.0,1339.6" fill="none" stroke="#1a1a1a" stroke-width="1.4" stroke-linejoin="round"/>
<path d="M73.0,1339.6 H185.6 L185.6,1339.6 L186.1,1339.4 L186.6,1339.1 L187.1,1338.9 L187.6,1338.7 L188.2,1338.5 L188.7,1338.3 L189.2,1338.0 L189.7,1337.7 L190.2,1337.3 L190.8,1336.7 L191.3,1335.9 L191.9,1334.9 L192.4,1333.7 L192.9,1332.2 L193.5,1330.6 L194.0,1328.8 L194.5,1326.6 L195.0,1323.7 L195.5,1320.2 L196.0,1316.2 L196.5,1311.9 L197.1,1307.5 L197.5,1302.9 L198.0,1297.6 L198.5,1291.9 L199.0,1286.0 L199.4,1280.0 L199.9,1274.2 L200.4,1268.4 L200.8,1262.3 L201.3,1256.2 L201.8,1250.3 L202.3,1245.1 L202.7,1240.8 L203.2,1236.8 L203.7,1232.9 L204.2,1229.4 L204.6,1227.1 L205.1,1226.1 L205.6,1226.7 L206.1,1228.1 L206.6,1230.3 L207.0,1233.1 L207.5,1236.1 L208.0,1241.1 L208.5,1248.9 L208.9,1257.9 L209.4,1266.8 L209.9,1274.2 L210.4,1280.9 L210.9,1287.5 L211.4,1293.6 L212.0,1299.2 L212.5,1303.9 L213.0,1307.5 L213.5,1310.3 L214.0,1312.9 L214.5,1315.1 L215.0,1317.0 L215.5,1318.5 L216.0,1319.4 L216.5,1320.0 L217.0,1320.6 L217.5,1321.0 L217.9,1321.4 L218.4,1321.6 L218.9,1321.7 L219.3,1321.0 L219.8,1319.2 L220.3,1316.8 L220.8,1314.3 L221.3,1312.3 L221.8,1310.5 L222.3,1308.6 L222.7,1306.9 L223.2,1305.7 L223.7,1305.2 L224.2,1305.2 L224.7,1305.2 L225.1,1305.2 L225.6,1305.2 L226.1,1305.8 L226.6,1307.6 L227.0,1309.9 L227.5,1312.4 L228.0,1314.6 L228.5,1316.7 L229.0,1319.0 L229.4,1321.3 L229.9,1323.5 L230.4,1325.3 L230.9,1326.5 L231.4,1327.4 L231.9,1328.2 L232.4,1328.9 L232.8,1329.5 L233.3,1330.0 L233.8,1330.4 L234.3,1330.8 L234.9,1331.1 L235.4,1331.3 L235.9,1331.5 L236.4,1331.7 L236.9,1331.9 L237.5,1332.2 L238.0,1332.5 L238.5,1332.9 L239.1,1333.5 L239.6,1334.1 L240.1,1334.8 L240.7,1335.5 L241.2,1336.2 L241.7,1336.9 L242.2,1337.4 L242.8,1337.9 L243.3,1338.2 L243.8,1338.5 L244.3,1338.7 L244.8,1338.9 L245.3,1339.1 L245.8,1339.4 L246.3,1339.6 L276.0,1339.6" fill="none" stroke="#ee2a24" stroke-width="1.3" stroke-linejoin="round"/>
<path d="M73.0,1339.6 H152.3 L152.3,1339.6 L152.8,1339.4 L153.3,1339.3 L153.9,1339.1 L154.4,1339.0 L155.0,1338.8 L155.5,1338.7 L156.0,1338.6 L156.6,1338.4 L157.1,1338.2 L157.7,1338.0 L158.2,1337.8 L158.8,1337.6 L159.3,1337.3 L159.9,1336.9 L160.4,1336.5 L161.0,1336.0 L161.5,1335.4 L162.1,1334.7 L162.7,1333.9 L163.2,1333.0 L163.8,1332.1 L164.3,1331.1 L164.9,1330.0 L165.4,1328.9 L166.0,1327.7 L166.6,1326.5 L167.1,1325.2 L167.6,1323.5 L168.1,1321.6 L168.7,1319.4 L169.2,1317.2 L169.7,1314.8 L170.2,1312.3 L170.8,1309.9 L171.3,1307.5 L171.8,1305.0 L172.4,1302.3 L172.9,1299.6 L173.4,1296.7 L174.0,1293.9 L174.5,1291.1 L175.0,1288.4 L175.6,1285.9 L176.1,1283.6 L176.6,1281.6 L177.1,1279.6 L177.6,1277.7 L178.1,1275.9 L178.6,1274.3 L179.1,1272.9 L179.7,1271.7 L180.1,1270.8 L180.6,1269.8 L181.1,1269.0 L181.6,1268.5 L182.0,1268.3 L182.5,1269.4 L183.0,1272.4 L183.5,1276.3 L184.0,1280.3 L184.4,1283.6 L184.9,1286.6 L185.4,1289.8 L185.8,1292.3 L186.3,1293.3 L186.8,1292.1 L187.4,1289.3 L187.9,1285.4 L188.5,1281.3 L188.9,1276.9 L189.4,1271.2 L189.9,1265.1 L190.4,1259.5 L190.9,1255.2 L191.3,1251.9 L191.8,1248.6 L192.3,1245.9 L192.7,1244.0 L193.2,1243.3 L193.7,1243.9 L194.2,1245.5 L194.6,1247.8 L195.1,1250.4 L195.6,1254.2 L196.1,1259.9 L196.6,1266.0 L197.0,1271.2 L197.5,1274.2 L198.0,1275.6 L198.5,1276.7 L198.9,1277.4 L199.4,1277.7 L199.9,1275.9 L200.4,1271.2 L200.8,1264.8 L201.3,1257.4 L201.8,1250.4 L202.3,1241.5 L202.8,1231.0 L203.3,1221.2 L203.9,1214.6 L204.3,1210.8 L204.8,1207.6 L205.3,1205.3 L205.8,1204.4 L206.3,1205.5 L206.8,1208.4 L207.3,1212.5 L207.7,1217.1 L208.2,1223.6 L208.7,1232.9 L209.2,1243.4 L209.7,1253.7 L210.1,1262.3 L210.6,1269.5 L211.1,1276.4 L211.6,1283.0 L212.0,1288.9 L212.5,1293.9 L213.0,1297.9 L213.5,1301.2 L214.0,1304.1 L214.5,1306.7 L215.0,1308.9 L215.5,1311.0 L216.0,1312.9 L216.5,1314.6 L217.0,1316.3 L217.6,1317.9 L218.1,1319.4 L218.6,1320.8 L219.1,1322.1 L219.6,1323.4 L220.2,1324.5 L220.7,1325.5 L221.2,1326.5 L221.8,1327.5 L222.3,1328.5 L222.9,1329.4 L223.4,1330.2 L224.0,1331.1 L224.5,1331.8 L225.1,1332.6 L225.6,1333.2 L226.2,1333.8 L226.7,1334.3 L227.3,1334.8 L227.9,1335.2 L228.4,1335.6 L229.0,1335.9 L229.5,1336.3 L230.1,1336.6 L230.6,1336.9 L231.2,1337.2 L231.7,1337.5 L232.3,1337.7 L232.8,1338.0 L233.4,1338.2 L233.9,1338.4 L234.5,1338.5 L235.0,1338.7 L235.6,1338.8 L236.1,1338.9 L236.7,1339.0 L237.2,1339.1 L237.7,1339.2 L238.3,1339.3 L238.8,1339.4 L239.4,1339.4 L239.9,1339.5 L240.4,1339.6 L276.0,1339.6" fill="none" stroke="#62bb46" stroke-width="1.4" stroke-linejoin="round"/>
<g font-size="6.3" fill="#222" class="tk">
<text x="64.8" y="1339.2" text-anchor="end">0</text>
<text x="64.8" y="1303.3" text-anchor="end">20</text>
<text x="64.8" y="1264.9" text-anchor="end">40</text>
<text x="64.8" y="1226.4" text-anchor="end">60</text>
<text x="64.8" y="1188.0" text-anchor="end">80</text>
<text x="64.8" y="1149.5" text-anchor="end">100</text>
<text x="75.8" y="1355.2">10<tspan dy="-3.6" dx="0.3" font-size="6.2">0</tspan></text>
<text x="122.7" y="1355.2">10<tspan dy="-3.6" dx="0.3" font-size="6.2">1</tspan></text>
<text x="169.6" y="1355.2">10<tspan dy="-3.6" dx="0.3" font-size="6.2">2</tspan></text>
<text x="216.5" y="1355.2">10<tspan dy="-3.6" dx="0.3" font-size="6.2">3</tspan></text>
<text x="261.6" y="1355.2">10<tspan dy="-3.6" dx="0.3" font-size="6.2">4</tspan></text>
</g>
</g>
<g>
<path d="M314.5,1340.0 V1137.3 H517.7 V1340.0" fill="none" stroke="#8c8c8c" stroke-width="1"/>
<path d="M366.2,1340.0 L366.7,1339.7 L367.3,1339.4 L367.8,1339.2 L368.4,1339.0 L368.9,1338.7 L369.5,1338.5 L370.0,1338.2 L370.5,1338.0 L371.1,1337.7 L371.6,1337.3 L372.2,1336.9 L372.7,1336.5 L373.2,1336.0 L373.8,1335.3 L374.3,1334.3 L374.8,1333.0 L375.3,1331.5 L375.9,1329.8 L376.4,1327.9 L376.9,1325.9 L377.4,1323.8 L377.9,1321.7 L378.5,1319.3 L379.0,1316.5 L379.6,1313.4 L380.1,1310.0 L380.6,1306.2 L381.2,1302.2 L381.7,1297.8 L382.2,1293.1 L382.7,1287.7 L383.2,1281.6 L383.7,1275.1 L384.2,1268.4 L384.7,1261.7 L385.2,1255.2 L385.7,1248.5 L386.1,1241.2 L386.6,1233.7 L387.1,1226.8 L387.6,1221.0 L388.1,1217.1 L388.5,1214.3 L389.0,1211.8 L389.5,1210.0 L389.9,1209.3 L390.4,1210.2 L390.9,1212.1 L391.4,1214.3 L391.9,1216.3 L392.3,1217.1 L392.8,1216.1 L393.3,1213.7 L393.7,1210.3 L394.2,1206.5 L394.7,1202.8 L395.2,1198.5 L395.6,1193.2 L396.1,1187.6 L396.6,1182.1 L397.1,1177.5 L397.5,1174.3 L398.0,1172.0 L398.5,1169.9 L399.0,1168.2 L399.5,1167.0 L399.9,1166.6 L400.4,1167.2 L400.9,1169.1 L401.4,1171.8 L401.8,1175.1 L402.3,1178.9 L402.8,1185.0 L403.3,1194.3 L403.8,1205.2 L404.3,1216.5 L404.7,1226.5 L405.2,1235.9 L405.7,1246.0 L406.1,1255.4 L406.6,1262.9 L407.1,1267.0 L407.6,1268.8 L408.0,1270.1 L408.5,1270.6 L409.0,1266.3 L409.6,1257.4 L410.1,1250.4 L410.7,1246.4 L411.2,1243.2 L411.8,1241.9 L412.3,1242.7 L412.7,1244.6 L413.2,1247.3 L413.7,1250.4 L414.2,1254.9 L414.6,1261.3 L415.1,1268.5 L415.6,1275.5 L416.1,1281.2 L416.6,1286.1 L417.1,1291.0 L417.6,1295.3 L418.0,1298.6 L418.5,1300.3 L419.0,1301.0 L419.5,1301.7 L420.1,1302.2 L420.6,1302.6 L421.1,1302.9 L421.6,1303.1 L422.1,1303.2 L422.6,1303.2 L423.1,1303.2 L423.6,1303.2 L424.1,1303.2 L424.6,1303.2 L425.1,1303.2 L425.6,1303.5 L426.1,1304.5 L426.6,1305.8 L427.0,1307.2 L427.5,1308.6 L428.0,1309.7 L428.5,1310.7 L429.0,1311.7 L429.5,1312.6 L430.0,1313.5 L430.5,1314.3 L431.0,1315.0 L431.5,1315.7 L432.0,1316.3 L432.6,1316.9 L433.1,1317.3 L433.6,1317.8 L434.1,1318.3 L434.6,1318.8 L435.1,1319.4 L435.7,1320.2 L436.2,1321.2 L436.7,1322.3 L437.2,1323.4 L437.7,1324.3 L438.2,1324.9 L438.7,1325.2 L439.2,1325.1 L439.8,1324.9 L440.3,1324.7 L440.8,1324.3 L441.4,1324.0 L441.9,1323.6 L442.4,1323.3 L442.9,1323.0 L443.5,1322.8 L444.0,1322.7 L444.5,1322.5 L445.1,1322.4 L445.6,1322.3 L446.2,1322.1 L446.7,1322.0 L447.2,1321.9 L447.8,1321.8 L448.3,1321.7 L448.9,1321.7 L449.4,1321.7 L449.9,1321.9 L450.5,1322.3 L451.0,1322.9 L451.5,1323.7 L452.1,1324.6 L452.6,1325.5 L453.1,1326.4 L453.7,1327.1 L454.2,1327.7 L454.7,1328.1 L455.2,1328.6 L455.8,1329.1 L456.3,1329.5 L456.8,1329.9 L457.3,1330.3 L457.9,1330.5 L458.4,1330.7 L458.9,1330.8 L459.5,1330.7 L460.0,1330.4 L460.5,1330.0 L461.1,1329.6 L461.6,1329.0 L462.1,1328.4 L462.7,1327.8 L463.2,1327.1 L463.7,1326.5 L464.3,1325.9 L464.8,1325.1 L465.3,1324.3 L465.8,1323.4 L466.4,1322.6 L466.9,1321.7 L467.4,1320.8 L467.9,1320.1 L468.5,1319.4 L469.0,1318.7 L469.4,1318.1 L469.9,1317.5 L470.4,1317.0 L470.9,1316.9 L471.3,1317.2 L471.8,1318.1 L472.3,1319.3 L472.7,1320.6 L473.2,1321.7 L473.7,1322.8 L474.3,1324.0 L474.8,1325.1 L475.3,1326.3 L475.9,1327.5 L476.4,1328.5 L476.9,1329.5 L477.4,1330.4 L478.0,1331.1 L478.5,1331.8 L479.1,1332.4 L479.6,1333.0 L480.2,1333.5 L480.7,1334.0 L481.3,1334.5 L481.8,1334.9 L482.4,1335.4 L482.9,1335.7 L483.5,1336.1 L484.0,1336.5 L484.6,1336.8 L485.1,1337.1 L485.7,1337.4 L486.2,1337.7 L486.7,1337.9 L487.3,1338.1 L487.8,1338.4 L488.4,1338.6 L488.9,1338.8 L489.4,1339.0 L490.0,1339.2 L490.5,1339.4 L491.1,1339.6 L491.6,1339.8 L492.2,1340.0 Z" fill="#999" stroke="#868686" stroke-width="0.7" stroke-linejoin="round"/>
<path d="M309.9,1340.0H314.5 M309.9,1301.5H314.5 M309.9,1262.9H314.5 M309.9,1224.4H314.5 M309.9,1185.8H314.5 M309.9,1147.3H314.5" stroke="#111" stroke-width="1.5" fill="none"/>
<path d="M312.1,1330.4H314.5 M312.1,1320.7H314.5 M312.1,1311.1H314.5 M312.1,1291.8H314.5 M312.1,1282.2H314.5 M312.1,1272.6H314.5 M312.1,1253.3H314.5 M312.1,1243.7H314.5 M312.1,1234.0H314.5 M312.1,1214.7H314.5 M312.1,1205.1H314.5 M312.1,1195.5H314.5 M312.1,1176.2H314.5 M312.1,1166.6H314.5 M312.1,1156.9H314.5" stroke="#555" stroke-width="0.9" fill="none"/>
<line x1="309.9" y1="1340.0" x2="517.7" y2="1340.0" stroke="#111" stroke-width="1.5"/>
<path d="M314.5,1340.0v5 M361.5,1340.0v5 M408.5,1340.0v5 M455.5,1340.0v5 M502.5,1340.0v5" stroke="#111" stroke-width="1.6" fill="none"/>
<path d="M328.6,1340.0v2.8 M336.9,1340.0v2.8 M342.8,1340.0v2.8 M347.4,1340.0v2.8 M351.1,1340.0v2.8 M354.2,1340.0v2.8 M356.9,1340.0v2.8 M359.3,1340.0v2.8 M375.6,1340.0v2.8 M383.9,1340.0v2.8 M389.8,1340.0v2.8 M394.4,1340.0v2.8 M398.1,1340.0v2.8 M401.2,1340.0v2.8 M403.9,1340.0v2.8 M406.3,1340.0v2.8 M422.6,1340.0v2.8 M430.9,1340.0v2.8 M436.8,1340.0v2.8 M441.4,1340.0v2.8 M445.1,1340.0v2.8 M448.2,1340.0v2.8 M450.9,1340.0v2.8 M453.3,1340.0v2.8 M469.6,1340.0v2.8 M477.9,1340.0v2.8 M483.8,1340.0v2.8 M488.4,1340.0v2.8 M492.1,1340.0v2.8 M495.2,1340.0v2.8 M497.9,1340.0v2.8 M500.3,1340.0v2.8 M516.6,1340.0v2.8" stroke="#222" stroke-width="1.0" fill="none"/>
<path d="M314.5,1340.0 H418.5 L418.5,1340.0 L419.1,1340.0 L419.6,1340.0 L420.2,1340.0 L420.8,1340.0 L421.3,1340.0 L421.9,1340.0 L422.4,1340.0 L423.0,1340.0 L423.6,1340.0 L424.1,1340.0 L424.7,1340.0 L425.3,1340.0 L425.8,1340.0 L426.4,1340.0 L427.0,1340.0 L427.5,1340.0 L428.1,1340.0 L428.6,1340.0 L429.2,1340.0 L429.8,1340.0 L430.3,1340.0 L430.9,1340.0 L431.5,1340.0 L432.0,1340.0 L432.6,1340.0 L433.1,1340.0 L433.7,1340.0 L434.3,1340.0 L434.8,1340.0 L435.4,1340.0 L436.0,1340.0 L436.5,1340.0 L437.1,1340.0 L437.6,1340.0 L438.2,1340.0 L438.7,1339.9 L439.3,1339.9 L439.8,1339.8 L440.4,1339.7 L440.9,1339.6 L441.4,1339.4 L442.0,1339.3 L442.5,1339.1 L443.1,1338.9 L443.6,1338.7 L444.1,1338.5 L444.7,1338.3 L445.2,1338.0 L445.7,1337.7 L446.3,1337.2 L446.8,1336.8 L447.3,1336.2 L447.8,1335.6 L448.3,1335.0 L448.9,1334.3 L449.4,1333.6 L449.9,1332.9 L450.4,1332.0 L450.9,1331.1 L451.5,1330.0 L452.0,1328.9 L452.5,1327.7 L453.0,1326.5 L453.5,1325.1 L454.0,1323.5 L454.6,1321.7 L455.1,1319.9 L455.6,1318.3 L456.1,1316.9 L456.6,1315.6 L457.1,1314.3 L457.5,1313.1 L458.0,1312.1 L458.5,1311.4 L458.9,1311.1 L459.4,1311.2 L459.9,1311.5 L460.4,1311.8 L460.8,1312.1 L461.3,1312.3 L461.8,1312.1 L462.3,1311.7 L462.8,1311.2 L463.2,1310.5 L463.7,1309.7 L464.2,1308.7 L464.7,1307.2 L465.1,1305.3 L465.6,1303.1 L466.1,1300.5 L466.5,1297.8 L467.0,1294.4 L467.5,1290.1 L468.0,1285.2 L468.5,1279.7 L468.9,1274.1 L469.4,1267.9 L469.9,1260.9 L470.4,1253.4 L470.9,1245.9 L471.3,1238.4 L471.8,1231.0 L472.3,1223.3 L472.7,1215.7 L473.2,1208.7 L473.7,1202.8 L474.2,1197.5 L474.7,1192.7 L475.1,1188.7 L475.6,1186.0 L476.0,1184.6 L476.4,1183.6 L476.8,1183.1 L477.2,1184.1 L477.6,1186.5 L478.1,1189.8 L478.5,1193.2 L479.0,1197.6 L479.4,1203.0 L479.9,1208.9 L480.4,1214.7 L480.9,1220.3 L481.4,1226.1 L481.8,1231.9 L482.3,1237.7 L482.8,1243.3 L483.2,1248.7 L483.7,1254.2 L484.2,1259.5 L484.6,1264.5 L485.1,1269.3 L485.6,1273.8 L486.0,1278.1 L486.5,1282.3 L487.0,1286.3 L487.5,1289.9 L487.9,1293.2 L488.5,1296.4 L489.0,1299.5 L489.5,1302.2 L490.0,1304.8 L490.6,1307.3 L491.1,1309.7 L491.6,1312.0 L492.1,1314.3 L492.6,1316.4 L493.1,1318.5 L493.6,1320.5 L494.1,1322.3 L494.7,1324.0 L495.2,1325.6 L495.7,1327.2 L496.2,1328.8 L496.7,1330.2 L497.2,1331.5 L497.7,1332.7 L498.2,1333.6 L498.7,1334.5 L499.2,1335.3 L499.8,1336.0 L500.3,1336.6 L500.8,1337.2 L501.3,1337.8 L501.8,1338.3 L502.3,1338.7 L502.7,1339.0 L503.2,1339.3 L503.7,1339.7 L504.1,1340.0 L517.7,1340.0" fill="none" stroke="#1a1a1a" stroke-width="1.4" stroke-linejoin="round"/>
<path d="M314.5,1340.0 H418.5 L418.5,1340.0 L419.1,1339.9 L419.6,1339.7 L420.2,1339.6 L420.7,1339.4 L421.3,1339.3 L421.8,1339.1 L422.4,1339.0 L422.9,1338.8 L423.5,1338.7 L424.1,1338.6 L424.6,1338.5 L425.2,1338.4 L425.7,1338.3 L426.3,1338.3 L426.8,1338.3 L427.4,1338.3 L427.9,1338.3 L428.4,1338.3 L429.0,1338.3 L429.5,1338.3 L430.1,1338.3 L430.6,1338.3 L431.1,1338.3 L431.7,1338.3 L432.2,1338.3 L432.8,1338.3 L433.3,1338.1 L433.8,1337.5 L434.3,1336.6 L434.8,1335.4 L435.3,1334.1 L435.8,1332.6 L436.3,1331.1 L436.8,1329.5 L437.3,1327.5 L437.8,1325.2 L438.2,1322.5 L438.7,1319.4 L439.2,1315.6 L439.7,1310.7 L440.2,1305.2 L440.6,1299.3 L441.1,1293.2 L441.6,1286.6 L442.1,1279.2 L442.5,1271.5 L443.0,1264.1 L443.5,1257.5 L443.9,1251.2 L444.4,1244.9 L444.9,1239.2 L445.4,1234.4 L445.9,1231.3 L446.4,1229.0 L447.0,1227.2 L447.5,1226.5 L448.0,1226.7 L448.5,1227.2 L448.9,1227.9 L449.4,1228.8 L449.9,1230.2 L450.3,1232.3 L450.8,1234.9 L451.3,1237.8 L451.7,1240.8 L452.2,1244.1 L452.7,1247.9 L453.2,1252.0 L453.7,1256.0 L454.2,1259.8 L454.7,1263.5 L455.1,1267.2 L455.6,1270.8 L456.1,1273.9 L456.6,1276.4 L457.1,1278.5 L457.6,1280.5 L458.1,1282.3 L458.6,1283.9 L459.2,1285.3 L459.7,1286.4 L460.2,1287.2 L460.7,1287.9 L461.2,1288.5 L461.7,1289.1 L462.2,1289.6 L462.7,1289.9 L463.2,1290.2 L463.7,1290.3 L464.2,1290.2 L464.7,1289.8 L465.2,1289.3 L465.7,1288.6 L466.2,1287.8 L466.7,1286.9 L467.2,1286.0 L467.8,1284.8 L468.3,1282.9 L468.8,1280.8 L469.3,1278.6 L469.8,1276.7 L470.4,1275.3 L470.8,1274.2 L471.3,1273.1 L471.8,1272.2 L472.3,1271.4 L472.7,1270.8 L473.2,1270.6 L473.7,1271.0 L474.2,1271.8 L474.7,1273.1 L475.1,1274.7 L475.6,1276.4 L476.1,1278.7 L476.6,1282.0 L477.0,1285.7 L477.5,1289.6 L478.0,1293.2 L478.5,1296.7 L478.9,1300.2 L479.4,1303.7 L479.9,1306.9 L480.4,1309.7 L480.9,1312.1 L481.4,1314.3 L481.8,1316.4 L482.3,1318.3 L482.8,1320.1 L483.2,1321.7 L483.7,1323.4 L484.3,1324.9 L484.8,1326.4 L485.3,1327.8 L485.8,1329.0 L486.3,1330.0 L486.9,1330.9 L487.4,1331.7 L487.9,1332.5 L488.4,1333.2 L489.0,1333.8 L489.5,1334.4 L490.0,1335.0 L490.6,1335.5 L491.1,1336.0 L491.6,1336.4 L492.2,1336.8 L492.7,1337.3 L493.2,1337.7 L493.8,1338.0 L494.3,1338.4 L494.9,1338.7 L495.4,1339.0 L496.0,1339.3 L496.5,1339.5 L497.0,1339.6 L497.5,1339.7 L498.0,1339.8 L498.5,1339.9 L498.9,1339.9 L499.4,1340.0 L517.7,1340.0" fill="none" stroke="#ee2a24" stroke-width="1.3" stroke-linejoin="round"/>
<path d="M314.5,1340.0 H385.0 L385.0,1340.0 L385.6,1339.9 L386.1,1339.8 L386.7,1339.7 L387.2,1339.6 L387.8,1339.6 L388.3,1339.5 L388.9,1339.4 L389.4,1339.3 L390.0,1339.2 L390.5,1339.1 L391.1,1339.1 L391.6,1338.9 L392.2,1338.8 L392.7,1338.7 L393.3,1338.6 L393.8,1338.4 L394.4,1338.3 L395.0,1338.1 L395.5,1337.8 L396.1,1337.5 L396.6,1337.2 L397.2,1336.8 L397.7,1336.4 L398.3,1335.9 L398.8,1335.4 L399.4,1334.9 L400.0,1334.3 L400.5,1333.6 L401.1,1332.9 L401.6,1331.8 L402.1,1330.6 L402.7,1329.2 L403.2,1327.7 L403.8,1326.2 L404.3,1324.7 L404.9,1323.1 L405.4,1321.7 L405.9,1320.3 L406.4,1318.8 L406.9,1317.3 L407.4,1315.8 L407.9,1314.4 L408.5,1313.2 L409.0,1312.3 L409.5,1311.5 L410.0,1310.8 L410.5,1310.1 L411.0,1309.5 L411.5,1309.0 L412.0,1308.7 L412.5,1308.6 L413.1,1308.6 L413.6,1308.6 L414.1,1308.6 L414.6,1308.6 L415.1,1308.6 L415.6,1308.6 L416.1,1308.6 L416.6,1308.2 L417.1,1307.1 L417.5,1305.4 L418.0,1303.2 L418.5,1300.6 L419.0,1297.8 L419.5,1293.6 L419.9,1287.5 L420.4,1280.6 L420.9,1274.1 L421.3,1267.5 L421.8,1260.4 L422.3,1254.3 L422.8,1250.4 L423.3,1248.2 L423.7,1246.6 L424.2,1246.0 L424.7,1247.1 L425.2,1249.7 L425.7,1252.7 L426.1,1256.4 L426.6,1261.2 L427.1,1266.3 L427.5,1270.8 L428.0,1274.1 L428.5,1276.2 L429.0,1278.1 L429.4,1279.6 L429.9,1281.0 L430.4,1282.3 L430.9,1283.5 L431.4,1284.9 L431.9,1286.3 L432.4,1287.7 L432.9,1288.8 L433.4,1289.7 L433.9,1290.3 L434.4,1290.6 L434.9,1290.9 L435.3,1291.1 L435.8,1291.2 L436.3,1291.2 L436.8,1291.0 L437.3,1290.2 L437.8,1289.1 L438.2,1287.6 L438.7,1286.0 L439.2,1283.8 L439.7,1280.4 L440.2,1276.2 L440.6,1271.6 L441.1,1267.0 L441.6,1261.9 L442.1,1256.1 L442.5,1250.0 L443.0,1244.0 L443.5,1238.4 L444.0,1231.8 L444.6,1225.5 L445.2,1221.7 L445.6,1220.3 L446.1,1219.4 L446.6,1219.0 L447.0,1219.7 L447.4,1221.5 L447.8,1223.9 L448.3,1226.5 L448.7,1230.1 L449.2,1234.8 L449.7,1240.1 L450.1,1245.5 L450.6,1250.4 L451.1,1255.4 L451.6,1260.5 L452.2,1265.4 L452.7,1270.2 L453.2,1274.7 L453.7,1278.9 L454.2,1282.5 L454.7,1286.0 L455.1,1289.3 L455.6,1292.4 L456.1,1295.2 L456.6,1297.8 L457.1,1300.3 L457.6,1302.7 L458.1,1304.9 L458.6,1307.0 L459.2,1308.9 L459.7,1310.6 L460.2,1312.3 L460.7,1313.8 L461.2,1315.3 L461.7,1316.8 L462.2,1318.1 L462.7,1319.2 L463.2,1320.0 L463.7,1320.5 L464.2,1320.8 L464.7,1321.1 L465.2,1321.3 L465.7,1321.5 L466.2,1321.6 L466.7,1321.7 L467.2,1321.7 L467.7,1321.5 L468.2,1321.0 L468.7,1320.4 L469.1,1320.0 L469.6,1319.8 L470.1,1320.0 L470.6,1320.5 L471.2,1321.3 L471.7,1322.3 L472.2,1323.2 L472.7,1324.0 L473.3,1324.7 L473.8,1325.5 L474.3,1326.4 L474.8,1327.2 L475.3,1328.0 L475.8,1328.7 L476.3,1329.4 L476.8,1330.0 L477.3,1330.5 L477.9,1331.1 L478.4,1331.6 L479.0,1332.0 L479.5,1332.5 L480.0,1332.9 L480.6,1333.3 L481.1,1333.7 L481.7,1334.1 L482.2,1334.4 L482.8,1334.8 L483.3,1335.2 L483.8,1335.5 L484.4,1335.9 L484.9,1336.3 L485.5,1336.6 L486.0,1337.0 L486.6,1337.3 L487.1,1337.6 L487.6,1337.9 L488.2,1338.2 L488.7,1338.4 L489.3,1338.6 L489.8,1338.8 L490.3,1339.0 L490.9,1339.2 L491.4,1339.3 L491.9,1339.4 L492.4,1339.5 L492.9,1339.6 L493.5,1339.8 L494.0,1339.9 L494.5,1340.0 L517.7,1340.0" fill="none" stroke="#62bb46" stroke-width="1.4" stroke-linejoin="round"/>
<g font-size="6.3" fill="#222" class="tk">
<text x="306.3" y="1339.6" text-anchor="end">0</text>
<text x="306.3" y="1303.7" text-anchor="end">20</text>
<text x="306.3" y="1265.1" text-anchor="end">40</text>
<text x="306.3" y="1226.6" text-anchor="end">60</text>
<text x="306.3" y="1188.0" text-anchor="end">80</text>
<text x="306.3" y="1149.5" text-anchor="end">100</text>
<text x="317.3" y="1355.6">10<tspan dy="-3.6" dx="0.3" font-size="6.2">0</tspan></text>
<text x="364.3" y="1355.6">10<tspan dy="-3.6" dx="0.3" font-size="6.2">1</tspan></text>
<text x="411.3" y="1355.6">10<tspan dy="-3.6" dx="0.3" font-size="6.2">2</tspan></text>
<text x="458.3" y="1355.6">10<tspan dy="-3.6" dx="0.3" font-size="6.2">3</tspan></text>
<text x="503.5" y="1355.6">10<tspan dy="-3.6" dx="0.3" font-size="6.2">4</tspan></text>
</g>
<rect x="311.9" y="1134.7" width="5.2" height="5.2" fill="#3a3a3a"/>
<rect x="515.1" y="1134.7" width="5.2" height="5.2" fill="#3a3a3a"/>
<rect x="311.9" y="1337.4" width="5.2" height="5.2" fill="#3a3a3a"/>
<rect x="515.1" y="1337.4" width="5.2" height="5.2" fill="#3a3a3a"/>
</g>
<text transform="translate(35.50 1330.50) rotate(-90)" font-size="19.2" text-anchor="middle">% Max</text>
<line x1="29.70" y1="1275.30" x2="29.70" y2="1153.00" stroke="#000" stroke-width="2.5"/>
<polygon points="29.7,1141.4 23.1,1154.2 36.3,1154.2" fill="#000"/>
<text transform="translate(51.90 1387.20) scale(0.98 1)" font-size="19.2">CFSE</text>
<line x1="127.80" y1="1384.00" x2="507.20" y2="1384.00" stroke="#000" stroke-width="2.4"/>
<polygon points="519.00,1384.00 506.20,1377.70 506.20,1390.30" fill="#000"/>
<line x1="700.60" y1="1150.40" x2="700.60" y2="1170.30" stroke="#ed1c24" stroke-width="2.5"/>
<line x1="688.30" y1="1150.40" x2="712.90" y2="1150.40" stroke="#ed1c24" stroke-width="2.5"/>
<path d="M677.80,1339.30V1171.10H723.40V1339.30" fill="#fff" stroke="#ed1c24" stroke-width="3.6"/>
<line x1="774.25" y1="1259.70" x2="774.25" y2="1285.00" stroke="#62bb46" stroke-width="2.5"/>
<line x1="761.95" y1="1259.70" x2="786.55" y2="1259.70" stroke="#62bb46" stroke-width="2.5"/>
<path d="M751.50,1339.30V1285.80H797.00V1339.30" fill="#fff" stroke="#62bb46" stroke-width="3.6"/>
<line x1="651.80" y1="1122.20" x2="651.80" y2="1340.50" stroke="#000" stroke-width="2.5"/>
<line x1="645.80" y1="1339.30" x2="824.50" y2="1339.30" stroke="#000" stroke-width="2.5"/>
<line x1="645.80" y1="1339.30" x2="651.80" y2="1339.30" stroke="#000" stroke-width="2.5"/>
<text transform="translate(640.80 1347.00) scale(0.955 1)" font-size="20.2" text-anchor="end">0</text>
<line x1="645.80" y1="1267.30" x2="651.80" y2="1267.30" stroke="#000" stroke-width="2.5"/>
<text transform="translate(640.80 1276.00) scale(0.955 1)" font-size="20.2" text-anchor="end">20</text>
<line x1="645.80" y1="1195.30" x2="651.80" y2="1195.30" stroke="#000" stroke-width="2.5"/>
<text transform="translate(640.80 1205.00) scale(0.955 1)" font-size="20.2" text-anchor="end">40</text>
<line x1="645.80" y1="1123.30" x2="651.80" y2="1123.30" stroke="#000" stroke-width="2.5"/>
<text transform="translate(640.80 1134.90) scale(0.955 1)" font-size="20.2" text-anchor="end">60</text>
<line x1="700.30" y1="1339.30" x2="700.30" y2="1345.50" stroke="#000" stroke-width="2.5"/>
<line x1="774.50" y1="1339.30" x2="774.50" y2="1345.50" stroke="#000" stroke-width="2.5"/>
<line x1="699.80" y1="1132.90" x2="773.20" y2="1132.90" stroke="#000" stroke-width="2.4"/>
<text x="732.25" y="1132.60" font-size="16.5" text-anchor="middle" letter-spacing="0.5" style="stroke-width:0.55px">**</text>
<text transform="translate(652.60 1381.10) scale(0.975 1)" font-size="19.2">Gate on CD4<tspan dy="-6.5" font-size="12.5">+</tspan><tspan dy="6.5"> T cells</tspan></text>
<line x1="927.45" y1="1163.40" x2="927.45" y2="1176.50" stroke="#ed1c24" stroke-width="2.5"/>
<line x1="915.15" y1="1163.40" x2="939.75" y2="1163.40" stroke="#ed1c24" stroke-width="2.5"/>
<path d="M903.20,1340.10V1177.30H951.70V1340.10" fill="#fff" stroke="#ed1c24" stroke-width="3.6"/>
<line x1="1000.95" y1="1238.10" x2="1000.95" y2="1251.50" stroke="#62bb46" stroke-width="2.5"/>
<line x1="988.65" y1="1238.10" x2="1013.25" y2="1238.10" stroke="#62bb46" stroke-width="2.5"/>
<path d="M976.80,1340.10V1252.30H1025.10V1340.10" fill="#fff" stroke="#62bb46" stroke-width="3.6"/>
<line x1="879.20" y1="1123.60" x2="879.20" y2="1341.30" stroke="#000" stroke-width="2.5"/>
<line x1="873.00" y1="1340.10" x2="1051.70" y2="1340.10" stroke="#000" stroke-width="2.5"/>
<line x1="873.00" y1="1340.10" x2="879.20" y2="1340.10" stroke="#000" stroke-width="2.5"/>
<text transform="translate(868.00 1346.10) scale(0.955 1)" font-size="20.2" text-anchor="end">0</text>
<line x1="873.00" y1="1286.30" x2="879.20" y2="1286.30" stroke="#000" stroke-width="2.5"/>
<text transform="translate(868.00 1292.20) scale(0.955 1)" font-size="20.2" text-anchor="end">20</text>
<line x1="873.00" y1="1232.50" x2="879.20" y2="1232.50" stroke="#000" stroke-width="2.5"/>
<text transform="translate(868.00 1242.70) scale(0.955 1)" font-size="20.2" text-anchor="end">40</text>
<line x1="873.00" y1="1178.70" x2="879.20" y2="1178.70" stroke="#000" stroke-width="2.5"/>
<text transform="translate(868.00 1188.80) scale(0.955 1)" font-size="20.2" text-anchor="end">60</text>
<line x1="873.00" y1="1124.90" x2="879.20" y2="1124.90" stroke="#000" stroke-width="2.5"/>
<text transform="translate(868.00 1133.60) scale(0.955 1)" font-size="20.2" text-anchor="end">80</text>
<line x1="927.00" y1="1340.10" x2="927.00" y2="1346.30" stroke="#000" stroke-width="2.5"/>
<line x1="1001.20" y1="1340.10" x2="1001.20" y2="1346.30" stroke="#000" stroke-width="2.5"/>
<line x1="927.00" y1="1148.00" x2="1000.40" y2="1148.00" stroke="#000" stroke-width="2.4"/>
<text x="962.85" y="1147.40" font-size="16.5" text-anchor="middle" letter-spacing="0.5" style="stroke-width:0.55px">**</text>
<text transform="translate(879.80 1381.10) scale(0.975 1)" font-size="19.2">Gate on CD8<tspan dy="-6.5" font-size="12.5">+</tspan><tspan dy="6.5"> T cells</tspan></text>
<text transform="translate(582.00 1236.40) rotate(-90) scale(0.985 1)" font-size="19.2" text-anchor="middle">percentage of non-</text>
<text transform="translate(604.60 1236.40) rotate(-90) scale(0.985 1)" font-size="19.2" text-anchor="middle">proliferating T cells</text>
<rect x="1110.60" y="1070.60" width="32.40" height="20.00" fill="#808080"/>
<line x1="1112.00" y1="1107.60" x2="1141.60" y2="1107.60" stroke="#000" stroke-width="3.6"/>
<line x1="1112.00" y1="1134.00" x2="1141.60" y2="1134.00" stroke="#ee2a24" stroke-width="3.2"/>
<line x1="1112.00" y1="1160.60" x2="1141.60" y2="1160.60" stroke="#62bb46" stroke-width="3.2"/>
<text transform="translate(1156.00 1087.00) scale(0.98 1)" font-size="19.2">Activated splenocytes</text>
<text transform="translate(1157.40 1113.60) scale(0.98 1)" font-size="19.2">inactivated splenocytes</text>
<text transform="translate(1154.60 1138.60) scale(0.98 1)" font-size="19.2">activated splenocytes+ SCR-MSCs</text>
<text transform="translate(1154.60 1166.60) scale(0.98 1)" font-size="19.2">activated splenocytes+ L2A-OE-MSCs</text>
</svg>
</body></html>
